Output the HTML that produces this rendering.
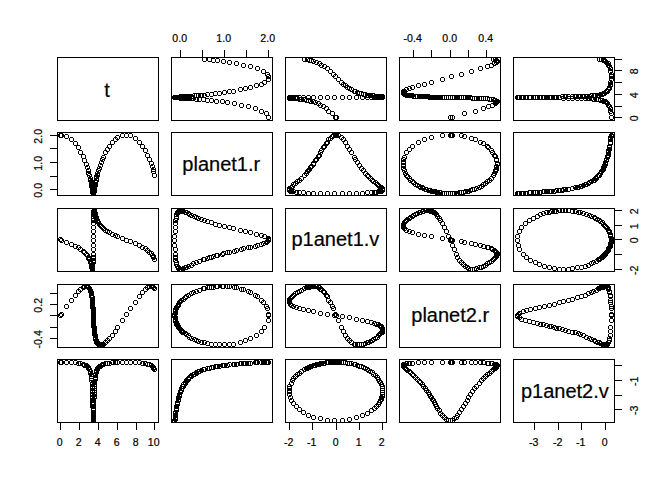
<!DOCTYPE html><html><head><meta charset="utf-8"><title>pairs</title><style>html,body{margin:0;padding:0;background:#fff}svg{display:block}text{font-family:"Liberation Sans",Arial,sans-serif;fill:#000;stroke:#000;stroke-width:0.2px}.a{font-size:10.56px}.l{font-size:20.00px}.p{fill:#000;stroke:none;shape-rendering:crispEdges}.b{fill:none;stroke:#000;stroke-width:1}line{stroke:#000;stroke-width:1}</style></head><body>
<svg width="672" height="480" viewBox="0 0 672 480"><rect width="672" height="480" fill="#fff" stroke="none"/>
<text class="l" x="107.15" y="96.80" text-anchor="middle">t</text>
<rect class="b" x="57.5" y="57.5" width="101.0" height="63.0"/>
<svg x="171.5" y="57.5" width="101.0" height="63.0" viewBox="171.5 57.5 101.0 63.0">
<path class="p" d="M267 115h3v1h-3zm0 4h3v1h-3zm-1-3h1v3h-1zm4 0h1v3h-1zM265 111h3v1h-3zm0 4h3v1h-3zm-1-3h1v3h-1zm4 0h1v3h-1zM260 109h3v1h-3zm0 4h3v1h-3zm-1-3h1v3h-1zm4 0h1v3h-1zM254 106h3v1h-3zm0 4h3v1h-3zm-1-3h1v3h-1zm4 0h1v3h-1zM247 104h3v1h-3zm0 4h3v1h-3zm-1-3h1v3h-1zm4 0h1v3h-1zM240 103h3v1h-3zm0 4h3v1h-3zm-1-3h1v3h-1zm4 0h1v3h-1zM233 101h3v1h-3zm0 4h3v1h-3zm-1-3h1v3h-1zm4 0h1v3h-1zM226 100h3v1h-3zm0 4h3v1h-3zm-1-3h1v3h-1zm4 0h1v3h-1zM221 99h3v1h-3zm0 4h3v1h-3zm-1-3h1v3h-1zm4 0h1v3h-1zM215 99h3v1h-3zm0 4h3v1h-3zm-1-3h1v3h-1zm4 0h1v3h-1zM210 98h3v1h-3zm0 4h3v1h-3zm-1-3h1v3h-1zm4 0h1v3h-1zM206 98h3v1h-3zm0 4h3v1h-3zm-1-3h1v3h-1zm4 0h1v3h-1zM202 97h3v1h-3zm0 4h3v1h-3zm-1-3h1v3h-1zm4 0h1v3h-1zM198 97h3v1h-3zm0 4h3v1h-3zm-1-3h1v3h-1zm4 0h1v3h-1zM195 97h3v1h-3zm0 4h3v1h-3zm-1-3h1v3h-1zm4 0h1v3h-1zM192 96h3v1h-3zm0 4h3v1h-3zm-1-3h1v3h-1zm4 0h1v3h-1zM190 96h3v1h-3zm0 4h3v1h-3zm-1-3h1v3h-1zm4 0h1v3h-1zM187 96h3v1h-3zm0 4h3v1h-3zm-1-3h1v3h-1zm4 0h1v3h-1zM185 96h3v1h-3zm0 4h3v1h-3zm-1-3h1v3h-1zm4 0h1v3h-1zM184 96h3v1h-3zm0 4h3v1h-3zm-1-3h1v3h-1zm4 0h1v3h-1zM182 96h3v1h-3zm0 4h3v1h-3zm-1-3h1v3h-1zm4 0h1v3h-1zM180 96h3v1h-3zm0 4h3v1h-3zm-1-3h1v3h-1zm4 0h1v3h-1zM179 96h3v1h-3zm0 4h3v1h-3zm-1-3h1v3h-1zm4 0h1v3h-1zM178 95h3v1h-3zm0 4h3v1h-3zm-1-3h1v3h-1zm4 0h1v3h-1zM177 95h3v1h-3zm0 4h3v1h-3zm-1-3h1v3h-1zm4 0h1v3h-1zM176 95h3v1h-3zm0 4h3v1h-3zm-1-3h1v3h-1zm4 0h1v3h-1zM175 95h3v1h-3zm0 4h3v1h-3zm-1-3h1v3h-1zm4 0h1v3h-1zM174 95h3v1h-3zm0 4h3v1h-3zm-1-3h1v3h-1zm4 0h1v3h-1zM173 95h3v1h-3zm0 4h3v1h-3zm-1-3h1v3h-1zm4 0h1v3h-1zM179 94h3v1h-3zm0 4h3v1h-3zm-1-3h1v3h-1zm4 0h1v3h-1zM180 94h3v1h-3zm0 4h3v1h-3zm-1-3h1v3h-1zm4 0h1v3h-1zM181 94h3v1h-3zm0 4h3v1h-3zm-1-3h1v3h-1zm4 0h1v3h-1zM182 94h3v1h-3zm0 4h3v1h-3zm-1-3h1v3h-1zm4 0h1v3h-1zM184 94h3v1h-3zm0 4h3v1h-3zm-1-3h1v3h-1zm4 0h1v3h-1zM185 94h3v1h-3zm0 4h3v1h-3zm-1-3h1v3h-1zm4 0h1v3h-1zM187 94h3v1h-3zm0 4h3v1h-3zm-1-3h1v3h-1zm4 0h1v3h-1zM188 94h3v1h-3zm0 4h3v1h-3zm-1-3h1v3h-1zm4 0h1v3h-1zM190 94h3v1h-3zm0 4h3v1h-3zm-1-3h1v3h-1zm4 0h1v3h-1zM193 93h3v1h-3zm0 4h3v1h-3zm-1-3h1v3h-1zm4 0h1v3h-1zM195 93h3v1h-3zm0 4h3v1h-3zm-1-3h1v3h-1zm4 0h1v3h-1zM197 93h3v1h-3zm0 4h3v1h-3zm-1-3h1v3h-1zm4 0h1v3h-1zM200 93h3v1h-3zm0 4h3v1h-3zm-1-3h1v3h-1zm4 0h1v3h-1zM203 93h3v1h-3zm0 4h3v1h-3zm-1-3h1v3h-1zm4 0h1v3h-1zM206 92h3v1h-3zm0 4h3v1h-3zm-1-3h1v3h-1zm4 0h1v3h-1zM210 92h3v1h-3zm0 4h3v1h-3zm-1-3h1v3h-1zm4 0h1v3h-1zM214 91h3v1h-3zm0 4h3v1h-3zm-1-3h1v3h-1zm4 0h1v3h-1zM218 91h3v1h-3zm0 4h3v1h-3zm-1-3h1v3h-1zm4 0h1v3h-1zM223 90h3v1h-3zm0 4h3v1h-3zm-1-3h1v3h-1zm4 0h1v3h-1zM228 89h3v1h-3zm0 4h3v1h-3zm-1-3h1v3h-1zm4 0h1v3h-1zM232 89h3v1h-3zm0 4h3v1h-3zm-1-3h1v3h-1zm4 0h1v3h-1zM239 87h3v1h-3zm0 4h3v1h-3zm-1-3h1v3h-1zm4 0h1v3h-1zM244 86h3v1h-3zm0 4h3v1h-3zm-1-3h1v3h-1zm4 0h1v3h-1zM249 85h3v1h-3zm0 4h3v1h-3zm-1-3h1v3h-1zm4 0h1v3h-1zM255 83h3v1h-3zm0 4h3v1h-3zm-1-3h1v3h-1zm4 0h1v3h-1zM260 82h3v1h-3zm0 4h3v1h-3zm-1-3h1v3h-1zm4 0h1v3h-1zM263 80h3v1h-3zm0 4h3v1h-3zm-1-3h1v3h-1zm4 0h1v3h-1zM267 77h3v1h-3zm0 4h3v1h-3zm-1-3h1v3h-1zm4 0h1v3h-1zM267 74h3v1h-3zm0 4h3v1h-3zm-1-3h1v3h-1zm4 0h1v3h-1zM266 72h3v1h-3zm0 4h3v1h-3zm-1-3h1v3h-1zm4 0h1v3h-1zM262 69h3v1h-3zm0 4h3v1h-3zm-1-3h1v3h-1zm4 0h1v3h-1zM256 66h3v1h-3zm0 4h3v1h-3zm-1-3h1v3h-1zm4 0h1v3h-1zM249 64h3v1h-3zm0 4h3v1h-3zm-1-3h1v3h-1zm4 0h1v3h-1zM242 63h3v1h-3zm0 4h3v1h-3zm-1-3h1v3h-1zm4 0h1v3h-1zM235 61h3v1h-3zm0 4h3v1h-3zm-1-3h1v3h-1zm4 0h1v3h-1zM228 60h3v1h-3zm0 4h3v1h-3zm-1-3h1v3h-1zm4 0h1v3h-1zM222 59h3v1h-3zm0 4h3v1h-3zm-1-3h1v3h-1zm4 0h1v3h-1zM216 58h3v1h-3zm0 4h3v1h-3zm-1-3h1v3h-1zm4 0h1v3h-1zM212 58h3v1h-3zm0 4h3v1h-3zm-1-3h1v3h-1zm4 0h1v3h-1zM208 57h3v1h-3zm0 4h3v1h-3zm-1-3h1v3h-1zm4 0h1v3h-1zM203 57h3v1h-3zm0 4h3v1h-3zm-1-3h1v3h-1zm4 0h1v3h-1z"/>
</svg>
<rect class="b" x="171.5" y="57.5" width="101.0" height="63.0"/>
<svg x="285.5" y="57.5" width="101.0" height="63.0" viewBox="285.5 57.5 101.0 63.0">
<path class="p" d="M335 115h3v1h-3zm0 4h3v1h-3zm-1-3h1v3h-1zm4 0h1v3h-1zM334 115h3v1h-3zm0 4h3v1h-3zm-1-3h1v3h-1zm4 0h1v3h-1zM331 111h3v1h-3zm0 4h3v1h-3zm-1-3h1v3h-1zm4 0h1v3h-1zM327 109h3v1h-3zm0 4h3v1h-3zm-1-3h1v3h-1zm4 0h1v3h-1zM325 106h3v1h-3zm0 4h3v1h-3zm-1-3h1v3h-1zm4 0h1v3h-1zM322 104h3v1h-3zm0 4h3v1h-3zm-1-3h1v3h-1zm4 0h1v3h-1zM319 103h3v1h-3zm0 4h3v1h-3zm-1-3h1v3h-1zm4 0h1v3h-1zM317 101h3v1h-3zm0 4h3v1h-3zm-1-3h1v3h-1zm4 0h1v3h-1zM314 100h3v1h-3zm0 4h3v1h-3zm-1-3h1v3h-1zm4 0h1v3h-1zM312 99h3v1h-3zm0 4h3v1h-3zm-1-3h1v3h-1zm4 0h1v3h-1zM309 99h3v1h-3zm0 4h3v1h-3zm-1-3h1v3h-1zm4 0h1v3h-1zM307 98h3v1h-3zm0 4h3v1h-3zm-1-3h1v3h-1zm4 0h1v3h-1zM305 98h3v1h-3zm0 4h3v1h-3zm-1-3h1v3h-1zm4 0h1v3h-1zM303 97h3v1h-3zm0 4h3v1h-3zm-1-3h1v3h-1zm4 0h1v3h-1zM300 97h3v1h-3zm0 4h3v1h-3zm-1-3h1v3h-1zm4 0h1v3h-1zM298 97h3v1h-3zm0 4h3v1h-3zm-1-3h1v3h-1zm4 0h1v3h-1zM296 96h3v1h-3zm0 4h3v1h-3zm-1-3h1v3h-1zm4 0h1v3h-1zM294 96h3v1h-3zm0 4h3v1h-3zm-1-3h1v3h-1zm4 0h1v3h-1zM292 96h3v1h-3zm0 4h3v1h-3zm-1-3h1v3h-1zm4 0h1v3h-1zM291 96h3v1h-3zm0 4h3v1h-3zm-1-3h1v3h-1zm4 0h1v3h-1zM290 96h3v1h-3zm0 4h3v1h-3zm-1-3h1v3h-1zm4 0h1v3h-1zM288 96h3v1h-3zm0 4h3v1h-3zm-1-3h1v3h-1zm4 0h1v3h-1zM288 95h3v1h-3zm0 4h3v1h-3zm-1-3h1v3h-1zm4 0h1v3h-1zM289 95h3v1h-3zm0 4h3v1h-3zm-1-3h1v3h-1zm4 0h1v3h-1zM290 95h3v1h-3zm0 4h3v1h-3zm-1-3h1v3h-1zm4 0h1v3h-1zM292 95h3v1h-3zm0 4h3v1h-3zm-1-3h1v3h-1zm4 0h1v3h-1zM295 95h3v1h-3zm0 4h3v1h-3zm-1-3h1v3h-1zm4 0h1v3h-1zM298 95h3v1h-3zm0 4h3v1h-3zm-1-3h1v3h-1zm4 0h1v3h-1zM302 95h3v1h-3zm0 4h3v1h-3zm-1-3h1v3h-1zm4 0h1v3h-1zM307 95h3v1h-3zm0 4h3v1h-3zm-1-3h1v3h-1zm4 0h1v3h-1zM312 95h3v1h-3zm0 4h3v1h-3zm-1-3h1v3h-1zm4 0h1v3h-1zM319 95h3v1h-3zm0 4h3v1h-3zm-1-3h1v3h-1zm4 0h1v3h-1zM326 95h3v1h-3zm0 4h3v1h-3zm-1-3h1v3h-1zm4 0h1v3h-1zM333 95h3v1h-3zm0 4h3v1h-3zm-1-3h1v3h-1zm4 0h1v3h-1zM341 95h3v1h-3zm0 4h3v1h-3zm-1-3h1v3h-1zm4 0h1v3h-1zM348 95h3v1h-3zm0 4h3v1h-3zm-1-3h1v3h-1zm4 0h1v3h-1zM355 95h3v1h-3zm0 4h3v1h-3zm-1-3h1v3h-1zm4 0h1v3h-1zM361 95h3v1h-3zm0 4h3v1h-3zm-1-3h1v3h-1zm4 0h1v3h-1zM366 95h3v1h-3zm0 4h3v1h-3zm-1-3h1v3h-1zm4 0h1v3h-1zM370 95h3v1h-3zm0 4h3v1h-3zm-1-3h1v3h-1zm4 0h1v3h-1zM373 95h3v1h-3zm0 4h3v1h-3zm-1-3h1v3h-1zm4 0h1v3h-1zM375 95h3v1h-3zm0 4h3v1h-3zm-1-3h1v3h-1zm4 0h1v3h-1zM377 95h3v1h-3zm0 4h3v1h-3zm-1-3h1v3h-1zm4 0h1v3h-1zM378 95h3v1h-3zm0 4h3v1h-3zm-1-3h1v3h-1zm4 0h1v3h-1zM379 95h3v1h-3zm0 4h3v1h-3zm-1-3h1v3h-1zm4 0h1v3h-1zM380 95h3v1h-3zm0 4h3v1h-3zm-1-3h1v3h-1zm4 0h1v3h-1zM381 95h3v1h-3zm0 4h3v1h-3zm-1-3h1v3h-1zm4 0h1v3h-1zM381 94h3v1h-3zm0 4h3v1h-3zm-1-3h1v3h-1zm4 0h1v3h-1zM380 94h3v1h-3zm0 4h3v1h-3zm-1-3h1v3h-1zm4 0h1v3h-1zM379 94h3v1h-3zm0 4h3v1h-3zm-1-3h1v3h-1zm4 0h1v3h-1zM378 94h3v1h-3zm0 4h3v1h-3zm-1-3h1v3h-1zm4 0h1v3h-1zM377 94h3v1h-3zm0 4h3v1h-3zm-1-3h1v3h-1zm4 0h1v3h-1zM376 94h3v1h-3zm0 4h3v1h-3zm-1-3h1v3h-1zm4 0h1v3h-1zM374 94h3v1h-3zm0 4h3v1h-3zm-1-3h1v3h-1zm4 0h1v3h-1zM372 93h3v1h-3zm0 4h3v1h-3zm-1-3h1v3h-1zm4 0h1v3h-1zM371 93h3v1h-3zm0 4h3v1h-3zm-1-3h1v3h-1zm4 0h1v3h-1zM369 93h3v1h-3zm0 4h3v1h-3zm-1-3h1v3h-1zm4 0h1v3h-1zM367 93h3v1h-3zm0 4h3v1h-3zm-1-3h1v3h-1zm4 0h1v3h-1zM366 93h3v1h-3zm0 4h3v1h-3zm-1-3h1v3h-1zm4 0h1v3h-1zM364 92h3v1h-3zm0 4h3v1h-3zm-1-3h1v3h-1zm4 0h1v3h-1zM362 92h3v1h-3zm0 4h3v1h-3zm-1-3h1v3h-1zm4 0h1v3h-1zM360 91h3v1h-3zm0 4h3v1h-3zm-1-3h1v3h-1zm4 0h1v3h-1zM358 91h3v1h-3zm0 4h3v1h-3zm-1-3h1v3h-1zm4 0h1v3h-1zM356 90h3v1h-3zm0 4h3v1h-3zm-1-3h1v3h-1zm4 0h1v3h-1zM354 89h3v1h-3zm0 4h3v1h-3zm-1-3h1v3h-1zm4 0h1v3h-1zM353 89h3v1h-3zm0 4h3v1h-3zm-1-3h1v3h-1zm4 0h1v3h-1zM350 87h3v1h-3zm0 4h3v1h-3zm-1-3h1v3h-1zm4 0h1v3h-1zM348 86h3v1h-3zm0 4h3v1h-3zm-1-3h1v3h-1zm4 0h1v3h-1zM346 85h3v1h-3zm0 4h3v1h-3zm-1-3h1v3h-1zm4 0h1v3h-1zM344 83h3v1h-3zm0 4h3v1h-3zm-1-3h1v3h-1zm4 0h1v3h-1zM342 82h3v1h-3zm0 4h3v1h-3zm-1-3h1v3h-1zm4 0h1v3h-1zM340 80h3v1h-3zm0 4h3v1h-3zm-1-3h1v3h-1zm4 0h1v3h-1zM337 77h3v1h-3zm0 4h3v1h-3zm-1-3h1v3h-1zm4 0h1v3h-1zM334 74h3v1h-3zm0 4h3v1h-3zm-1-3h1v3h-1zm4 0h1v3h-1zM332 72h3v1h-3zm0 4h3v1h-3zm-1-3h1v3h-1zm4 0h1v3h-1zM329 69h3v1h-3zm0 4h3v1h-3zm-1-3h1v3h-1zm4 0h1v3h-1zM326 66h3v1h-3zm0 4h3v1h-3zm-1-3h1v3h-1zm4 0h1v3h-1zM323 64h3v1h-3zm0 4h3v1h-3zm-1-3h1v3h-1zm4 0h1v3h-1zM320 63h3v1h-3zm0 4h3v1h-3zm-1-3h1v3h-1zm4 0h1v3h-1zM318 61h3v1h-3zm0 4h3v1h-3zm-1-3h1v3h-1zm4 0h1v3h-1zM315 60h3v1h-3zm0 4h3v1h-3zm-1-3h1v3h-1zm4 0h1v3h-1zM312 59h3v1h-3zm0 4h3v1h-3zm-1-3h1v3h-1zm4 0h1v3h-1zM310 58h3v1h-3zm0 4h3v1h-3zm-1-3h1v3h-1zm4 0h1v3h-1zM308 58h3v1h-3zm0 4h3v1h-3zm-1-3h1v3h-1zm4 0h1v3h-1zM306 57h3v1h-3zm0 4h3v1h-3zm-1-3h1v3h-1zm4 0h1v3h-1zM303 57h3v1h-3zm0 4h3v1h-3zm-1-3h1v3h-1zm4 0h1v3h-1z"/>
</svg>
<rect class="b" x="285.5" y="57.5" width="101.0" height="63.0"/>
<svg x="399.5" y="57.5" width="101.0" height="63.0" viewBox="399.5 57.5 101.0 63.0">
<path class="p" d="M449 115h3v1h-3zm0 4h3v1h-3zm-1-3h1v3h-1zm4 0h1v3h-1zM451 115h3v1h-3zm0 4h3v1h-3zm-1-3h1v3h-1zm4 0h1v3h-1zM463 111h3v1h-3zm0 4h3v1h-3zm-1-3h1v3h-1zm4 0h1v3h-1zM474 109h3v1h-3zm0 4h3v1h-3zm-1-3h1v3h-1zm4 0h1v3h-1zM482 106h3v1h-3zm0 4h3v1h-3zm-1-3h1v3h-1zm4 0h1v3h-1zM487 104h3v1h-3zm0 4h3v1h-3zm-1-3h1v3h-1zm4 0h1v3h-1zM491 103h3v1h-3zm0 4h3v1h-3zm-1-3h1v3h-1zm4 0h1v3h-1zM494 101h3v1h-3zm0 4h3v1h-3zm-1-3h1v3h-1zm4 0h1v3h-1zM495 100h3v1h-3zm0 4h3v1h-3zm-1-3h1v3h-1zm4 0h1v3h-1zM496 99h3v1h-3zm0 4h3v1h-3zm-1-3h1v3h-1zm4 0h1v3h-1zM495 99h3v1h-3zm0 4h3v1h-3zm-1-3h1v3h-1zm4 0h1v3h-1zM494 98h3v1h-3zm0 4h3v1h-3zm-1-3h1v3h-1zm4 0h1v3h-1zM493 98h3v1h-3zm0 4h3v1h-3zm-1-3h1v3h-1zm4 0h1v3h-1zM492 97h3v1h-3zm0 4h3v1h-3zm-1-3h1v3h-1zm4 0h1v3h-1zM490 97h3v1h-3zm0 4h3v1h-3zm-1-3h1v3h-1zm4 0h1v3h-1zM488 97h3v1h-3zm0 4h3v1h-3zm-1-3h1v3h-1zm4 0h1v3h-1zM486 96h3v1h-3zm0 4h3v1h-3zm-1-3h1v3h-1zm4 0h1v3h-1zM484 96h3v1h-3zm0 4h3v1h-3zm-1-3h1v3h-1zm4 0h1v3h-1zM482 96h3v1h-3zm0 4h3v1h-3zm-1-3h1v3h-1zm4 0h1v3h-1zM480 96h3v1h-3zm0 4h3v1h-3zm-1-3h1v3h-1zm4 0h1v3h-1zM478 96h3v1h-3zm0 4h3v1h-3zm-1-3h1v3h-1zm4 0h1v3h-1zM475 96h3v1h-3zm0 4h3v1h-3zm-1-3h1v3h-1zm4 0h1v3h-1zM473 96h3v1h-3zm0 4h3v1h-3zm-1-3h1v3h-1zm4 0h1v3h-1zM471 96h3v1h-3zm0 4h3v1h-3zm-1-3h1v3h-1zm4 0h1v3h-1zM469 95h3v1h-3zm0 4h3v1h-3zm-1-3h1v3h-1zm4 0h1v3h-1zM467 95h3v1h-3zm0 4h3v1h-3zm-1-3h1v3h-1zm4 0h1v3h-1zM466 95h3v1h-3zm0 4h3v1h-3zm-1-3h1v3h-1zm4 0h1v3h-1zM464 95h3v1h-3zm0 4h3v1h-3zm-1-3h1v3h-1zm4 0h1v3h-1zM462 95h3v1h-3zm0 4h3v1h-3zm-1-3h1v3h-1zm4 0h1v3h-1zM460 95h3v1h-3zm0 4h3v1h-3zm-1-3h1v3h-1zm4 0h1v3h-1zM458 95h3v1h-3zm0 4h3v1h-3zm-1-3h1v3h-1zm4 0h1v3h-1zM456 95h3v1h-3zm0 4h3v1h-3zm-1-3h1v3h-1zm4 0h1v3h-1zM455 95h3v1h-3zm0 4h3v1h-3zm-1-3h1v3h-1zm4 0h1v3h-1zM453 95h3v1h-3zm0 4h3v1h-3zm-1-3h1v3h-1zm4 0h1v3h-1zM451 95h3v1h-3zm0 4h3v1h-3zm-1-3h1v3h-1zm4 0h1v3h-1zM449 95h3v1h-3zm0 4h3v1h-3zm-1-3h1v3h-1zm4 0h1v3h-1zM447 95h3v1h-3zm0 4h3v1h-3zm-1-3h1v3h-1zm4 0h1v3h-1zM445 95h3v1h-3zm0 4h3v1h-3zm-1-3h1v3h-1zm4 0h1v3h-1zM443 95h3v1h-3zm0 4h3v1h-3zm-1-3h1v3h-1zm4 0h1v3h-1zM441 95h3v1h-3zm0 4h3v1h-3zm-1-3h1v3h-1zm4 0h1v3h-1zM439 95h3v1h-3zm0 4h3v1h-3zm-1-3h1v3h-1zm4 0h1v3h-1zM438 95h3v1h-3zm0 4h3v1h-3zm-1-3h1v3h-1zm4 0h1v3h-1zM436 95h3v1h-3zm0 4h3v1h-3zm-1-3h1v3h-1zm4 0h1v3h-1zM435 95h3v1h-3zm0 4h3v1h-3zm-1-3h1v3h-1zm4 0h1v3h-1zM434 95h3v1h-3zm0 4h3v1h-3zm-1-3h1v3h-1zm4 0h1v3h-1zM433 95h3v1h-3zm0 4h3v1h-3zm-1-3h1v3h-1zm4 0h1v3h-1zM432 95h3v1h-3zm0 4h3v1h-3zm-1-3h1v3h-1zm4 0h1v3h-1zM431 95h3v1h-3zm0 4h3v1h-3zm-1-3h1v3h-1zm4 0h1v3h-1zM430 95h3v1h-3zm0 4h3v1h-3zm-1-3h1v3h-1zm4 0h1v3h-1zM429 95h3v1h-3zm0 4h3v1h-3zm-1-3h1v3h-1zm4 0h1v3h-1zM428 95h3v1h-3zm0 4h3v1h-3zm-1-3h1v3h-1zm4 0h1v3h-1zM427 94h3v1h-3zm0 4h3v1h-3zm-1-3h1v3h-1zm4 0h1v3h-1zM425 94h3v1h-3zm0 4h3v1h-3zm-1-3h1v3h-1zm4 0h1v3h-1zM424 94h3v1h-3zm0 4h3v1h-3zm-1-3h1v3h-1zm4 0h1v3h-1zM422 94h3v1h-3zm0 4h3v1h-3zm-1-3h1v3h-1zm4 0h1v3h-1zM421 94h3v1h-3zm0 4h3v1h-3zm-1-3h1v3h-1zm4 0h1v3h-1zM419 94h3v1h-3zm0 4h3v1h-3zm-1-3h1v3h-1zm4 0h1v3h-1zM418 94h3v1h-3zm0 4h3v1h-3zm-1-3h1v3h-1zm4 0h1v3h-1zM416 94h3v1h-3zm0 4h3v1h-3zm-1-3h1v3h-1zm4 0h1v3h-1zM414 94h3v1h-3zm0 4h3v1h-3zm-1-3h1v3h-1zm4 0h1v3h-1zM412 94h3v1h-3zm0 4h3v1h-3zm-1-3h1v3h-1zm4 0h1v3h-1zM411 93h3v1h-3zm0 4h3v1h-3zm-1-3h1v3h-1zm4 0h1v3h-1zM409 93h3v1h-3zm0 4h3v1h-3zm-1-3h1v3h-1zm4 0h1v3h-1zM408 93h3v1h-3zm0 4h3v1h-3zm-1-3h1v3h-1zm4 0h1v3h-1zM406 93h3v1h-3zm0 4h3v1h-3zm-1-3h1v3h-1zm4 0h1v3h-1zM405 93h3v1h-3zm0 4h3v1h-3zm-1-3h1v3h-1zm4 0h1v3h-1zM404 92h3v1h-3zm0 4h3v1h-3zm-1-3h1v3h-1zm4 0h1v3h-1zM403 92h3v1h-3zm0 4h3v1h-3zm-1-3h1v3h-1zm4 0h1v3h-1zM402 91h3v1h-3zm0 4h3v1h-3zm-1-3h1v3h-1zm4 0h1v3h-1zM402 90h3v1h-3zm0 4h3v1h-3zm-1-3h1v3h-1zm4 0h1v3h-1zM402 89h3v1h-3zm0 4h3v1h-3zm-1-3h1v3h-1zm4 0h1v3h-1zM403 89h3v1h-3zm0 4h3v1h-3zm-1-3h1v3h-1zm4 0h1v3h-1zM405 87h3v1h-3zm0 4h3v1h-3zm-1-3h1v3h-1zm4 0h1v3h-1zM408 86h3v1h-3zm0 4h3v1h-3zm-1-3h1v3h-1zm4 0h1v3h-1zM411 85h3v1h-3zm0 4h3v1h-3zm-1-3h1v3h-1zm4 0h1v3h-1zM417 83h3v1h-3zm0 4h3v1h-3zm-1-3h1v3h-1zm4 0h1v3h-1zM423 82h3v1h-3zm0 4h3v1h-3zm-1-3h1v3h-1zm4 0h1v3h-1zM430 80h3v1h-3zm0 4h3v1h-3zm-1-3h1v3h-1zm4 0h1v3h-1zM441 77h3v1h-3zm0 4h3v1h-3zm-1-3h1v3h-1zm4 0h1v3h-1zM450 74h3v1h-3zm0 4h3v1h-3zm-1-3h1v3h-1zm4 0h1v3h-1zM460 72h3v1h-3zm0 4h3v1h-3zm-1-3h1v3h-1zm4 0h1v3h-1zM470 69h3v1h-3zm0 4h3v1h-3zm-1-3h1v3h-1zm4 0h1v3h-1zM479 66h3v1h-3zm0 4h3v1h-3zm-1-3h1v3h-1zm4 0h1v3h-1zM486 64h3v1h-3zm0 4h3v1h-3zm-1-3h1v3h-1zm4 0h1v3h-1zM490 63h3v1h-3zm0 4h3v1h-3zm-1-3h1v3h-1zm4 0h1v3h-1zM493 61h3v1h-3zm0 4h3v1h-3zm-1-3h1v3h-1zm4 0h1v3h-1zM495 60h3v1h-3zm0 4h3v1h-3zm-1-3h1v3h-1zm4 0h1v3h-1zM496 59h3v1h-3zm0 4h3v1h-3zm-1-3h1v3h-1zm4 0h1v3h-1zM495 58h3v1h-3zm0 4h3v1h-3zm-1-3h1v3h-1zm4 0h1v3h-1zM494 57h3v1h-3zm0 4h3v1h-3zm-1-3h1v3h-1zm4 0h1v3h-1zM492 57h3v1h-3zm0 4h3v1h-3zm-1-3h1v3h-1zm4 0h1v3h-1z"/>
</svg>
<rect class="b" x="399.5" y="57.5" width="101.0" height="63.0"/>
<svg x="513.5" y="57.5" width="101.0" height="63.0" viewBox="513.5 57.5 101.0 63.0">
<path class="p" d="M610 115h3v1h-3zm0 4h3v1h-3zm-1-3h1v3h-1zm4 0h1v3h-1zM610 111h3v1h-3zm0 4h3v1h-3zm-1-3h1v3h-1zm4 0h1v3h-1zM609 109h3v1h-3zm0 4h3v1h-3zm-1-3h1v3h-1zm4 0h1v3h-1zM609 106h3v1h-3zm0 4h3v1h-3zm-1-3h1v3h-1zm4 0h1v3h-1zM608 104h3v1h-3zm0 4h3v1h-3zm-1-3h1v3h-1zm4 0h1v3h-1zM607 103h3v1h-3zm0 4h3v1h-3zm-1-3h1v3h-1zm4 0h1v3h-1zM606 101h3v1h-3zm0 4h3v1h-3zm-1-3h1v3h-1zm4 0h1v3h-1zM605 100h3v1h-3zm0 4h3v1h-3zm-1-3h1v3h-1zm4 0h1v3h-1zM604 99h3v1h-3zm0 4h3v1h-3zm-1-3h1v3h-1zm4 0h1v3h-1zM602 99h3v1h-3zm0 4h3v1h-3zm-1-3h1v3h-1zm4 0h1v3h-1zM601 98h3v1h-3zm0 4h3v1h-3zm-1-3h1v3h-1zm4 0h1v3h-1zM599 98h3v1h-3zm0 4h3v1h-3zm-1-3h1v3h-1zm4 0h1v3h-1zM597 97h3v1h-3zm0 4h3v1h-3zm-1-3h1v3h-1zm4 0h1v3h-1zM595 97h3v1h-3zm0 4h3v1h-3zm-1-3h1v3h-1zm4 0h1v3h-1zM592 97h3v1h-3zm0 4h3v1h-3zm-1-3h1v3h-1zm4 0h1v3h-1zM590 96h3v1h-3zm0 4h3v1h-3zm-1-3h1v3h-1zm4 0h1v3h-1zM587 96h3v1h-3zm0 4h3v1h-3zm-1-3h1v3h-1zm4 0h1v3h-1zM584 96h3v1h-3zm0 4h3v1h-3zm-1-3h1v3h-1zm4 0h1v3h-1zM580 96h3v1h-3zm0 4h3v1h-3zm-1-3h1v3h-1zm4 0h1v3h-1zM576 96h3v1h-3zm0 4h3v1h-3zm-1-3h1v3h-1zm4 0h1v3h-1zM571 96h3v1h-3zm0 4h3v1h-3zm-1-3h1v3h-1zm4 0h1v3h-1zM567 96h3v1h-3zm0 4h3v1h-3zm-1-3h1v3h-1zm4 0h1v3h-1zM562 96h3v1h-3zm0 4h3v1h-3zm-1-3h1v3h-1zm4 0h1v3h-1zM558 95h3v1h-3zm0 4h3v1h-3zm-1-3h1v3h-1zm4 0h1v3h-1zM553 95h3v1h-3zm0 4h3v1h-3zm-1-3h1v3h-1zm4 0h1v3h-1zM548 95h3v1h-3zm0 4h3v1h-3zm-1-3h1v3h-1zm4 0h1v3h-1zM543 95h3v1h-3zm0 4h3v1h-3zm-1-3h1v3h-1zm4 0h1v3h-1zM538 95h3v1h-3zm0 4h3v1h-3zm-1-3h1v3h-1zm4 0h1v3h-1zM534 95h3v1h-3zm0 4h3v1h-3zm-1-3h1v3h-1zm4 0h1v3h-1zM529 95h3v1h-3zm0 4h3v1h-3zm-1-3h1v3h-1zm4 0h1v3h-1zM525 95h3v1h-3zm0 4h3v1h-3zm-1-3h1v3h-1zm4 0h1v3h-1zM522 95h3v1h-3zm0 4h3v1h-3zm-1-3h1v3h-1zm4 0h1v3h-1zM518 95h3v1h-3zm0 4h3v1h-3zm-1-3h1v3h-1zm4 0h1v3h-1zM517 95h3v1h-3zm0 4h3v1h-3zm-1-3h1v3h-1zm4 0h1v3h-1zM516 95h3v1h-3zm0 4h3v1h-3zm-1-3h1v3h-1zm4 0h1v3h-1zM520 95h3v1h-3zm0 4h3v1h-3zm-1-3h1v3h-1zm4 0h1v3h-1zM524 95h3v1h-3zm0 4h3v1h-3zm-1-3h1v3h-1zm4 0h1v3h-1zM528 95h3v1h-3zm0 4h3v1h-3zm-1-3h1v3h-1zm4 0h1v3h-1zM532 95h3v1h-3zm0 4h3v1h-3zm-1-3h1v3h-1zm4 0h1v3h-1zM536 95h3v1h-3zm0 4h3v1h-3zm-1-3h1v3h-1zm4 0h1v3h-1zM539 95h3v1h-3zm0 4h3v1h-3zm-1-3h1v3h-1zm4 0h1v3h-1zM542 95h3v1h-3zm0 4h3v1h-3zm-1-3h1v3h-1zm4 0h1v3h-1zM545 95h3v1h-3zm0 4h3v1h-3zm-1-3h1v3h-1zm4 0h1v3h-1zM550 95h3v1h-3zm0 4h3v1h-3zm-1-3h1v3h-1zm4 0h1v3h-1zM555 95h3v1h-3zm0 4h3v1h-3zm-1-3h1v3h-1zm4 0h1v3h-1zM561 94h3v1h-3zm0 4h3v1h-3zm-1-3h1v3h-1zm4 0h1v3h-1zM564 94h3v1h-3zm0 4h3v1h-3zm-1-3h1v3h-1zm4 0h1v3h-1zM567 94h3v1h-3zm0 4h3v1h-3zm-1-3h1v3h-1zm4 0h1v3h-1zM571 94h3v1h-3zm0 4h3v1h-3zm-1-3h1v3h-1zm4 0h1v3h-1zM574 94h3v1h-3zm0 4h3v1h-3zm-1-3h1v3h-1zm4 0h1v3h-1zM577 94h3v1h-3zm0 4h3v1h-3zm-1-3h1v3h-1zm4 0h1v3h-1zM579 94h3v1h-3zm0 4h3v1h-3zm-1-3h1v3h-1zm4 0h1v3h-1zM582 94h3v1h-3zm0 4h3v1h-3zm-1-3h1v3h-1zm4 0h1v3h-1zM585 94h3v1h-3zm0 4h3v1h-3zm-1-3h1v3h-1zm4 0h1v3h-1zM588 94h3v1h-3zm0 4h3v1h-3zm-1-3h1v3h-1zm4 0h1v3h-1zM590 93h3v1h-3zm0 4h3v1h-3zm-1-3h1v3h-1zm4 0h1v3h-1zM593 93h3v1h-3zm0 4h3v1h-3zm-1-3h1v3h-1zm4 0h1v3h-1zM594 93h3v1h-3zm0 4h3v1h-3zm-1-3h1v3h-1zm4 0h1v3h-1zM596 93h3v1h-3zm0 4h3v1h-3zm-1-3h1v3h-1zm4 0h1v3h-1zM598 93h3v1h-3zm0 4h3v1h-3zm-1-3h1v3h-1zm4 0h1v3h-1zM599 92h3v1h-3zm0 4h3v1h-3zm-1-3h1v3h-1zm4 0h1v3h-1zM601 92h3v1h-3zm0 4h3v1h-3zm-1-3h1v3h-1zm4 0h1v3h-1zM602 91h3v1h-3zm0 4h3v1h-3zm-1-3h1v3h-1zm4 0h1v3h-1zM603 91h3v1h-3zm0 4h3v1h-3zm-1-3h1v3h-1zm4 0h1v3h-1zM604 90h3v1h-3zm0 4h3v1h-3zm-1-3h1v3h-1zm4 0h1v3h-1zM605 89h3v1h-3zm0 4h3v1h-3zm-1-3h1v3h-1zm4 0h1v3h-1zM606 89h3v1h-3zm0 4h3v1h-3zm-1-3h1v3h-1zm4 0h1v3h-1zM607 87h3v1h-3zm0 4h3v1h-3zm-1-3h1v3h-1zm4 0h1v3h-1zM608 86h3v1h-3zm0 4h3v1h-3zm-1-3h1v3h-1zm4 0h1v3h-1zM608 85h3v1h-3zm0 4h3v1h-3zm-1-3h1v3h-1zm4 0h1v3h-1zM609 83h3v1h-3zm0 4h3v1h-3zm-1-3h1v3h-1zm4 0h1v3h-1zM609 82h3v1h-3zm0 4h3v1h-3zm-1-3h1v3h-1zm4 0h1v3h-1zM609 80h3v1h-3zm0 4h3v1h-3zm-1-3h1v3h-1zm4 0h1v3h-1zM610 77h3v1h-3zm0 4h3v1h-3zm-1-3h1v3h-1zm4 0h1v3h-1zM610 74h3v1h-3zm0 4h3v1h-3zm-1-3h1v3h-1zm4 0h1v3h-1zM610 72h3v1h-3zm0 4h3v1h-3zm-1-3h1v3h-1zm4 0h1v3h-1zM609 69h3v1h-3zm0 4h3v1h-3zm-1-3h1v3h-1zm4 0h1v3h-1zM609 66h3v1h-3zm0 4h3v1h-3zm-1-3h1v3h-1zm4 0h1v3h-1zM608 64h3v1h-3zm0 4h3v1h-3zm-1-3h1v3h-1zm4 0h1v3h-1zM607 63h3v1h-3zm0 4h3v1h-3zm-1-3h1v3h-1zm4 0h1v3h-1zM607 61h3v1h-3zm0 4h3v1h-3zm-1-3h1v3h-1zm4 0h1v3h-1zM605 60h3v1h-3zm0 4h3v1h-3zm-1-3h1v3h-1zm4 0h1v3h-1zM604 59h3v1h-3zm0 4h3v1h-3zm-1-3h1v3h-1zm4 0h1v3h-1zM603 58h3v1h-3zm0 4h3v1h-3zm-1-3h1v3h-1zm4 0h1v3h-1zM602 58h3v1h-3zm0 4h3v1h-3zm-1-3h1v3h-1zm4 0h1v3h-1zM600 57h3v1h-3zm0 4h3v1h-3zm-1-3h1v3h-1zm4 0h1v3h-1zM598 57h3v1h-3zm0 4h3v1h-3zm-1-3h1v3h-1zm4 0h1v3h-1z"/>
</svg>
<rect class="b" x="513.5" y="57.5" width="101.0" height="63.0"/>
<svg x="57.5" y="132.5" width="101.0" height="63.0" viewBox="57.5 132.5 101.0 63.0">
<path class="p" d="M59 133h3v1h-3zm0 4h3v1h-3zm-1-3h1v3h-1zm4 0h1v3h-1zM60 133h3v1h-3zm0 4h3v1h-3zm-1-3h1v3h-1zm4 0h1v3h-1zM65 134h3v1h-3zm0 4h3v1h-3zm-1-3h1v3h-1zm4 0h1v3h-1zM70 137h3v1h-3zm0 4h3v1h-3zm-1-3h1v3h-1zm4 0h1v3h-1zM74 141h3v1h-3zm0 4h3v1h-3zm-1-3h1v3h-1zm4 0h1v3h-1zM77 145h3v1h-3zm0 4h3v1h-3zm-1-3h1v3h-1zm4 0h1v3h-1zM79 150h3v1h-3zm0 4h3v1h-3zm-1-3h1v3h-1zm4 0h1v3h-1zM82 154h3v1h-3zm0 4h3v1h-3zm-1-3h1v3h-1zm4 0h1v3h-1zM83 158h3v1h-3zm0 4h3v1h-3zm-1-3h1v3h-1zm4 0h1v3h-1zM85 162h3v1h-3zm0 4h3v1h-3zm-1-3h1v3h-1zm4 0h1v3h-1zM86 165h3v1h-3zm0 4h3v1h-3zm-1-3h1v3h-1zm4 0h1v3h-1zM87 168h3v1h-3zm0 4h3v1h-3zm-1-3h1v3h-1zm4 0h1v3h-1zM87 171h3v1h-3zm0 4h3v1h-3zm-1-3h1v3h-1zm4 0h1v3h-1zM88 173h3v1h-3zm0 4h3v1h-3zm-1-3h1v3h-1zm4 0h1v3h-1zM89 176h3v1h-3zm0 4h3v1h-3zm-1-3h1v3h-1zm4 0h1v3h-1zM89 178h3v1h-3zm0 4h3v1h-3zm-1-3h1v3h-1zm4 0h1v3h-1zM90 179h3v1h-3zm0 4h3v1h-3zm-1-3h1v3h-1zm4 0h1v3h-1zM90 181h3v1h-3zm0 4h3v1h-3zm-1-3h1v3h-1zm4 0h1v3h-1zM90 182h3v1h-3zm0 4h3v1h-3zm-1-3h1v3h-1zm4 0h1v3h-1zM90 184h3v1h-3zm0 4h3v1h-3zm-1-3h1v3h-1zm4 0h1v3h-1zM91 185h3v1h-3zm0 4h3v1h-3zm-1-3h1v3h-1zm4 0h1v3h-1zM91 186h3v1h-3zm0 4h3v1h-3zm-1-3h1v3h-1zm4 0h1v3h-1zM91 187h3v1h-3zm0 4h3v1h-3zm-1-3h1v3h-1zm4 0h1v3h-1zM91 188h3v1h-3zm0 4h3v1h-3zm-1-3h1v3h-1zm4 0h1v3h-1zM91 189h3v1h-3zm0 4h3v1h-3zm-1-3h1v3h-1zm4 0h1v3h-1zM91 190h3v1h-3zm0 4h3v1h-3zm-1-3h1v3h-1zm4 0h1v3h-1zM92 190h3v1h-3zm0 4h3v1h-3zm-1-3h1v3h-1zm4 0h1v3h-1zM92 191h3v1h-3zm0 4h3v1h-3zm-1-3h1v3h-1zm4 0h1v3h-1zM92 189h3v1h-3zm0 4h3v1h-3zm-1-3h1v3h-1zm4 0h1v3h-1zM93 189h3v1h-3zm0 4h3v1h-3zm-1-3h1v3h-1zm4 0h1v3h-1zM93 188h3v1h-3zm0 4h3v1h-3zm-1-3h1v3h-1zm4 0h1v3h-1zM93 187h3v1h-3zm0 4h3v1h-3zm-1-3h1v3h-1zm4 0h1v3h-1zM93 186h3v1h-3zm0 4h3v1h-3zm-1-3h1v3h-1zm4 0h1v3h-1zM93 185h3v1h-3zm0 4h3v1h-3zm-1-3h1v3h-1zm4 0h1v3h-1zM93 184h3v1h-3zm0 4h3v1h-3zm-1-3h1v3h-1zm4 0h1v3h-1zM94 183h3v1h-3zm0 4h3v1h-3zm-1-3h1v3h-1zm4 0h1v3h-1zM94 182h3v1h-3zm0 4h3v1h-3zm-1-3h1v3h-1zm4 0h1v3h-1zM94 180h3v1h-3zm0 4h3v1h-3zm-1-3h1v3h-1zm4 0h1v3h-1zM94 179h3v1h-3zm0 4h3v1h-3zm-1-3h1v3h-1zm4 0h1v3h-1zM95 178h3v1h-3zm0 4h3v1h-3zm-1-3h1v3h-1zm4 0h1v3h-1zM95 176h3v1h-3zm0 4h3v1h-3zm-1-3h1v3h-1zm4 0h1v3h-1zM95 174h3v1h-3zm0 4h3v1h-3zm-1-3h1v3h-1zm4 0h1v3h-1zM96 173h3v1h-3zm0 4h3v1h-3zm-1-3h1v3h-1zm4 0h1v3h-1zM96 171h3v1h-3zm0 4h3v1h-3zm-1-3h1v3h-1zm4 0h1v3h-1zM97 168h3v1h-3zm0 4h3v1h-3zm-1-3h1v3h-1zm4 0h1v3h-1zM98 166h3v1h-3zm0 4h3v1h-3zm-1-3h1v3h-1zm4 0h1v3h-1zM99 163h3v1h-3zm0 4h3v1h-3zm-1-3h1v3h-1zm4 0h1v3h-1zM100 160h3v1h-3zm0 4h3v1h-3zm-1-3h1v3h-1zm4 0h1v3h-1zM101 157h3v1h-3zm0 4h3v1h-3zm-1-3h1v3h-1zm4 0h1v3h-1zM102 155h3v1h-3zm0 4h3v1h-3zm-1-3h1v3h-1zm4 0h1v3h-1zM104 150h3v1h-3zm0 4h3v1h-3zm-1-3h1v3h-1zm4 0h1v3h-1zM106 147h3v1h-3zm0 4h3v1h-3zm-1-3h1v3h-1zm4 0h1v3h-1zM108 144h3v1h-3zm0 4h3v1h-3zm-1-3h1v3h-1zm4 0h1v3h-1zM111 140h3v1h-3zm0 4h3v1h-3zm-1-3h1v3h-1zm4 0h1v3h-1zM114 137h3v1h-3zm0 4h3v1h-3zm-1-3h1v3h-1zm4 0h1v3h-1zM116 135h3v1h-3zm0 4h3v1h-3zm-1-3h1v3h-1zm4 0h1v3h-1zM121 133h3v1h-3zm0 4h3v1h-3zm-1-3h1v3h-1zm4 0h1v3h-1zM125 133h3v1h-3zm0 4h3v1h-3zm-1-3h1v3h-1zm4 0h1v3h-1zM129 133h3v1h-3zm0 4h3v1h-3zm-1-3h1v3h-1zm4 0h1v3h-1zM134 136h3v1h-3zm0 4h3v1h-3zm-1-3h1v3h-1zm4 0h1v3h-1zM138 140h3v1h-3zm0 4h3v1h-3zm-1-3h1v3h-1zm4 0h1v3h-1zM141 144h3v1h-3zm0 4h3v1h-3zm-1-3h1v3h-1zm4 0h1v3h-1zM144 148h3v1h-3zm0 4h3v1h-3zm-1-3h1v3h-1zm4 0h1v3h-1zM146 153h3v1h-3zm0 4h3v1h-3zm-1-3h1v3h-1zm4 0h1v3h-1zM148 157h3v1h-3zm0 4h3v1h-3zm-1-3h1v3h-1zm4 0h1v3h-1zM150 161h3v1h-3zm0 4h3v1h-3zm-1-3h1v3h-1zm4 0h1v3h-1zM151 164h3v1h-3zm0 4h3v1h-3zm-1-3h1v3h-1zm4 0h1v3h-1zM152 167h3v1h-3zm0 4h3v1h-3zm-1-3h1v3h-1zm4 0h1v3h-1zM152 169h3v1h-3zm0 4h3v1h-3zm-1-3h1v3h-1zm4 0h1v3h-1zM153 173h3v1h-3zm0 4h3v1h-3zm-1-3h1v3h-1zm4 0h1v3h-1z"/>
</svg>
<rect class="b" x="57.5" y="132.5" width="101.0" height="63.0"/>
<text class="l" x="221.28" y="170.70" text-anchor="middle">planet1.r</text>
<rect class="b" x="171.5" y="132.5" width="101.0" height="63.0"/>
<svg x="285.5" y="132.5" width="101.0" height="63.0" viewBox="285.5 132.5 101.0 63.0">
<path class="p" d="M335 133h3v1h-3zm0 4h3v1h-3zm-1-3h1v3h-1zm4 0h1v3h-1zM334 133h3v1h-3zm0 4h3v1h-3zm-1-3h1v3h-1zm4 0h1v3h-1zM331 134h3v1h-3zm0 4h3v1h-3zm-1-3h1v3h-1zm4 0h1v3h-1zM327 137h3v1h-3zm0 4h3v1h-3zm-1-3h1v3h-1zm4 0h1v3h-1zM325 141h3v1h-3zm0 4h3v1h-3zm-1-3h1v3h-1zm4 0h1v3h-1zM322 145h3v1h-3zm0 4h3v1h-3zm-1-3h1v3h-1zm4 0h1v3h-1zM319 150h3v1h-3zm0 4h3v1h-3zm-1-3h1v3h-1zm4 0h1v3h-1zM317 154h3v1h-3zm0 4h3v1h-3zm-1-3h1v3h-1zm4 0h1v3h-1zM314 158h3v1h-3zm0 4h3v1h-3zm-1-3h1v3h-1zm4 0h1v3h-1zM312 162h3v1h-3zm0 4h3v1h-3zm-1-3h1v3h-1zm4 0h1v3h-1zM309 165h3v1h-3zm0 4h3v1h-3zm-1-3h1v3h-1zm4 0h1v3h-1zM307 168h3v1h-3zm0 4h3v1h-3zm-1-3h1v3h-1zm4 0h1v3h-1zM305 171h3v1h-3zm0 4h3v1h-3zm-1-3h1v3h-1zm4 0h1v3h-1zM303 173h3v1h-3zm0 4h3v1h-3zm-1-3h1v3h-1zm4 0h1v3h-1zM300 176h3v1h-3zm0 4h3v1h-3zm-1-3h1v3h-1zm4 0h1v3h-1zM298 178h3v1h-3zm0 4h3v1h-3zm-1-3h1v3h-1zm4 0h1v3h-1zM296 179h3v1h-3zm0 4h3v1h-3zm-1-3h1v3h-1zm4 0h1v3h-1zM294 181h3v1h-3zm0 4h3v1h-3zm-1-3h1v3h-1zm4 0h1v3h-1zM292 182h3v1h-3zm0 4h3v1h-3zm-1-3h1v3h-1zm4 0h1v3h-1zM291 184h3v1h-3zm0 4h3v1h-3zm-1-3h1v3h-1zm4 0h1v3h-1zM290 185h3v1h-3zm0 4h3v1h-3zm-1-3h1v3h-1zm4 0h1v3h-1zM288 186h3v1h-3zm0 4h3v1h-3zm-1-3h1v3h-1zm4 0h1v3h-1zM288 187h3v1h-3zm0 4h3v1h-3zm-1-3h1v3h-1zm4 0h1v3h-1zM288 188h3v1h-3zm0 4h3v1h-3zm-1-3h1v3h-1zm4 0h1v3h-1zM289 189h3v1h-3zm0 4h3v1h-3zm-1-3h1v3h-1zm4 0h1v3h-1zM290 189h3v1h-3zm0 4h3v1h-3zm-1-3h1v3h-1zm4 0h1v3h-1zM292 189h3v1h-3zm0 4h3v1h-3zm-1-3h1v3h-1zm4 0h1v3h-1zM295 190h3v1h-3zm0 4h3v1h-3zm-1-3h1v3h-1zm4 0h1v3h-1zM298 190h3v1h-3zm0 4h3v1h-3zm-1-3h1v3h-1zm4 0h1v3h-1zM302 190h3v1h-3zm0 4h3v1h-3zm-1-3h1v3h-1zm4 0h1v3h-1zM307 191h3v1h-3zm0 4h3v1h-3zm-1-3h1v3h-1zm4 0h1v3h-1zM312 191h3v1h-3zm0 4h3v1h-3zm-1-3h1v3h-1zm4 0h1v3h-1zM319 191h3v1h-3zm0 4h3v1h-3zm-1-3h1v3h-1zm4 0h1v3h-1zM326 191h3v1h-3zm0 4h3v1h-3zm-1-3h1v3h-1zm4 0h1v3h-1zM333 191h3v1h-3zm0 4h3v1h-3zm-1-3h1v3h-1zm4 0h1v3h-1zM341 191h3v1h-3zm0 4h3v1h-3zm-1-3h1v3h-1zm4 0h1v3h-1zM348 191h3v1h-3zm0 4h3v1h-3zm-1-3h1v3h-1zm4 0h1v3h-1zM355 191h3v1h-3zm0 4h3v1h-3zm-1-3h1v3h-1zm4 0h1v3h-1zM361 191h3v1h-3zm0 4h3v1h-3zm-1-3h1v3h-1zm4 0h1v3h-1zM366 190h3v1h-3zm0 4h3v1h-3zm-1-3h1v3h-1zm4 0h1v3h-1zM370 190h3v1h-3zm0 4h3v1h-3zm-1-3h1v3h-1zm4 0h1v3h-1zM373 190h3v1h-3zm0 4h3v1h-3zm-1-3h1v3h-1zm4 0h1v3h-1zM375 190h3v1h-3zm0 4h3v1h-3zm-1-3h1v3h-1zm4 0h1v3h-1zM377 189h3v1h-3zm0 4h3v1h-3zm-1-3h1v3h-1zm4 0h1v3h-1zM378 189h3v1h-3zm0 4h3v1h-3zm-1-3h1v3h-1zm4 0h1v3h-1zM379 189h3v1h-3zm0 4h3v1h-3zm-1-3h1v3h-1zm4 0h1v3h-1zM380 189h3v1h-3zm0 4h3v1h-3zm-1-3h1v3h-1zm4 0h1v3h-1zM381 188h3v1h-3zm0 4h3v1h-3zm-1-3h1v3h-1zm4 0h1v3h-1zM381 187h3v1h-3zm0 4h3v1h-3zm-1-3h1v3h-1zm4 0h1v3h-1zM381 186h3v1h-3zm0 4h3v1h-3zm-1-3h1v3h-1zm4 0h1v3h-1zM380 185h3v1h-3zm0 4h3v1h-3zm-1-3h1v3h-1zm4 0h1v3h-1zM379 185h3v1h-3zm0 4h3v1h-3zm-1-3h1v3h-1zm4 0h1v3h-1zM378 184h3v1h-3zm0 4h3v1h-3zm-1-3h1v3h-1zm4 0h1v3h-1zM377 183h3v1h-3zm0 4h3v1h-3zm-1-3h1v3h-1zm4 0h1v3h-1zM376 182h3v1h-3zm0 4h3v1h-3zm-1-3h1v3h-1zm4 0h1v3h-1zM374 180h3v1h-3zm0 4h3v1h-3zm-1-3h1v3h-1zm4 0h1v3h-1zM372 179h3v1h-3zm0 4h3v1h-3zm-1-3h1v3h-1zm4 0h1v3h-1zM371 178h3v1h-3zm0 4h3v1h-3zm-1-3h1v3h-1zm4 0h1v3h-1zM369 176h3v1h-3zm0 4h3v1h-3zm-1-3h1v3h-1zm4 0h1v3h-1zM367 174h3v1h-3zm0 4h3v1h-3zm-1-3h1v3h-1zm4 0h1v3h-1zM366 173h3v1h-3zm0 4h3v1h-3zm-1-3h1v3h-1zm4 0h1v3h-1zM364 171h3v1h-3zm0 4h3v1h-3zm-1-3h1v3h-1zm4 0h1v3h-1zM362 168h3v1h-3zm0 4h3v1h-3zm-1-3h1v3h-1zm4 0h1v3h-1zM360 166h3v1h-3zm0 4h3v1h-3zm-1-3h1v3h-1zm4 0h1v3h-1zM358 163h3v1h-3zm0 4h3v1h-3zm-1-3h1v3h-1zm4 0h1v3h-1zM356 160h3v1h-3zm0 4h3v1h-3zm-1-3h1v3h-1zm4 0h1v3h-1zM354 157h3v1h-3zm0 4h3v1h-3zm-1-3h1v3h-1zm4 0h1v3h-1zM353 155h3v1h-3zm0 4h3v1h-3zm-1-3h1v3h-1zm4 0h1v3h-1zM350 150h3v1h-3zm0 4h3v1h-3zm-1-3h1v3h-1zm4 0h1v3h-1zM348 147h3v1h-3zm0 4h3v1h-3zm-1-3h1v3h-1zm4 0h1v3h-1zM346 144h3v1h-3zm0 4h3v1h-3zm-1-3h1v3h-1zm4 0h1v3h-1zM344 140h3v1h-3zm0 4h3v1h-3zm-1-3h1v3h-1zm4 0h1v3h-1zM342 137h3v1h-3zm0 4h3v1h-3zm-1-3h1v3h-1zm4 0h1v3h-1zM340 135h3v1h-3zm0 4h3v1h-3zm-1-3h1v3h-1zm4 0h1v3h-1zM337 133h3v1h-3zm0 4h3v1h-3zm-1-3h1v3h-1zm4 0h1v3h-1zM332 133h3v1h-3zm0 4h3v1h-3zm-1-3h1v3h-1zm4 0h1v3h-1zM329 136h3v1h-3zm0 4h3v1h-3zm-1-3h1v3h-1zm4 0h1v3h-1zM326 140h3v1h-3zm0 4h3v1h-3zm-1-3h1v3h-1zm4 0h1v3h-1zM323 144h3v1h-3zm0 4h3v1h-3zm-1-3h1v3h-1zm4 0h1v3h-1zM320 148h3v1h-3zm0 4h3v1h-3zm-1-3h1v3h-1zm4 0h1v3h-1zM318 153h3v1h-3zm0 4h3v1h-3zm-1-3h1v3h-1zm4 0h1v3h-1zM315 157h3v1h-3zm0 4h3v1h-3zm-1-3h1v3h-1zm4 0h1v3h-1zM312 161h3v1h-3zm0 4h3v1h-3zm-1-3h1v3h-1zm4 0h1v3h-1zM310 164h3v1h-3zm0 4h3v1h-3zm-1-3h1v3h-1zm4 0h1v3h-1zM308 167h3v1h-3zm0 4h3v1h-3zm-1-3h1v3h-1zm4 0h1v3h-1zM306 169h3v1h-3zm0 4h3v1h-3zm-1-3h1v3h-1zm4 0h1v3h-1z"/>
</svg>
<rect class="b" x="285.5" y="132.5" width="101.0" height="63.0"/>
<svg x="399.5" y="132.5" width="101.0" height="63.0" viewBox="399.5 132.5 101.0 63.0">
<path class="p" d="M449 133h3v1h-3zm0 4h3v1h-3zm-1-3h1v3h-1zm4 0h1v3h-1zM451 133h3v1h-3zm0 4h3v1h-3zm-1-3h1v3h-1zm4 0h1v3h-1zM463 134h3v1h-3zm0 4h3v1h-3zm-1-3h1v3h-1zm4 0h1v3h-1zM474 137h3v1h-3zm0 4h3v1h-3zm-1-3h1v3h-1zm4 0h1v3h-1zM482 141h3v1h-3zm0 4h3v1h-3zm-1-3h1v3h-1zm4 0h1v3h-1zM487 145h3v1h-3zm0 4h3v1h-3zm-1-3h1v3h-1zm4 0h1v3h-1zM491 150h3v1h-3zm0 4h3v1h-3zm-1-3h1v3h-1zm4 0h1v3h-1zM494 154h3v1h-3zm0 4h3v1h-3zm-1-3h1v3h-1zm4 0h1v3h-1zM495 158h3v1h-3zm0 4h3v1h-3zm-1-3h1v3h-1zm4 0h1v3h-1zM496 162h3v1h-3zm0 4h3v1h-3zm-1-3h1v3h-1zm4 0h1v3h-1zM495 165h3v1h-3zm0 4h3v1h-3zm-1-3h1v3h-1zm4 0h1v3h-1zM494 168h3v1h-3zm0 4h3v1h-3zm-1-3h1v3h-1zm4 0h1v3h-1zM493 171h3v1h-3zm0 4h3v1h-3zm-1-3h1v3h-1zm4 0h1v3h-1zM492 173h3v1h-3zm0 4h3v1h-3zm-1-3h1v3h-1zm4 0h1v3h-1zM490 176h3v1h-3zm0 4h3v1h-3zm-1-3h1v3h-1zm4 0h1v3h-1zM488 178h3v1h-3zm0 4h3v1h-3zm-1-3h1v3h-1zm4 0h1v3h-1zM486 179h3v1h-3zm0 4h3v1h-3zm-1-3h1v3h-1zm4 0h1v3h-1zM484 181h3v1h-3zm0 4h3v1h-3zm-1-3h1v3h-1zm4 0h1v3h-1zM482 182h3v1h-3zm0 4h3v1h-3zm-1-3h1v3h-1zm4 0h1v3h-1zM480 184h3v1h-3zm0 4h3v1h-3zm-1-3h1v3h-1zm4 0h1v3h-1zM478 185h3v1h-3zm0 4h3v1h-3zm-1-3h1v3h-1zm4 0h1v3h-1zM475 186h3v1h-3zm0 4h3v1h-3zm-1-3h1v3h-1zm4 0h1v3h-1zM473 187h3v1h-3zm0 4h3v1h-3zm-1-3h1v3h-1zm4 0h1v3h-1zM471 187h3v1h-3zm0 4h3v1h-3zm-1-3h1v3h-1zm4 0h1v3h-1zM469 188h3v1h-3zm0 4h3v1h-3zm-1-3h1v3h-1zm4 0h1v3h-1zM467 189h3v1h-3zm0 4h3v1h-3zm-1-3h1v3h-1zm4 0h1v3h-1zM466 189h3v1h-3zm0 4h3v1h-3zm-1-3h1v3h-1zm4 0h1v3h-1zM464 189h3v1h-3zm0 4h3v1h-3zm-1-3h1v3h-1zm4 0h1v3h-1zM462 190h3v1h-3zm0 4h3v1h-3zm-1-3h1v3h-1zm4 0h1v3h-1zM460 190h3v1h-3zm0 4h3v1h-3zm-1-3h1v3h-1zm4 0h1v3h-1zM458 190h3v1h-3zm0 4h3v1h-3zm-1-3h1v3h-1zm4 0h1v3h-1zM456 191h3v1h-3zm0 4h3v1h-3zm-1-3h1v3h-1zm4 0h1v3h-1zM455 191h3v1h-3zm0 4h3v1h-3zm-1-3h1v3h-1zm4 0h1v3h-1zM453 191h3v1h-3zm0 4h3v1h-3zm-1-3h1v3h-1zm4 0h1v3h-1zM451 191h3v1h-3zm0 4h3v1h-3zm-1-3h1v3h-1zm4 0h1v3h-1zM449 191h3v1h-3zm0 4h3v1h-3zm-1-3h1v3h-1zm4 0h1v3h-1zM447 191h3v1h-3zm0 4h3v1h-3zm-1-3h1v3h-1zm4 0h1v3h-1zM445 191h3v1h-3zm0 4h3v1h-3zm-1-3h1v3h-1zm4 0h1v3h-1zM443 191h3v1h-3zm0 4h3v1h-3zm-1-3h1v3h-1zm4 0h1v3h-1zM441 191h3v1h-3zm0 4h3v1h-3zm-1-3h1v3h-1zm4 0h1v3h-1zM439 190h3v1h-3zm0 4h3v1h-3zm-1-3h1v3h-1zm4 0h1v3h-1zM438 190h3v1h-3zm0 4h3v1h-3zm-1-3h1v3h-1zm4 0h1v3h-1zM436 190h3v1h-3zm0 4h3v1h-3zm-1-3h1v3h-1zm4 0h1v3h-1zM435 190h3v1h-3zm0 4h3v1h-3zm-1-3h1v3h-1zm4 0h1v3h-1zM434 189h3v1h-3zm0 4h3v1h-3zm-1-3h1v3h-1zm4 0h1v3h-1zM433 189h3v1h-3zm0 4h3v1h-3zm-1-3h1v3h-1zm4 0h1v3h-1zM432 189h3v1h-3zm0 4h3v1h-3zm-1-3h1v3h-1zm4 0h1v3h-1zM431 189h3v1h-3zm0 4h3v1h-3zm-1-3h1v3h-1zm4 0h1v3h-1zM430 189h3v1h-3zm0 4h3v1h-3zm-1-3h1v3h-1zm4 0h1v3h-1zM429 188h3v1h-3zm0 4h3v1h-3zm-1-3h1v3h-1zm4 0h1v3h-1zM428 188h3v1h-3zm0 4h3v1h-3zm-1-3h1v3h-1zm4 0h1v3h-1zM427 188h3v1h-3zm0 4h3v1h-3zm-1-3h1v3h-1zm4 0h1v3h-1zM425 187h3v1h-3zm0 4h3v1h-3zm-1-3h1v3h-1zm4 0h1v3h-1zM424 187h3v1h-3zm0 4h3v1h-3zm-1-3h1v3h-1zm4 0h1v3h-1zM422 186h3v1h-3zm0 4h3v1h-3zm-1-3h1v3h-1zm4 0h1v3h-1zM421 185h3v1h-3zm0 4h3v1h-3zm-1-3h1v3h-1zm4 0h1v3h-1zM419 185h3v1h-3zm0 4h3v1h-3zm-1-3h1v3h-1zm4 0h1v3h-1zM418 184h3v1h-3zm0 4h3v1h-3zm-1-3h1v3h-1zm4 0h1v3h-1zM416 183h3v1h-3zm0 4h3v1h-3zm-1-3h1v3h-1zm4 0h1v3h-1zM414 182h3v1h-3zm0 4h3v1h-3zm-1-3h1v3h-1zm4 0h1v3h-1zM412 180h3v1h-3zm0 4h3v1h-3zm-1-3h1v3h-1zm4 0h1v3h-1zM411 179h3v1h-3zm0 4h3v1h-3zm-1-3h1v3h-1zm4 0h1v3h-1zM409 178h3v1h-3zm0 4h3v1h-3zm-1-3h1v3h-1zm4 0h1v3h-1zM408 176h3v1h-3zm0 4h3v1h-3zm-1-3h1v3h-1zm4 0h1v3h-1zM406 174h3v1h-3zm0 4h3v1h-3zm-1-3h1v3h-1zm4 0h1v3h-1zM405 173h3v1h-3zm0 4h3v1h-3zm-1-3h1v3h-1zm4 0h1v3h-1zM404 171h3v1h-3zm0 4h3v1h-3zm-1-3h1v3h-1zm4 0h1v3h-1zM403 168h3v1h-3zm0 4h3v1h-3zm-1-3h1v3h-1zm4 0h1v3h-1zM402 166h3v1h-3zm0 4h3v1h-3zm-1-3h1v3h-1zm4 0h1v3h-1zM402 163h3v1h-3zm0 4h3v1h-3zm-1-3h1v3h-1zm4 0h1v3h-1zM402 160h3v1h-3zm0 4h3v1h-3zm-1-3h1v3h-1zm4 0h1v3h-1zM402 157h3v1h-3zm0 4h3v1h-3zm-1-3h1v3h-1zm4 0h1v3h-1zM403 155h3v1h-3zm0 4h3v1h-3zm-1-3h1v3h-1zm4 0h1v3h-1zM405 150h3v1h-3zm0 4h3v1h-3zm-1-3h1v3h-1zm4 0h1v3h-1zM408 147h3v1h-3zm0 4h3v1h-3zm-1-3h1v3h-1zm4 0h1v3h-1zM411 144h3v1h-3zm0 4h3v1h-3zm-1-3h1v3h-1zm4 0h1v3h-1zM417 140h3v1h-3zm0 4h3v1h-3zm-1-3h1v3h-1zm4 0h1v3h-1zM423 137h3v1h-3zm0 4h3v1h-3zm-1-3h1v3h-1zm4 0h1v3h-1zM430 135h3v1h-3zm0 4h3v1h-3zm-1-3h1v3h-1zm4 0h1v3h-1zM441 133h3v1h-3zm0 4h3v1h-3zm-1-3h1v3h-1zm4 0h1v3h-1zM450 133h3v1h-3zm0 4h3v1h-3zm-1-3h1v3h-1zm4 0h1v3h-1zM460 133h3v1h-3zm0 4h3v1h-3zm-1-3h1v3h-1zm4 0h1v3h-1zM470 136h3v1h-3zm0 4h3v1h-3zm-1-3h1v3h-1zm4 0h1v3h-1zM479 140h3v1h-3zm0 4h3v1h-3zm-1-3h1v3h-1zm4 0h1v3h-1zM486 144h3v1h-3zm0 4h3v1h-3zm-1-3h1v3h-1zm4 0h1v3h-1zM490 148h3v1h-3zm0 4h3v1h-3zm-1-3h1v3h-1zm4 0h1v3h-1zM493 153h3v1h-3zm0 4h3v1h-3zm-1-3h1v3h-1zm4 0h1v3h-1zM495 157h3v1h-3zm0 4h3v1h-3zm-1-3h1v3h-1zm4 0h1v3h-1zM496 161h3v1h-3zm0 4h3v1h-3zm-1-3h1v3h-1zm4 0h1v3h-1zM495 164h3v1h-3zm0 4h3v1h-3zm-1-3h1v3h-1zm4 0h1v3h-1zM495 167h3v1h-3zm0 4h3v1h-3zm-1-3h1v3h-1zm4 0h1v3h-1zM494 169h3v1h-3zm0 4h3v1h-3zm-1-3h1v3h-1zm4 0h1v3h-1z"/>
</svg>
<rect class="b" x="399.5" y="132.5" width="101.0" height="63.0"/>
<svg x="513.5" y="132.5" width="101.0" height="63.0" viewBox="513.5 132.5 101.0 63.0">
<path class="p" d="M610 133h3v1h-3zm0 4h3v1h-3zm-1-3h1v3h-1zm4 0h1v3h-1zM610 134h3v1h-3zm0 4h3v1h-3zm-1-3h1v3h-1zm4 0h1v3h-1zM609 137h3v1h-3zm0 4h3v1h-3zm-1-3h1v3h-1zm4 0h1v3h-1zM609 141h3v1h-3zm0 4h3v1h-3zm-1-3h1v3h-1zm4 0h1v3h-1zM608 145h3v1h-3zm0 4h3v1h-3zm-1-3h1v3h-1zm4 0h1v3h-1zM607 150h3v1h-3zm0 4h3v1h-3zm-1-3h1v3h-1zm4 0h1v3h-1zM606 154h3v1h-3zm0 4h3v1h-3zm-1-3h1v3h-1zm4 0h1v3h-1zM605 158h3v1h-3zm0 4h3v1h-3zm-1-3h1v3h-1zm4 0h1v3h-1zM604 162h3v1h-3zm0 4h3v1h-3zm-1-3h1v3h-1zm4 0h1v3h-1zM602 165h3v1h-3zm0 4h3v1h-3zm-1-3h1v3h-1zm4 0h1v3h-1zM601 168h3v1h-3zm0 4h3v1h-3zm-1-3h1v3h-1zm4 0h1v3h-1zM599 171h3v1h-3zm0 4h3v1h-3zm-1-3h1v3h-1zm4 0h1v3h-1zM597 173h3v1h-3zm0 4h3v1h-3zm-1-3h1v3h-1zm4 0h1v3h-1zM595 176h3v1h-3zm0 4h3v1h-3zm-1-3h1v3h-1zm4 0h1v3h-1zM592 178h3v1h-3zm0 4h3v1h-3zm-1-3h1v3h-1zm4 0h1v3h-1zM590 179h3v1h-3zm0 4h3v1h-3zm-1-3h1v3h-1zm4 0h1v3h-1zM587 181h3v1h-3zm0 4h3v1h-3zm-1-3h1v3h-1zm4 0h1v3h-1zM584 182h3v1h-3zm0 4h3v1h-3zm-1-3h1v3h-1zm4 0h1v3h-1zM580 184h3v1h-3zm0 4h3v1h-3zm-1-3h1v3h-1zm4 0h1v3h-1zM576 185h3v1h-3zm0 4h3v1h-3zm-1-3h1v3h-1zm4 0h1v3h-1zM571 186h3v1h-3zm0 4h3v1h-3zm-1-3h1v3h-1zm4 0h1v3h-1zM567 187h3v1h-3zm0 4h3v1h-3zm-1-3h1v3h-1zm4 0h1v3h-1zM562 187h3v1h-3zm0 4h3v1h-3zm-1-3h1v3h-1zm4 0h1v3h-1zM558 188h3v1h-3zm0 4h3v1h-3zm-1-3h1v3h-1zm4 0h1v3h-1zM553 189h3v1h-3zm0 4h3v1h-3zm-1-3h1v3h-1zm4 0h1v3h-1zM548 189h3v1h-3zm0 4h3v1h-3zm-1-3h1v3h-1zm4 0h1v3h-1zM543 189h3v1h-3zm0 4h3v1h-3zm-1-3h1v3h-1zm4 0h1v3h-1zM538 190h3v1h-3zm0 4h3v1h-3zm-1-3h1v3h-1zm4 0h1v3h-1zM534 190h3v1h-3zm0 4h3v1h-3zm-1-3h1v3h-1zm4 0h1v3h-1zM529 190h3v1h-3zm0 4h3v1h-3zm-1-3h1v3h-1zm4 0h1v3h-1zM525 191h3v1h-3zm0 4h3v1h-3zm-1-3h1v3h-1zm4 0h1v3h-1zM522 191h3v1h-3zm0 4h3v1h-3zm-1-3h1v3h-1zm4 0h1v3h-1zM518 191h3v1h-3zm0 4h3v1h-3zm-1-3h1v3h-1zm4 0h1v3h-1zM517 191h3v1h-3zm0 4h3v1h-3zm-1-3h1v3h-1zm4 0h1v3h-1zM516 191h3v1h-3zm0 4h3v1h-3zm-1-3h1v3h-1zm4 0h1v3h-1zM520 191h3v1h-3zm0 4h3v1h-3zm-1-3h1v3h-1zm4 0h1v3h-1zM524 191h3v1h-3zm0 4h3v1h-3zm-1-3h1v3h-1zm4 0h1v3h-1zM528 190h3v1h-3zm0 4h3v1h-3zm-1-3h1v3h-1zm4 0h1v3h-1zM532 190h3v1h-3zm0 4h3v1h-3zm-1-3h1v3h-1zm4 0h1v3h-1zM536 190h3v1h-3zm0 4h3v1h-3zm-1-3h1v3h-1zm4 0h1v3h-1zM539 190h3v1h-3zm0 4h3v1h-3zm-1-3h1v3h-1zm4 0h1v3h-1zM542 189h3v1h-3zm0 4h3v1h-3zm-1-3h1v3h-1zm4 0h1v3h-1zM545 189h3v1h-3zm0 4h3v1h-3zm-1-3h1v3h-1zm4 0h1v3h-1zM550 189h3v1h-3zm0 4h3v1h-3zm-1-3h1v3h-1zm4 0h1v3h-1zM555 188h3v1h-3zm0 4h3v1h-3zm-1-3h1v3h-1zm4 0h1v3h-1zM561 188h3v1h-3zm0 4h3v1h-3zm-1-3h1v3h-1zm4 0h1v3h-1zM564 187h3v1h-3zm0 4h3v1h-3zm-1-3h1v3h-1zm4 0h1v3h-1zM574 185h3v1h-3zm0 4h3v1h-3zm-1-3h1v3h-1zm4 0h1v3h-1zM577 185h3v1h-3zm0 4h3v1h-3zm-1-3h1v3h-1zm4 0h1v3h-1zM579 184h3v1h-3zm0 4h3v1h-3zm-1-3h1v3h-1zm4 0h1v3h-1zM582 183h3v1h-3zm0 4h3v1h-3zm-1-3h1v3h-1zm4 0h1v3h-1zM585 182h3v1h-3zm0 4h3v1h-3zm-1-3h1v3h-1zm4 0h1v3h-1zM588 180h3v1h-3zm0 4h3v1h-3zm-1-3h1v3h-1zm4 0h1v3h-1zM593 178h3v1h-3zm0 4h3v1h-3zm-1-3h1v3h-1zm4 0h1v3h-1zM594 176h3v1h-3zm0 4h3v1h-3zm-1-3h1v3h-1zm4 0h1v3h-1zM596 174h3v1h-3zm0 4h3v1h-3zm-1-3h1v3h-1zm4 0h1v3h-1zM598 173h3v1h-3zm0 4h3v1h-3zm-1-3h1v3h-1zm4 0h1v3h-1zM602 166h3v1h-3zm0 4h3v1h-3zm-1-3h1v3h-1zm4 0h1v3h-1zM603 163h3v1h-3zm0 4h3v1h-3zm-1-3h1v3h-1zm4 0h1v3h-1zM604 160h3v1h-3zm0 4h3v1h-3zm-1-3h1v3h-1zm4 0h1v3h-1zM605 157h3v1h-3zm0 4h3v1h-3zm-1-3h1v3h-1zm4 0h1v3h-1zM606 155h3v1h-3zm0 4h3v1h-3zm-1-3h1v3h-1zm4 0h1v3h-1zM608 147h3v1h-3zm0 4h3v1h-3zm-1-3h1v3h-1zm4 0h1v3h-1zM608 144h3v1h-3zm0 4h3v1h-3zm-1-3h1v3h-1zm4 0h1v3h-1zM609 140h3v1h-3zm0 4h3v1h-3zm-1-3h1v3h-1zm4 0h1v3h-1zM609 135h3v1h-3zm0 4h3v1h-3zm-1-3h1v3h-1zm4 0h1v3h-1zM609 136h3v1h-3zm0 4h3v1h-3zm-1-3h1v3h-1zm4 0h1v3h-1zM607 148h3v1h-3zm0 4h3v1h-3zm-1-3h1v3h-1zm4 0h1v3h-1zM607 153h3v1h-3zm0 4h3v1h-3zm-1-3h1v3h-1zm4 0h1v3h-1zM604 161h3v1h-3zm0 4h3v1h-3zm-1-3h1v3h-1zm4 0h1v3h-1zM603 164h3v1h-3zm0 4h3v1h-3zm-1-3h1v3h-1zm4 0h1v3h-1zM602 167h3v1h-3zm0 4h3v1h-3zm-1-3h1v3h-1zm4 0h1v3h-1zM600 169h3v1h-3zm0 4h3v1h-3zm-1-3h1v3h-1zm4 0h1v3h-1z"/>
</svg>
<rect class="b" x="513.5" y="132.5" width="101.0" height="63.0"/>
<svg x="57.5" y="208.5" width="101.0" height="63.0" viewBox="57.5 208.5 101.0 63.0">
<path class="p" d="M59 237h3v1h-3zm0 4h3v1h-3zm-1-3h1v3h-1zm4 0h1v3h-1zM60 238h3v1h-3zm0 4h3v1h-3zm-1-3h1v3h-1zm4 0h1v3h-1zM65 240h3v1h-3zm0 4h3v1h-3zm-1-3h1v3h-1zm4 0h1v3h-1zM70 242h3v1h-3zm0 4h3v1h-3zm-1-3h1v3h-1zm4 0h1v3h-1zM74 244h3v1h-3zm0 4h3v1h-3zm-1-3h1v3h-1zm4 0h1v3h-1zM77 245h3v1h-3zm0 4h3v1h-3zm-1-3h1v3h-1zm4 0h1v3h-1zM79 247h3v1h-3zm0 4h3v1h-3zm-1-3h1v3h-1zm4 0h1v3h-1zM82 249h3v1h-3zm0 4h3v1h-3zm-1-3h1v3h-1zm4 0h1v3h-1zM83 250h3v1h-3zm0 4h3v1h-3zm-1-3h1v3h-1zm4 0h1v3h-1zM85 252h3v1h-3zm0 4h3v1h-3zm-1-3h1v3h-1zm4 0h1v3h-1zM86 253h3v1h-3zm0 4h3v1h-3zm-1-3h1v3h-1zm4 0h1v3h-1zM87 255h3v1h-3zm0 4h3v1h-3zm-1-3h1v3h-1zm4 0h1v3h-1zM87 256h3v1h-3zm0 4h3v1h-3zm-1-3h1v3h-1zm4 0h1v3h-1zM88 257h3v1h-3zm0 4h3v1h-3zm-1-3h1v3h-1zm4 0h1v3h-1zM89 259h3v1h-3zm0 4h3v1h-3zm-1-3h1v3h-1zm4 0h1v3h-1zM89 260h3v1h-3zm0 4h3v1h-3zm-1-3h1v3h-1zm4 0h1v3h-1zM90 261h3v1h-3zm0 4h3v1h-3zm-1-3h1v3h-1zm4 0h1v3h-1zM90 263h3v1h-3zm0 4h3v1h-3zm-1-3h1v3h-1zm4 0h1v3h-1zM90 264h3v1h-3zm0 4h3v1h-3zm-1-3h1v3h-1zm4 0h1v3h-1zM90 265h3v1h-3zm0 4h3v1h-3zm-1-3h1v3h-1zm4 0h1v3h-1zM91 265h3v1h-3zm0 4h3v1h-3zm-1-3h1v3h-1zm4 0h1v3h-1zM91 266h3v1h-3zm0 4h3v1h-3zm-1-3h1v3h-1zm4 0h1v3h-1zM91 267h3v1h-3zm0 4h3v1h-3zm-1-3h1v3h-1zm4 0h1v3h-1zM91 264h3v1h-3zm0 4h3v1h-3zm-1-3h1v3h-1zm4 0h1v3h-1zM91 262h3v1h-3zm0 4h3v1h-3zm-1-3h1v3h-1zm4 0h1v3h-1zM92 260h3v1h-3zm0 4h3v1h-3zm-1-3h1v3h-1zm4 0h1v3h-1zM92 258h3v1h-3zm0 4h3v1h-3zm-1-3h1v3h-1zm4 0h1v3h-1zM92 255h3v1h-3zm0 4h3v1h-3zm-1-3h1v3h-1zm4 0h1v3h-1zM92 252h3v1h-3zm0 4h3v1h-3zm-1-3h1v3h-1zm4 0h1v3h-1zM92 247h3v1h-3zm0 4h3v1h-3zm-1-3h1v3h-1zm4 0h1v3h-1zM92 243h3v1h-3zm0 4h3v1h-3zm-1-3h1v3h-1zm4 0h1v3h-1zM92 238h3v1h-3zm0 4h3v1h-3zm-1-3h1v3h-1zm4 0h1v3h-1zM92 234h3v1h-3zm0 4h3v1h-3zm-1-3h1v3h-1zm4 0h1v3h-1zM92 229h3v1h-3zm0 4h3v1h-3zm-1-3h1v3h-1zm4 0h1v3h-1zM92 225h3v1h-3zm0 4h3v1h-3zm-1-3h1v3h-1zm4 0h1v3h-1zM92 221h3v1h-3zm0 4h3v1h-3zm-1-3h1v3h-1zm4 0h1v3h-1zM92 218h3v1h-3zm0 4h3v1h-3zm-1-3h1v3h-1zm4 0h1v3h-1zM92 216h3v1h-3zm0 4h3v1h-3zm-1-3h1v3h-1zm4 0h1v3h-1zM92 214h3v1h-3zm0 4h3v1h-3zm-1-3h1v3h-1zm4 0h1v3h-1zM92 212h3v1h-3zm0 4h3v1h-3zm-1-3h1v3h-1zm4 0h1v3h-1zM92 211h3v1h-3zm0 4h3v1h-3zm-1-3h1v3h-1zm4 0h1v3h-1zM92 210h3v1h-3zm0 4h3v1h-3zm-1-3h1v3h-1zm4 0h1v3h-1zM92 209h3v1h-3zm0 4h3v1h-3zm-1-3h1v3h-1zm4 0h1v3h-1zM93 209h3v1h-3zm0 4h3v1h-3zm-1-3h1v3h-1zm4 0h1v3h-1zM93 208h3v1h-3zm0 4h3v1h-3zm-1-3h1v3h-1zm4 0h1v3h-1zM93 210h3v1h-3zm0 4h3v1h-3zm-1-3h1v3h-1zm4 0h1v3h-1zM94 211h3v1h-3zm0 4h3v1h-3zm-1-3h1v3h-1zm4 0h1v3h-1zM94 212h3v1h-3zm0 4h3v1h-3zm-1-3h1v3h-1zm4 0h1v3h-1zM94 213h3v1h-3zm0 4h3v1h-3zm-1-3h1v3h-1zm4 0h1v3h-1zM94 214h3v1h-3zm0 4h3v1h-3zm-1-3h1v3h-1zm4 0h1v3h-1zM95 215h3v1h-3zm0 4h3v1h-3zm-1-3h1v3h-1zm4 0h1v3h-1zM95 216h3v1h-3zm0 4h3v1h-3zm-1-3h1v3h-1zm4 0h1v3h-1zM95 217h3v1h-3zm0 4h3v1h-3zm-1-3h1v3h-1zm4 0h1v3h-1zM96 218h3v1h-3zm0 4h3v1h-3zm-1-3h1v3h-1zm4 0h1v3h-1zM96 219h3v1h-3zm0 4h3v1h-3zm-1-3h1v3h-1zm4 0h1v3h-1zM97 220h3v1h-3zm0 4h3v1h-3zm-1-3h1v3h-1zm4 0h1v3h-1zM98 222h3v1h-3zm0 4h3v1h-3zm-1-3h1v3h-1zm4 0h1v3h-1zM99 223h3v1h-3zm0 4h3v1h-3zm-1-3h1v3h-1zm4 0h1v3h-1zM100 224h3v1h-3zm0 4h3v1h-3zm-1-3h1v3h-1zm4 0h1v3h-1zM101 225h3v1h-3zm0 4h3v1h-3zm-1-3h1v3h-1zm4 0h1v3h-1zM102 226h3v1h-3zm0 4h3v1h-3zm-1-3h1v3h-1zm4 0h1v3h-1zM104 228h3v1h-3zm0 4h3v1h-3zm-1-3h1v3h-1zm4 0h1v3h-1zM106 229h3v1h-3zm0 4h3v1h-3zm-1-3h1v3h-1zm4 0h1v3h-1zM108 230h3v1h-3zm0 4h3v1h-3zm-1-3h1v3h-1zm4 0h1v3h-1zM111 232h3v1h-3zm0 4h3v1h-3zm-1-3h1v3h-1zm4 0h1v3h-1zM114 233h3v1h-3zm0 4h3v1h-3zm-1-3h1v3h-1zm4 0h1v3h-1zM116 234h3v1h-3zm0 4h3v1h-3zm-1-3h1v3h-1zm4 0h1v3h-1zM121 236h3v1h-3zm0 4h3v1h-3zm-1-3h1v3h-1zm4 0h1v3h-1zM125 238h3v1h-3zm0 4h3v1h-3zm-1-3h1v3h-1zm4 0h1v3h-1zM129 239h3v1h-3zm0 4h3v1h-3zm-1-3h1v3h-1zm4 0h1v3h-1zM134 241h3v1h-3zm0 4h3v1h-3zm-1-3h1v3h-1zm4 0h1v3h-1zM138 243h3v1h-3zm0 4h3v1h-3zm-1-3h1v3h-1zm4 0h1v3h-1zM141 245h3v1h-3zm0 4h3v1h-3zm-1-3h1v3h-1zm4 0h1v3h-1zM144 246h3v1h-3zm0 4h3v1h-3zm-1-3h1v3h-1zm4 0h1v3h-1zM146 248h3v1h-3zm0 4h3v1h-3zm-1-3h1v3h-1zm4 0h1v3h-1zM148 250h3v1h-3zm0 4h3v1h-3zm-1-3h1v3h-1zm4 0h1v3h-1zM150 251h3v1h-3zm0 4h3v1h-3zm-1-3h1v3h-1zm4 0h1v3h-1zM151 253h3v1h-3zm0 4h3v1h-3zm-1-3h1v3h-1zm4 0h1v3h-1zM152 254h3v1h-3zm0 4h3v1h-3zm-1-3h1v3h-1zm4 0h1v3h-1zM152 255h3v1h-3zm0 4h3v1h-3zm-1-3h1v3h-1zm4 0h1v3h-1zM153 257h3v1h-3zm0 4h3v1h-3zm-1-3h1v3h-1zm4 0h1v3h-1z"/>
</svg>
<rect class="b" x="57.5" y="208.5" width="101.0" height="63.0"/>
<svg x="171.5" y="208.5" width="101.0" height="63.0" viewBox="171.5 208.5 101.0 63.0">
<path class="p" d="M267 237h3v1h-3zm0 4h3v1h-3zm-1-3h1v3h-1zm4 0h1v3h-1zM267 238h3v1h-3zm0 4h3v1h-3zm-1-3h1v3h-1zm4 0h1v3h-1zM265 240h3v1h-3zm0 4h3v1h-3zm-1-3h1v3h-1zm4 0h1v3h-1zM260 242h3v1h-3zm0 4h3v1h-3zm-1-3h1v3h-1zm4 0h1v3h-1zM254 244h3v1h-3zm0 4h3v1h-3zm-1-3h1v3h-1zm4 0h1v3h-1zM247 245h3v1h-3zm0 4h3v1h-3zm-1-3h1v3h-1zm4 0h1v3h-1zM240 247h3v1h-3zm0 4h3v1h-3zm-1-3h1v3h-1zm4 0h1v3h-1zM233 249h3v1h-3zm0 4h3v1h-3zm-1-3h1v3h-1zm4 0h1v3h-1zM226 250h3v1h-3zm0 4h3v1h-3zm-1-3h1v3h-1zm4 0h1v3h-1zM221 252h3v1h-3zm0 4h3v1h-3zm-1-3h1v3h-1zm4 0h1v3h-1zM215 253h3v1h-3zm0 4h3v1h-3zm-1-3h1v3h-1zm4 0h1v3h-1zM210 255h3v1h-3zm0 4h3v1h-3zm-1-3h1v3h-1zm4 0h1v3h-1zM206 256h3v1h-3zm0 4h3v1h-3zm-1-3h1v3h-1zm4 0h1v3h-1zM202 257h3v1h-3zm0 4h3v1h-3zm-1-3h1v3h-1zm4 0h1v3h-1zM198 259h3v1h-3zm0 4h3v1h-3zm-1-3h1v3h-1zm4 0h1v3h-1zM195 260h3v1h-3zm0 4h3v1h-3zm-1-3h1v3h-1zm4 0h1v3h-1zM192 261h3v1h-3zm0 4h3v1h-3zm-1-3h1v3h-1zm4 0h1v3h-1zM190 263h3v1h-3zm0 4h3v1h-3zm-1-3h1v3h-1zm4 0h1v3h-1zM187 264h3v1h-3zm0 4h3v1h-3zm-1-3h1v3h-1zm4 0h1v3h-1zM185 265h3v1h-3zm0 4h3v1h-3zm-1-3h1v3h-1zm4 0h1v3h-1zM184 265h3v1h-3zm0 4h3v1h-3zm-1-3h1v3h-1zm4 0h1v3h-1zM182 266h3v1h-3zm0 4h3v1h-3zm-1-3h1v3h-1zm4 0h1v3h-1zM180 267h3v1h-3zm0 4h3v1h-3zm-1-3h1v3h-1zm4 0h1v3h-1zM179 267h3v1h-3zm0 4h3v1h-3zm-1-3h1v3h-1zm4 0h1v3h-1zM178 267h3v1h-3zm0 4h3v1h-3zm-1-3h1v3h-1zm4 0h1v3h-1zM177 266h3v1h-3zm0 4h3v1h-3zm-1-3h1v3h-1zm4 0h1v3h-1zM177 265h3v1h-3zm0 4h3v1h-3zm-1-3h1v3h-1zm4 0h1v3h-1zM176 264h3v1h-3zm0 4h3v1h-3zm-1-3h1v3h-1zm4 0h1v3h-1zM175 262h3v1h-3zm0 4h3v1h-3zm-1-3h1v3h-1zm4 0h1v3h-1zM175 260h3v1h-3zm0 4h3v1h-3zm-1-3h1v3h-1zm4 0h1v3h-1zM174 258h3v1h-3zm0 4h3v1h-3zm-1-3h1v3h-1zm4 0h1v3h-1zM174 255h3v1h-3zm0 4h3v1h-3zm-1-3h1v3h-1zm4 0h1v3h-1zM174 252h3v1h-3zm0 4h3v1h-3zm-1-3h1v3h-1zm4 0h1v3h-1zM174 247h3v1h-3zm0 4h3v1h-3zm-1-3h1v3h-1zm4 0h1v3h-1zM173 243h3v1h-3zm0 4h3v1h-3zm-1-3h1v3h-1zm4 0h1v3h-1zM173 238h3v1h-3zm0 4h3v1h-3zm-1-3h1v3h-1zm4 0h1v3h-1zM173 234h3v1h-3zm0 4h3v1h-3zm-1-3h1v3h-1zm4 0h1v3h-1zM174 229h3v1h-3zm0 4h3v1h-3zm-1-3h1v3h-1zm4 0h1v3h-1zM174 225h3v1h-3zm0 4h3v1h-3zm-1-3h1v3h-1zm4 0h1v3h-1zM174 221h3v1h-3zm0 4h3v1h-3zm-1-3h1v3h-1zm4 0h1v3h-1zM174 218h3v1h-3zm0 4h3v1h-3zm-1-3h1v3h-1zm4 0h1v3h-1zM175 216h3v1h-3zm0 4h3v1h-3zm-1-3h1v3h-1zm4 0h1v3h-1zM175 214h3v1h-3zm0 4h3v1h-3zm-1-3h1v3h-1zm4 0h1v3h-1zM175 212h3v1h-3zm0 4h3v1h-3zm-1-3h1v3h-1zm4 0h1v3h-1zM176 211h3v1h-3zm0 4h3v1h-3zm-1-3h1v3h-1zm4 0h1v3h-1zM176 210h3v1h-3zm0 4h3v1h-3zm-1-3h1v3h-1zm4 0h1v3h-1zM177 210h3v1h-3zm0 4h3v1h-3zm-1-3h1v3h-1zm4 0h1v3h-1zM177 209h3v1h-3zm0 4h3v1h-3zm-1-3h1v3h-1zm4 0h1v3h-1zM178 209h3v1h-3zm0 4h3v1h-3zm-1-3h1v3h-1zm4 0h1v3h-1zM178 208h3v1h-3zm0 4h3v1h-3zm-1-3h1v3h-1zm4 0h1v3h-1zM179 208h3v1h-3zm0 4h3v1h-3zm-1-3h1v3h-1zm4 0h1v3h-1zM180 208h3v1h-3zm0 4h3v1h-3zm-1-3h1v3h-1zm4 0h1v3h-1zM181 209h3v1h-3zm0 4h3v1h-3zm-1-3h1v3h-1zm4 0h1v3h-1zM182 209h3v1h-3zm0 4h3v1h-3zm-1-3h1v3h-1zm4 0h1v3h-1zM184 210h3v1h-3zm0 4h3v1h-3zm-1-3h1v3h-1zm4 0h1v3h-1zM185 210h3v1h-3zm0 4h3v1h-3zm-1-3h1v3h-1zm4 0h1v3h-1zM187 211h3v1h-3zm0 4h3v1h-3zm-1-3h1v3h-1zm4 0h1v3h-1zM188 212h3v1h-3zm0 4h3v1h-3zm-1-3h1v3h-1zm4 0h1v3h-1zM190 213h3v1h-3zm0 4h3v1h-3zm-1-3h1v3h-1zm4 0h1v3h-1zM193 214h3v1h-3zm0 4h3v1h-3zm-1-3h1v3h-1zm4 0h1v3h-1zM195 215h3v1h-3zm0 4h3v1h-3zm-1-3h1v3h-1zm4 0h1v3h-1zM197 216h3v1h-3zm0 4h3v1h-3zm-1-3h1v3h-1zm4 0h1v3h-1zM200 217h3v1h-3zm0 4h3v1h-3zm-1-3h1v3h-1zm4 0h1v3h-1zM203 218h3v1h-3zm0 4h3v1h-3zm-1-3h1v3h-1zm4 0h1v3h-1zM206 219h3v1h-3zm0 4h3v1h-3zm-1-3h1v3h-1zm4 0h1v3h-1zM210 220h3v1h-3zm0 4h3v1h-3zm-1-3h1v3h-1zm4 0h1v3h-1zM214 222h3v1h-3zm0 4h3v1h-3zm-1-3h1v3h-1zm4 0h1v3h-1zM218 223h3v1h-3zm0 4h3v1h-3zm-1-3h1v3h-1zm4 0h1v3h-1zM223 224h3v1h-3zm0 4h3v1h-3zm-1-3h1v3h-1zm4 0h1v3h-1zM228 225h3v1h-3zm0 4h3v1h-3zm-1-3h1v3h-1zm4 0h1v3h-1zM232 226h3v1h-3zm0 4h3v1h-3zm-1-3h1v3h-1zm4 0h1v3h-1zM239 228h3v1h-3zm0 4h3v1h-3zm-1-3h1v3h-1zm4 0h1v3h-1zM244 229h3v1h-3zm0 4h3v1h-3zm-1-3h1v3h-1zm4 0h1v3h-1zM249 230h3v1h-3zm0 4h3v1h-3zm-1-3h1v3h-1zm4 0h1v3h-1zM255 232h3v1h-3zm0 4h3v1h-3zm-1-3h1v3h-1zm4 0h1v3h-1zM260 233h3v1h-3zm0 4h3v1h-3zm-1-3h1v3h-1zm4 0h1v3h-1zM263 234h3v1h-3zm0 4h3v1h-3zm-1-3h1v3h-1zm4 0h1v3h-1zM267 236h3v1h-3zm0 4h3v1h-3zm-1-3h1v3h-1zm4 0h1v3h-1zM266 239h3v1h-3zm0 4h3v1h-3zm-1-3h1v3h-1zm4 0h1v3h-1zM262 241h3v1h-3zm0 4h3v1h-3zm-1-3h1v3h-1zm4 0h1v3h-1zM256 243h3v1h-3zm0 4h3v1h-3zm-1-3h1v3h-1zm4 0h1v3h-1zM249 245h3v1h-3zm0 4h3v1h-3zm-1-3h1v3h-1zm4 0h1v3h-1zM242 246h3v1h-3zm0 4h3v1h-3zm-1-3h1v3h-1zm4 0h1v3h-1zM235 248h3v1h-3zm0 4h3v1h-3zm-1-3h1v3h-1zm4 0h1v3h-1zM228 250h3v1h-3zm0 4h3v1h-3zm-1-3h1v3h-1zm4 0h1v3h-1zM222 251h3v1h-3zm0 4h3v1h-3zm-1-3h1v3h-1zm4 0h1v3h-1zM216 253h3v1h-3zm0 4h3v1h-3zm-1-3h1v3h-1zm4 0h1v3h-1zM212 254h3v1h-3zm0 4h3v1h-3zm-1-3h1v3h-1zm4 0h1v3h-1zM208 255h3v1h-3zm0 4h3v1h-3zm-1-3h1v3h-1zm4 0h1v3h-1zM203 257h3v1h-3zm0 4h3v1h-3zm-1-3h1v3h-1zm4 0h1v3h-1z"/>
</svg>
<rect class="b" x="171.5" y="208.5" width="101.0" height="63.0"/>
<text class="l" x="335.40" y="245.70" text-anchor="middle">p1anet1.v</text>
<rect class="b" x="285.5" y="208.5" width="101.0" height="63.0"/>
<svg x="399.5" y="208.5" width="101.0" height="63.0" viewBox="399.5 208.5 101.0 63.0">
<path class="p" d="M449 237h3v1h-3zm0 4h3v1h-3zm-1-3h1v3h-1zm4 0h1v3h-1zM451 238h3v1h-3zm0 4h3v1h-3zm-1-3h1v3h-1zm4 0h1v3h-1zM463 240h3v1h-3zm0 4h3v1h-3zm-1-3h1v3h-1zm4 0h1v3h-1zM474 242h3v1h-3zm0 4h3v1h-3zm-1-3h1v3h-1zm4 0h1v3h-1zM482 244h3v1h-3zm0 4h3v1h-3zm-1-3h1v3h-1zm4 0h1v3h-1zM487 245h3v1h-3zm0 4h3v1h-3zm-1-3h1v3h-1zm4 0h1v3h-1zM491 247h3v1h-3zm0 4h3v1h-3zm-1-3h1v3h-1zm4 0h1v3h-1zM494 249h3v1h-3zm0 4h3v1h-3zm-1-3h1v3h-1zm4 0h1v3h-1zM495 250h3v1h-3zm0 4h3v1h-3zm-1-3h1v3h-1zm4 0h1v3h-1zM496 252h3v1h-3zm0 4h3v1h-3zm-1-3h1v3h-1zm4 0h1v3h-1zM495 253h3v1h-3zm0 4h3v1h-3zm-1-3h1v3h-1zm4 0h1v3h-1zM494 255h3v1h-3zm0 4h3v1h-3zm-1-3h1v3h-1zm4 0h1v3h-1zM493 256h3v1h-3zm0 4h3v1h-3zm-1-3h1v3h-1zm4 0h1v3h-1zM492 257h3v1h-3zm0 4h3v1h-3zm-1-3h1v3h-1zm4 0h1v3h-1zM490 259h3v1h-3zm0 4h3v1h-3zm-1-3h1v3h-1zm4 0h1v3h-1zM488 260h3v1h-3zm0 4h3v1h-3zm-1-3h1v3h-1zm4 0h1v3h-1zM486 261h3v1h-3zm0 4h3v1h-3zm-1-3h1v3h-1zm4 0h1v3h-1zM484 263h3v1h-3zm0 4h3v1h-3zm-1-3h1v3h-1zm4 0h1v3h-1zM482 264h3v1h-3zm0 4h3v1h-3zm-1-3h1v3h-1zm4 0h1v3h-1zM480 265h3v1h-3zm0 4h3v1h-3zm-1-3h1v3h-1zm4 0h1v3h-1zM478 265h3v1h-3zm0 4h3v1h-3zm-1-3h1v3h-1zm4 0h1v3h-1zM475 266h3v1h-3zm0 4h3v1h-3zm-1-3h1v3h-1zm4 0h1v3h-1zM473 267h3v1h-3zm0 4h3v1h-3zm-1-3h1v3h-1zm4 0h1v3h-1zM471 267h3v1h-3zm0 4h3v1h-3zm-1-3h1v3h-1zm4 0h1v3h-1zM469 267h3v1h-3zm0 4h3v1h-3zm-1-3h1v3h-1zm4 0h1v3h-1zM467 266h3v1h-3zm0 4h3v1h-3zm-1-3h1v3h-1zm4 0h1v3h-1zM466 265h3v1h-3zm0 4h3v1h-3zm-1-3h1v3h-1zm4 0h1v3h-1zM464 264h3v1h-3zm0 4h3v1h-3zm-1-3h1v3h-1zm4 0h1v3h-1zM462 262h3v1h-3zm0 4h3v1h-3zm-1-3h1v3h-1zm4 0h1v3h-1zM460 260h3v1h-3zm0 4h3v1h-3zm-1-3h1v3h-1zm4 0h1v3h-1zM458 258h3v1h-3zm0 4h3v1h-3zm-1-3h1v3h-1zm4 0h1v3h-1zM456 255h3v1h-3zm0 4h3v1h-3zm-1-3h1v3h-1zm4 0h1v3h-1zM455 252h3v1h-3zm0 4h3v1h-3zm-1-3h1v3h-1zm4 0h1v3h-1zM453 247h3v1h-3zm0 4h3v1h-3zm-1-3h1v3h-1zm4 0h1v3h-1zM451 243h3v1h-3zm0 4h3v1h-3zm-1-3h1v3h-1zm4 0h1v3h-1zM449 238h3v1h-3zm0 4h3v1h-3zm-1-3h1v3h-1zm4 0h1v3h-1zM447 234h3v1h-3zm0 4h3v1h-3zm-1-3h1v3h-1zm4 0h1v3h-1zM445 229h3v1h-3zm0 4h3v1h-3zm-1-3h1v3h-1zm4 0h1v3h-1zM443 225h3v1h-3zm0 4h3v1h-3zm-1-3h1v3h-1zm4 0h1v3h-1zM441 221h3v1h-3zm0 4h3v1h-3zm-1-3h1v3h-1zm4 0h1v3h-1zM439 218h3v1h-3zm0 4h3v1h-3zm-1-3h1v3h-1zm4 0h1v3h-1zM438 216h3v1h-3zm0 4h3v1h-3zm-1-3h1v3h-1zm4 0h1v3h-1zM436 214h3v1h-3zm0 4h3v1h-3zm-1-3h1v3h-1zm4 0h1v3h-1zM435 212h3v1h-3zm0 4h3v1h-3zm-1-3h1v3h-1zm4 0h1v3h-1zM434 211h3v1h-3zm0 4h3v1h-3zm-1-3h1v3h-1zm4 0h1v3h-1zM433 210h3v1h-3zm0 4h3v1h-3zm-1-3h1v3h-1zm4 0h1v3h-1zM432 210h3v1h-3zm0 4h3v1h-3zm-1-3h1v3h-1zm4 0h1v3h-1zM431 209h3v1h-3zm0 4h3v1h-3zm-1-3h1v3h-1zm4 0h1v3h-1zM430 209h3v1h-3zm0 4h3v1h-3zm-1-3h1v3h-1zm4 0h1v3h-1zM429 209h3v1h-3zm0 4h3v1h-3zm-1-3h1v3h-1zm4 0h1v3h-1zM428 208h3v1h-3zm0 4h3v1h-3zm-1-3h1v3h-1zm4 0h1v3h-1zM427 208h3v1h-3zm0 4h3v1h-3zm-1-3h1v3h-1zm4 0h1v3h-1zM425 208h3v1h-3zm0 4h3v1h-3zm-1-3h1v3h-1zm4 0h1v3h-1zM424 208h3v1h-3zm0 4h3v1h-3zm-1-3h1v3h-1zm4 0h1v3h-1zM422 209h3v1h-3zm0 4h3v1h-3zm-1-3h1v3h-1zm4 0h1v3h-1zM421 209h3v1h-3zm0 4h3v1h-3zm-1-3h1v3h-1zm4 0h1v3h-1zM419 210h3v1h-3zm0 4h3v1h-3zm-1-3h1v3h-1zm4 0h1v3h-1zM418 210h3v1h-3zm0 4h3v1h-3zm-1-3h1v3h-1zm4 0h1v3h-1zM416 211h3v1h-3zm0 4h3v1h-3zm-1-3h1v3h-1zm4 0h1v3h-1zM414 212h3v1h-3zm0 4h3v1h-3zm-1-3h1v3h-1zm4 0h1v3h-1zM412 213h3v1h-3zm0 4h3v1h-3zm-1-3h1v3h-1zm4 0h1v3h-1zM411 214h3v1h-3zm0 4h3v1h-3zm-1-3h1v3h-1zm4 0h1v3h-1zM409 215h3v1h-3zm0 4h3v1h-3zm-1-3h1v3h-1zm4 0h1v3h-1zM408 216h3v1h-3zm0 4h3v1h-3zm-1-3h1v3h-1zm4 0h1v3h-1zM406 217h3v1h-3zm0 4h3v1h-3zm-1-3h1v3h-1zm4 0h1v3h-1zM405 218h3v1h-3zm0 4h3v1h-3zm-1-3h1v3h-1zm4 0h1v3h-1zM404 219h3v1h-3zm0 4h3v1h-3zm-1-3h1v3h-1zm4 0h1v3h-1zM403 220h3v1h-3zm0 4h3v1h-3zm-1-3h1v3h-1zm4 0h1v3h-1zM402 222h3v1h-3zm0 4h3v1h-3zm-1-3h1v3h-1zm4 0h1v3h-1zM402 223h3v1h-3zm0 4h3v1h-3zm-1-3h1v3h-1zm4 0h1v3h-1zM402 224h3v1h-3zm0 4h3v1h-3zm-1-3h1v3h-1zm4 0h1v3h-1zM402 225h3v1h-3zm0 4h3v1h-3zm-1-3h1v3h-1zm4 0h1v3h-1zM403 226h3v1h-3zm0 4h3v1h-3zm-1-3h1v3h-1zm4 0h1v3h-1zM405 228h3v1h-3zm0 4h3v1h-3zm-1-3h1v3h-1zm4 0h1v3h-1zM408 229h3v1h-3zm0 4h3v1h-3zm-1-3h1v3h-1zm4 0h1v3h-1zM411 230h3v1h-3zm0 4h3v1h-3zm-1-3h1v3h-1zm4 0h1v3h-1zM417 232h3v1h-3zm0 4h3v1h-3zm-1-3h1v3h-1zm4 0h1v3h-1zM423 233h3v1h-3zm0 4h3v1h-3zm-1-3h1v3h-1zm4 0h1v3h-1zM430 234h3v1h-3zm0 4h3v1h-3zm-1-3h1v3h-1zm4 0h1v3h-1zM441 236h3v1h-3zm0 4h3v1h-3zm-1-3h1v3h-1zm4 0h1v3h-1zM450 238h3v1h-3zm0 4h3v1h-3zm-1-3h1v3h-1zm4 0h1v3h-1zM460 239h3v1h-3zm0 4h3v1h-3zm-1-3h1v3h-1zm4 0h1v3h-1zM470 241h3v1h-3zm0 4h3v1h-3zm-1-3h1v3h-1zm4 0h1v3h-1zM479 243h3v1h-3zm0 4h3v1h-3zm-1-3h1v3h-1zm4 0h1v3h-1zM486 245h3v1h-3zm0 4h3v1h-3zm-1-3h1v3h-1zm4 0h1v3h-1zM490 246h3v1h-3zm0 4h3v1h-3zm-1-3h1v3h-1zm4 0h1v3h-1zM493 248h3v1h-3zm0 4h3v1h-3zm-1-3h1v3h-1zm4 0h1v3h-1zM496 251h3v1h-3zm0 4h3v1h-3zm-1-3h1v3h-1zm4 0h1v3h-1zM495 254h3v1h-3zm0 4h3v1h-3zm-1-3h1v3h-1zm4 0h1v3h-1z"/>
</svg>
<rect class="b" x="399.5" y="208.5" width="101.0" height="63.0"/>
<svg x="513.5" y="208.5" width="101.0" height="63.0" viewBox="513.5 208.5 101.0 63.0">
<path class="p" d="M610 237h3v1h-3zm0 4h3v1h-3zm-1-3h1v3h-1zm4 0h1v3h-1zM610 238h3v1h-3zm0 4h3v1h-3zm-1-3h1v3h-1zm4 0h1v3h-1zM610 240h3v1h-3zm0 4h3v1h-3zm-1-3h1v3h-1zm4 0h1v3h-1zM609 242h3v1h-3zm0 4h3v1h-3zm-1-3h1v3h-1zm4 0h1v3h-1zM609 244h3v1h-3zm0 4h3v1h-3zm-1-3h1v3h-1zm4 0h1v3h-1zM608 245h3v1h-3zm0 4h3v1h-3zm-1-3h1v3h-1zm4 0h1v3h-1zM607 247h3v1h-3zm0 4h3v1h-3zm-1-3h1v3h-1zm4 0h1v3h-1zM606 249h3v1h-3zm0 4h3v1h-3zm-1-3h1v3h-1zm4 0h1v3h-1zM605 250h3v1h-3zm0 4h3v1h-3zm-1-3h1v3h-1zm4 0h1v3h-1zM604 252h3v1h-3zm0 4h3v1h-3zm-1-3h1v3h-1zm4 0h1v3h-1zM602 253h3v1h-3zm0 4h3v1h-3zm-1-3h1v3h-1zm4 0h1v3h-1zM601 255h3v1h-3zm0 4h3v1h-3zm-1-3h1v3h-1zm4 0h1v3h-1zM599 256h3v1h-3zm0 4h3v1h-3zm-1-3h1v3h-1zm4 0h1v3h-1zM597 257h3v1h-3zm0 4h3v1h-3zm-1-3h1v3h-1zm4 0h1v3h-1zM595 259h3v1h-3zm0 4h3v1h-3zm-1-3h1v3h-1zm4 0h1v3h-1zM592 260h3v1h-3zm0 4h3v1h-3zm-1-3h1v3h-1zm4 0h1v3h-1zM590 261h3v1h-3zm0 4h3v1h-3zm-1-3h1v3h-1zm4 0h1v3h-1zM587 263h3v1h-3zm0 4h3v1h-3zm-1-3h1v3h-1zm4 0h1v3h-1zM584 264h3v1h-3zm0 4h3v1h-3zm-1-3h1v3h-1zm4 0h1v3h-1zM580 265h3v1h-3zm0 4h3v1h-3zm-1-3h1v3h-1zm4 0h1v3h-1zM576 265h3v1h-3zm0 4h3v1h-3zm-1-3h1v3h-1zm4 0h1v3h-1zM571 266h3v1h-3zm0 4h3v1h-3zm-1-3h1v3h-1zm4 0h1v3h-1zM567 267h3v1h-3zm0 4h3v1h-3zm-1-3h1v3h-1zm4 0h1v3h-1zM562 267h3v1h-3zm0 4h3v1h-3zm-1-3h1v3h-1zm4 0h1v3h-1zM558 267h3v1h-3zm0 4h3v1h-3zm-1-3h1v3h-1zm4 0h1v3h-1zM553 266h3v1h-3zm0 4h3v1h-3zm-1-3h1v3h-1zm4 0h1v3h-1zM548 265h3v1h-3zm0 4h3v1h-3zm-1-3h1v3h-1zm4 0h1v3h-1zM543 264h3v1h-3zm0 4h3v1h-3zm-1-3h1v3h-1zm4 0h1v3h-1zM538 262h3v1h-3zm0 4h3v1h-3zm-1-3h1v3h-1zm4 0h1v3h-1zM534 260h3v1h-3zm0 4h3v1h-3zm-1-3h1v3h-1zm4 0h1v3h-1zM529 258h3v1h-3zm0 4h3v1h-3zm-1-3h1v3h-1zm4 0h1v3h-1zM525 255h3v1h-3zm0 4h3v1h-3zm-1-3h1v3h-1zm4 0h1v3h-1zM522 252h3v1h-3zm0 4h3v1h-3zm-1-3h1v3h-1zm4 0h1v3h-1zM518 247h3v1h-3zm0 4h3v1h-3zm-1-3h1v3h-1zm4 0h1v3h-1zM517 243h3v1h-3zm0 4h3v1h-3zm-1-3h1v3h-1zm4 0h1v3h-1zM516 238h3v1h-3zm0 4h3v1h-3zm-1-3h1v3h-1zm4 0h1v3h-1zM516 234h3v1h-3zm0 4h3v1h-3zm-1-3h1v3h-1zm4 0h1v3h-1zM518 229h3v1h-3zm0 4h3v1h-3zm-1-3h1v3h-1zm4 0h1v3h-1zM520 225h3v1h-3zm0 4h3v1h-3zm-1-3h1v3h-1zm4 0h1v3h-1zM524 221h3v1h-3zm0 4h3v1h-3zm-1-3h1v3h-1zm4 0h1v3h-1zM528 218h3v1h-3zm0 4h3v1h-3zm-1-3h1v3h-1zm4 0h1v3h-1zM532 216h3v1h-3zm0 4h3v1h-3zm-1-3h1v3h-1zm4 0h1v3h-1zM536 214h3v1h-3zm0 4h3v1h-3zm-1-3h1v3h-1zm4 0h1v3h-1zM539 212h3v1h-3zm0 4h3v1h-3zm-1-3h1v3h-1zm4 0h1v3h-1zM542 211h3v1h-3zm0 4h3v1h-3zm-1-3h1v3h-1zm4 0h1v3h-1zM545 210h3v1h-3zm0 4h3v1h-3zm-1-3h1v3h-1zm4 0h1v3h-1zM548 210h3v1h-3zm0 4h3v1h-3zm-1-3h1v3h-1zm4 0h1v3h-1zM550 209h3v1h-3zm0 4h3v1h-3zm-1-3h1v3h-1zm4 0h1v3h-1zM553 209h3v1h-3zm0 4h3v1h-3zm-1-3h1v3h-1zm4 0h1v3h-1zM555 209h3v1h-3zm0 4h3v1h-3zm-1-3h1v3h-1zm4 0h1v3h-1zM558 208h3v1h-3zm0 4h3v1h-3zm-1-3h1v3h-1zm4 0h1v3h-1zM561 208h3v1h-3zm0 4h3v1h-3zm-1-3h1v3h-1zm4 0h1v3h-1zM564 208h3v1h-3zm0 4h3v1h-3zm-1-3h1v3h-1zm4 0h1v3h-1zM567 208h3v1h-3zm0 4h3v1h-3zm-1-3h1v3h-1zm4 0h1v3h-1zM571 209h3v1h-3zm0 4h3v1h-3zm-1-3h1v3h-1zm4 0h1v3h-1zM574 209h3v1h-3zm0 4h3v1h-3zm-1-3h1v3h-1zm4 0h1v3h-1zM577 210h3v1h-3zm0 4h3v1h-3zm-1-3h1v3h-1zm4 0h1v3h-1zM579 210h3v1h-3zm0 4h3v1h-3zm-1-3h1v3h-1zm4 0h1v3h-1zM582 211h3v1h-3zm0 4h3v1h-3zm-1-3h1v3h-1zm4 0h1v3h-1zM585 212h3v1h-3zm0 4h3v1h-3zm-1-3h1v3h-1zm4 0h1v3h-1zM588 213h3v1h-3zm0 4h3v1h-3zm-1-3h1v3h-1zm4 0h1v3h-1zM590 214h3v1h-3zm0 4h3v1h-3zm-1-3h1v3h-1zm4 0h1v3h-1zM593 215h3v1h-3zm0 4h3v1h-3zm-1-3h1v3h-1zm4 0h1v3h-1zM594 216h3v1h-3zm0 4h3v1h-3zm-1-3h1v3h-1zm4 0h1v3h-1zM596 217h3v1h-3zm0 4h3v1h-3zm-1-3h1v3h-1zm4 0h1v3h-1zM598 218h3v1h-3zm0 4h3v1h-3zm-1-3h1v3h-1zm4 0h1v3h-1zM599 219h3v1h-3zm0 4h3v1h-3zm-1-3h1v3h-1zm4 0h1v3h-1zM601 220h3v1h-3zm0 4h3v1h-3zm-1-3h1v3h-1zm4 0h1v3h-1zM602 222h3v1h-3zm0 4h3v1h-3zm-1-3h1v3h-1zm4 0h1v3h-1zM603 223h3v1h-3zm0 4h3v1h-3zm-1-3h1v3h-1zm4 0h1v3h-1zM604 224h3v1h-3zm0 4h3v1h-3zm-1-3h1v3h-1zm4 0h1v3h-1zM605 225h3v1h-3zm0 4h3v1h-3zm-1-3h1v3h-1zm4 0h1v3h-1zM606 226h3v1h-3zm0 4h3v1h-3zm-1-3h1v3h-1zm4 0h1v3h-1zM607 228h3v1h-3zm0 4h3v1h-3zm-1-3h1v3h-1zm4 0h1v3h-1zM608 229h3v1h-3zm0 4h3v1h-3zm-1-3h1v3h-1zm4 0h1v3h-1zM608 230h3v1h-3zm0 4h3v1h-3zm-1-3h1v3h-1zm4 0h1v3h-1zM609 232h3v1h-3zm0 4h3v1h-3zm-1-3h1v3h-1zm4 0h1v3h-1zM609 233h3v1h-3zm0 4h3v1h-3zm-1-3h1v3h-1zm4 0h1v3h-1zM609 234h3v1h-3zm0 4h3v1h-3zm-1-3h1v3h-1zm4 0h1v3h-1zM610 236h3v1h-3zm0 4h3v1h-3zm-1-3h1v3h-1zm4 0h1v3h-1zM610 239h3v1h-3zm0 4h3v1h-3zm-1-3h1v3h-1zm4 0h1v3h-1zM609 241h3v1h-3zm0 4h3v1h-3zm-1-3h1v3h-1zm4 0h1v3h-1zM609 243h3v1h-3zm0 4h3v1h-3zm-1-3h1v3h-1zm4 0h1v3h-1zM607 246h3v1h-3zm0 4h3v1h-3zm-1-3h1v3h-1zm4 0h1v3h-1zM607 248h3v1h-3zm0 4h3v1h-3zm-1-3h1v3h-1zm4 0h1v3h-1zM604 251h3v1h-3zm0 4h3v1h-3zm-1-3h1v3h-1zm4 0h1v3h-1zM603 253h3v1h-3zm0 4h3v1h-3zm-1-3h1v3h-1zm4 0h1v3h-1zM602 254h3v1h-3zm0 4h3v1h-3zm-1-3h1v3h-1zm4 0h1v3h-1zM600 255h3v1h-3zm0 4h3v1h-3zm-1-3h1v3h-1zm4 0h1v3h-1zM598 257h3v1h-3zm0 4h3v1h-3zm-1-3h1v3h-1zm4 0h1v3h-1z"/>
</svg>
<rect class="b" x="513.5" y="208.5" width="101.0" height="63.0"/>
<svg x="57.5" y="284.5" width="101.0" height="63.0" viewBox="57.5 284.5 101.0 63.0">
<path class="p" d="M59 313h3v1h-3zm0 4h3v1h-3zm-1-3h1v3h-1zm4 0h1v3h-1zM60 312h3v1h-3zm0 4h3v1h-3zm-1-3h1v3h-1zm4 0h1v3h-1zM65 304h3v1h-3zm0 4h3v1h-3zm-1-3h1v3h-1zm4 0h1v3h-1zM70 298h3v1h-3zm0 4h3v1h-3zm-1-3h1v3h-1zm4 0h1v3h-1zM74 293h3v1h-3zm0 4h3v1h-3zm-1-3h1v3h-1zm4 0h1v3h-1zM77 289h3v1h-3zm0 4h3v1h-3zm-1-3h1v3h-1zm4 0h1v3h-1zM79 287h3v1h-3zm0 4h3v1h-3zm-1-3h1v3h-1zm4 0h1v3h-1zM82 285h3v1h-3zm0 4h3v1h-3zm-1-3h1v3h-1zm4 0h1v3h-1zM83 284h3v1h-3zm0 4h3v1h-3zm-1-3h1v3h-1zm4 0h1v3h-1zM85 284h3v1h-3zm0 4h3v1h-3zm-1-3h1v3h-1zm4 0h1v3h-1zM86 284h3v1h-3zm0 4h3v1h-3zm-1-3h1v3h-1zm4 0h1v3h-1zM87 285h3v1h-3zm0 4h3v1h-3zm-1-3h1v3h-1zm4 0h1v3h-1zM88 286h3v1h-3zm0 4h3v1h-3zm-1-3h1v3h-1zm4 0h1v3h-1zM89 288h3v1h-3zm0 4h3v1h-3zm-1-3h1v3h-1zm4 0h1v3h-1zM89 289h3v1h-3zm0 4h3v1h-3zm-1-3h1v3h-1zm4 0h1v3h-1zM90 290h3v1h-3zm0 4h3v1h-3zm-1-3h1v3h-1zm4 0h1v3h-1zM90 291h3v1h-3zm0 4h3v1h-3zm-1-3h1v3h-1zm4 0h1v3h-1zM90 293h3v1h-3zm0 4h3v1h-3zm-1-3h1v3h-1zm4 0h1v3h-1zM90 294h3v1h-3zm0 4h3v1h-3zm-1-3h1v3h-1zm4 0h1v3h-1zM91 295h3v1h-3zm0 4h3v1h-3zm-1-3h1v3h-1zm4 0h1v3h-1zM91 297h3v1h-3zm0 4h3v1h-3zm-1-3h1v3h-1zm4 0h1v3h-1zM91 298h3v1h-3zm0 4h3v1h-3zm-1-3h1v3h-1zm4 0h1v3h-1zM91 299h3v1h-3zm0 4h3v1h-3zm-1-3h1v3h-1zm4 0h1v3h-1zM91 300h3v1h-3zm0 4h3v1h-3zm-1-3h1v3h-1zm4 0h1v3h-1zM91 302h3v1h-3zm0 4h3v1h-3zm-1-3h1v3h-1zm4 0h1v3h-1zM91 303h3v1h-3zm0 4h3v1h-3zm-1-3h1v3h-1zm4 0h1v3h-1zM91 304h3v1h-3zm0 4h3v1h-3zm-1-3h1v3h-1zm4 0h1v3h-1zM91 305h3v1h-3zm0 4h3v1h-3zm-1-3h1v3h-1zm4 0h1v3h-1zM92 306h3v1h-3zm0 4h3v1h-3zm-1-3h1v3h-1zm4 0h1v3h-1zM92 307h3v1h-3zm0 4h3v1h-3zm-1-3h1v3h-1zm4 0h1v3h-1zM92 308h3v1h-3zm0 4h3v1h-3zm-1-3h1v3h-1zm4 0h1v3h-1zM92 309h3v1h-3zm0 4h3v1h-3zm-1-3h1v3h-1zm4 0h1v3h-1zM92 311h3v1h-3zm0 4h3v1h-3zm-1-3h1v3h-1zm4 0h1v3h-1zM92 312h3v1h-3zm0 4h3v1h-3zm-1-3h1v3h-1zm4 0h1v3h-1zM92 313h3v1h-3zm0 4h3v1h-3zm-1-3h1v3h-1zm4 0h1v3h-1zM92 314h3v1h-3zm0 4h3v1h-3zm-1-3h1v3h-1zm4 0h1v3h-1zM92 315h3v1h-3zm0 4h3v1h-3zm-1-3h1v3h-1zm4 0h1v3h-1zM92 317h3v1h-3zm0 4h3v1h-3zm-1-3h1v3h-1zm4 0h1v3h-1zM92 318h3v1h-3zm0 4h3v1h-3zm-1-3h1v3h-1zm4 0h1v3h-1zM92 319h3v1h-3zm0 4h3v1h-3zm-1-3h1v3h-1zm4 0h1v3h-1zM92 320h3v1h-3zm0 4h3v1h-3zm-1-3h1v3h-1zm4 0h1v3h-1zM92 321h3v1h-3zm0 4h3v1h-3zm-1-3h1v3h-1zm4 0h1v3h-1zM92 322h3v1h-3zm0 4h3v1h-3zm-1-3h1v3h-1zm4 0h1v3h-1zM92 323h3v1h-3zm0 4h3v1h-3zm-1-3h1v3h-1zm4 0h1v3h-1zM92 324h3v1h-3zm0 4h3v1h-3zm-1-3h1v3h-1zm4 0h1v3h-1zM93 325h3v1h-3zm0 4h3v1h-3zm-1-3h1v3h-1zm4 0h1v3h-1zM93 326h3v1h-3zm0 4h3v1h-3zm-1-3h1v3h-1zm4 0h1v3h-1zM93 327h3v1h-3zm0 4h3v1h-3zm-1-3h1v3h-1zm4 0h1v3h-1zM93 328h3v1h-3zm0 4h3v1h-3zm-1-3h1v3h-1zm4 0h1v3h-1zM93 329h3v1h-3zm0 4h3v1h-3zm-1-3h1v3h-1zm4 0h1v3h-1zM93 330h3v1h-3zm0 4h3v1h-3zm-1-3h1v3h-1zm4 0h1v3h-1zM93 331h3v1h-3zm0 4h3v1h-3zm-1-3h1v3h-1zm4 0h1v3h-1zM93 332h3v1h-3zm0 4h3v1h-3zm-1-3h1v3h-1zm4 0h1v3h-1zM94 333h3v1h-3zm0 4h3v1h-3zm-1-3h1v3h-1zm4 0h1v3h-1zM94 335h3v1h-3zm0 4h3v1h-3zm-1-3h1v3h-1zm4 0h1v3h-1zM94 336h3v1h-3zm0 4h3v1h-3zm-1-3h1v3h-1zm4 0h1v3h-1zM94 337h3v1h-3zm0 4h3v1h-3zm-1-3h1v3h-1zm4 0h1v3h-1zM95 338h3v1h-3zm0 4h3v1h-3zm-1-3h1v3h-1zm4 0h1v3h-1zM95 339h3v1h-3zm0 4h3v1h-3zm-1-3h1v3h-1zm4 0h1v3h-1zM95 340h3v1h-3zm0 4h3v1h-3zm-1-3h1v3h-1zm4 0h1v3h-1zM96 340h3v1h-3zm0 4h3v1h-3zm-1-3h1v3h-1zm4 0h1v3h-1zM96 341h3v1h-3zm0 4h3v1h-3zm-1-3h1v3h-1zm4 0h1v3h-1zM97 342h3v1h-3zm0 4h3v1h-3zm-1-3h1v3h-1zm4 0h1v3h-1zM98 342h3v1h-3zm0 4h3v1h-3zm-1-3h1v3h-1zm4 0h1v3h-1zM99 342h3v1h-3zm0 4h3v1h-3zm-1-3h1v3h-1zm4 0h1v3h-1zM100 342h3v1h-3zm0 4h3v1h-3zm-1-3h1v3h-1zm4 0h1v3h-1zM101 342h3v1h-3zm0 4h3v1h-3zm-1-3h1v3h-1zm4 0h1v3h-1zM102 342h3v1h-3zm0 4h3v1h-3zm-1-3h1v3h-1zm4 0h1v3h-1zM104 340h3v1h-3zm0 4h3v1h-3zm-1-3h1v3h-1zm4 0h1v3h-1zM106 338h3v1h-3zm0 4h3v1h-3zm-1-3h1v3h-1zm4 0h1v3h-1zM108 336h3v1h-3zm0 4h3v1h-3zm-1-3h1v3h-1zm4 0h1v3h-1zM111 333h3v1h-3zm0 4h3v1h-3zm-1-3h1v3h-1zm4 0h1v3h-1zM114 329h3v1h-3zm0 4h3v1h-3zm-1-3h1v3h-1zm4 0h1v3h-1zM116 325h3v1h-3zm0 4h3v1h-3zm-1-3h1v3h-1zm4 0h1v3h-1zM121 318h3v1h-3zm0 4h3v1h-3zm-1-3h1v3h-1zm4 0h1v3h-1zM125 312h3v1h-3zm0 4h3v1h-3zm-1-3h1v3h-1zm4 0h1v3h-1zM129 306h3v1h-3zm0 4h3v1h-3zm-1-3h1v3h-1zm4 0h1v3h-1zM134 300h3v1h-3zm0 4h3v1h-3zm-1-3h1v3h-1zm4 0h1v3h-1zM138 294h3v1h-3zm0 4h3v1h-3zm-1-3h1v3h-1zm4 0h1v3h-1zM141 290h3v1h-3zm0 4h3v1h-3zm-1-3h1v3h-1zm4 0h1v3h-1zM144 287h3v1h-3zm0 4h3v1h-3zm-1-3h1v3h-1zm4 0h1v3h-1zM146 285h3v1h-3zm0 4h3v1h-3zm-1-3h1v3h-1zm4 0h1v3h-1zM148 284h3v1h-3zm0 4h3v1h-3zm-1-3h1v3h-1zm4 0h1v3h-1zM150 284h3v1h-3zm0 4h3v1h-3zm-1-3h1v3h-1zm4 0h1v3h-1zM151 284h3v1h-3zm0 4h3v1h-3zm-1-3h1v3h-1zm4 0h1v3h-1zM152 285h3v1h-3zm0 4h3v1h-3zm-1-3h1v3h-1zm4 0h1v3h-1zM153 286h3v1h-3zm0 4h3v1h-3zm-1-3h1v3h-1zm4 0h1v3h-1z"/>
</svg>
<rect class="b" x="57.5" y="284.5" width="101.0" height="63.0"/>
<svg x="171.5" y="284.5" width="101.0" height="63.0" viewBox="171.5 284.5 101.0 63.0">
<path class="p" d="M267 313h3v1h-3zm0 4h3v1h-3zm-1-3h1v3h-1zm4 0h1v3h-1zM267 312h3v1h-3zm0 4h3v1h-3zm-1-3h1v3h-1zm4 0h1v3h-1zM265 304h3v1h-3zm0 4h3v1h-3zm-1-3h1v3h-1zm4 0h1v3h-1zM260 298h3v1h-3zm0 4h3v1h-3zm-1-3h1v3h-1zm4 0h1v3h-1zM254 293h3v1h-3zm0 4h3v1h-3zm-1-3h1v3h-1zm4 0h1v3h-1zM247 289h3v1h-3zm0 4h3v1h-3zm-1-3h1v3h-1zm4 0h1v3h-1zM240 287h3v1h-3zm0 4h3v1h-3zm-1-3h1v3h-1zm4 0h1v3h-1zM233 285h3v1h-3zm0 4h3v1h-3zm-1-3h1v3h-1zm4 0h1v3h-1zM226 284h3v1h-3zm0 4h3v1h-3zm-1-3h1v3h-1zm4 0h1v3h-1zM221 284h3v1h-3zm0 4h3v1h-3zm-1-3h1v3h-1zm4 0h1v3h-1zM215 284h3v1h-3zm0 4h3v1h-3zm-1-3h1v3h-1zm4 0h1v3h-1zM210 285h3v1h-3zm0 4h3v1h-3zm-1-3h1v3h-1zm4 0h1v3h-1zM206 285h3v1h-3zm0 4h3v1h-3zm-1-3h1v3h-1zm4 0h1v3h-1zM202 286h3v1h-3zm0 4h3v1h-3zm-1-3h1v3h-1zm4 0h1v3h-1zM198 288h3v1h-3zm0 4h3v1h-3zm-1-3h1v3h-1zm4 0h1v3h-1zM195 289h3v1h-3zm0 4h3v1h-3zm-1-3h1v3h-1zm4 0h1v3h-1zM192 290h3v1h-3zm0 4h3v1h-3zm-1-3h1v3h-1zm4 0h1v3h-1zM190 291h3v1h-3zm0 4h3v1h-3zm-1-3h1v3h-1zm4 0h1v3h-1zM187 293h3v1h-3zm0 4h3v1h-3zm-1-3h1v3h-1zm4 0h1v3h-1zM185 294h3v1h-3zm0 4h3v1h-3zm-1-3h1v3h-1zm4 0h1v3h-1zM184 295h3v1h-3zm0 4h3v1h-3zm-1-3h1v3h-1zm4 0h1v3h-1zM182 297h3v1h-3zm0 4h3v1h-3zm-1-3h1v3h-1zm4 0h1v3h-1zM180 298h3v1h-3zm0 4h3v1h-3zm-1-3h1v3h-1zm4 0h1v3h-1zM179 299h3v1h-3zm0 4h3v1h-3zm-1-3h1v3h-1zm4 0h1v3h-1zM178 300h3v1h-3zm0 4h3v1h-3zm-1-3h1v3h-1zm4 0h1v3h-1zM177 302h3v1h-3zm0 4h3v1h-3zm-1-3h1v3h-1zm4 0h1v3h-1zM177 303h3v1h-3zm0 4h3v1h-3zm-1-3h1v3h-1zm4 0h1v3h-1zM176 304h3v1h-3zm0 4h3v1h-3zm-1-3h1v3h-1zm4 0h1v3h-1zM175 305h3v1h-3zm0 4h3v1h-3zm-1-3h1v3h-1zm4 0h1v3h-1zM175 306h3v1h-3zm0 4h3v1h-3zm-1-3h1v3h-1zm4 0h1v3h-1zM174 307h3v1h-3zm0 4h3v1h-3zm-1-3h1v3h-1zm4 0h1v3h-1zM174 308h3v1h-3zm0 4h3v1h-3zm-1-3h1v3h-1zm4 0h1v3h-1zM174 309h3v1h-3zm0 4h3v1h-3zm-1-3h1v3h-1zm4 0h1v3h-1zM174 311h3v1h-3zm0 4h3v1h-3zm-1-3h1v3h-1zm4 0h1v3h-1zM173 312h3v1h-3zm0 4h3v1h-3zm-1-3h1v3h-1zm4 0h1v3h-1zM173 313h3v1h-3zm0 4h3v1h-3zm-1-3h1v3h-1zm4 0h1v3h-1zM173 314h3v1h-3zm0 4h3v1h-3zm-1-3h1v3h-1zm4 0h1v3h-1zM174 315h3v1h-3zm0 4h3v1h-3zm-1-3h1v3h-1zm4 0h1v3h-1zM174 317h3v1h-3zm0 4h3v1h-3zm-1-3h1v3h-1zm4 0h1v3h-1zM174 318h3v1h-3zm0 4h3v1h-3zm-1-3h1v3h-1zm4 0h1v3h-1zM174 319h3v1h-3zm0 4h3v1h-3zm-1-3h1v3h-1zm4 0h1v3h-1zM175 320h3v1h-3zm0 4h3v1h-3zm-1-3h1v3h-1zm4 0h1v3h-1zM175 321h3v1h-3zm0 4h3v1h-3zm-1-3h1v3h-1zm4 0h1v3h-1zM175 322h3v1h-3zm0 4h3v1h-3zm-1-3h1v3h-1zm4 0h1v3h-1zM176 322h3v1h-3zm0 4h3v1h-3zm-1-3h1v3h-1zm4 0h1v3h-1zM176 323h3v1h-3zm0 4h3v1h-3zm-1-3h1v3h-1zm4 0h1v3h-1zM177 324h3v1h-3zm0 4h3v1h-3zm-1-3h1v3h-1zm4 0h1v3h-1zM177 325h3v1h-3zm0 4h3v1h-3zm-1-3h1v3h-1zm4 0h1v3h-1zM178 326h3v1h-3zm0 4h3v1h-3zm-1-3h1v3h-1zm4 0h1v3h-1zM179 327h3v1h-3zm0 4h3v1h-3zm-1-3h1v3h-1zm4 0h1v3h-1zM180 328h3v1h-3zm0 4h3v1h-3zm-1-3h1v3h-1zm4 0h1v3h-1zM180 329h3v1h-3zm0 4h3v1h-3zm-1-3h1v3h-1zm4 0h1v3h-1zM181 330h3v1h-3zm0 4h3v1h-3zm-1-3h1v3h-1zm4 0h1v3h-1zM182 330h3v1h-3zm0 4h3v1h-3zm-1-3h1v3h-1zm4 0h1v3h-1zM184 331h3v1h-3zm0 4h3v1h-3zm-1-3h1v3h-1zm4 0h1v3h-1zM185 332h3v1h-3zm0 4h3v1h-3zm-1-3h1v3h-1zm4 0h1v3h-1zM187 333h3v1h-3zm0 4h3v1h-3zm-1-3h1v3h-1zm4 0h1v3h-1zM188 335h3v1h-3zm0 4h3v1h-3zm-1-3h1v3h-1zm4 0h1v3h-1zM190 336h3v1h-3zm0 4h3v1h-3zm-1-3h1v3h-1zm4 0h1v3h-1zM193 337h3v1h-3zm0 4h3v1h-3zm-1-3h1v3h-1zm4 0h1v3h-1zM195 338h3v1h-3zm0 4h3v1h-3zm-1-3h1v3h-1zm4 0h1v3h-1zM197 339h3v1h-3zm0 4h3v1h-3zm-1-3h1v3h-1zm4 0h1v3h-1zM200 340h3v1h-3zm0 4h3v1h-3zm-1-3h1v3h-1zm4 0h1v3h-1zM203 340h3v1h-3zm0 4h3v1h-3zm-1-3h1v3h-1zm4 0h1v3h-1zM206 341h3v1h-3zm0 4h3v1h-3zm-1-3h1v3h-1zm4 0h1v3h-1zM210 342h3v1h-3zm0 4h3v1h-3zm-1-3h1v3h-1zm4 0h1v3h-1zM214 342h3v1h-3zm0 4h3v1h-3zm-1-3h1v3h-1zm4 0h1v3h-1zM218 342h3v1h-3zm0 4h3v1h-3zm-1-3h1v3h-1zm4 0h1v3h-1zM223 342h3v1h-3zm0 4h3v1h-3zm-1-3h1v3h-1zm4 0h1v3h-1zM228 342h3v1h-3zm0 4h3v1h-3zm-1-3h1v3h-1zm4 0h1v3h-1zM232 342h3v1h-3zm0 4h3v1h-3zm-1-3h1v3h-1zm4 0h1v3h-1zM239 340h3v1h-3zm0 4h3v1h-3zm-1-3h1v3h-1zm4 0h1v3h-1zM244 338h3v1h-3zm0 4h3v1h-3zm-1-3h1v3h-1zm4 0h1v3h-1zM249 336h3v1h-3zm0 4h3v1h-3zm-1-3h1v3h-1zm4 0h1v3h-1zM255 333h3v1h-3zm0 4h3v1h-3zm-1-3h1v3h-1zm4 0h1v3h-1zM260 329h3v1h-3zm0 4h3v1h-3zm-1-3h1v3h-1zm4 0h1v3h-1zM263 325h3v1h-3zm0 4h3v1h-3zm-1-3h1v3h-1zm4 0h1v3h-1zM267 318h3v1h-3zm0 4h3v1h-3zm-1-3h1v3h-1zm4 0h1v3h-1zM266 306h3v1h-3zm0 4h3v1h-3zm-1-3h1v3h-1zm4 0h1v3h-1zM262 300h3v1h-3zm0 4h3v1h-3zm-1-3h1v3h-1zm4 0h1v3h-1zM256 294h3v1h-3zm0 4h3v1h-3zm-1-3h1v3h-1zm4 0h1v3h-1zM249 290h3v1h-3zm0 4h3v1h-3zm-1-3h1v3h-1zm4 0h1v3h-1zM242 287h3v1h-3zm0 4h3v1h-3zm-1-3h1v3h-1zm4 0h1v3h-1zM235 285h3v1h-3zm0 4h3v1h-3zm-1-3h1v3h-1zm4 0h1v3h-1zM228 284h3v1h-3zm0 4h3v1h-3zm-1-3h1v3h-1zm4 0h1v3h-1zM222 284h3v1h-3zm0 4h3v1h-3zm-1-3h1v3h-1zm4 0h1v3h-1zM216 284h3v1h-3zm0 4h3v1h-3zm-1-3h1v3h-1zm4 0h1v3h-1zM212 285h3v1h-3zm0 4h3v1h-3zm-1-3h1v3h-1zm4 0h1v3h-1zM208 285h3v1h-3zm0 4h3v1h-3zm-1-3h1v3h-1zm4 0h1v3h-1zM203 286h3v1h-3zm0 4h3v1h-3zm-1-3h1v3h-1zm4 0h1v3h-1z"/>
</svg>
<rect class="b" x="171.5" y="284.5" width="101.0" height="63.0"/>
<svg x="285.5" y="284.5" width="101.0" height="63.0" viewBox="285.5 284.5 101.0 63.0">
<path class="p" d="M335 313h3v1h-3zm0 4h3v1h-3zm-1-3h1v3h-1zm4 0h1v3h-1zM334 312h3v1h-3zm0 4h3v1h-3zm-1-3h1v3h-1zm4 0h1v3h-1zM331 304h3v1h-3zm0 4h3v1h-3zm-1-3h1v3h-1zm4 0h1v3h-1zM327 298h3v1h-3zm0 4h3v1h-3zm-1-3h1v3h-1zm4 0h1v3h-1zM325 293h3v1h-3zm0 4h3v1h-3zm-1-3h1v3h-1zm4 0h1v3h-1zM322 289h3v1h-3zm0 4h3v1h-3zm-1-3h1v3h-1zm4 0h1v3h-1zM319 287h3v1h-3zm0 4h3v1h-3zm-1-3h1v3h-1zm4 0h1v3h-1zM317 285h3v1h-3zm0 4h3v1h-3zm-1-3h1v3h-1zm4 0h1v3h-1zM314 284h3v1h-3zm0 4h3v1h-3zm-1-3h1v3h-1zm4 0h1v3h-1zM312 284h3v1h-3zm0 4h3v1h-3zm-1-3h1v3h-1zm4 0h1v3h-1zM309 284h3v1h-3zm0 4h3v1h-3zm-1-3h1v3h-1zm4 0h1v3h-1zM307 285h3v1h-3zm0 4h3v1h-3zm-1-3h1v3h-1zm4 0h1v3h-1zM305 285h3v1h-3zm0 4h3v1h-3zm-1-3h1v3h-1zm4 0h1v3h-1zM303 286h3v1h-3zm0 4h3v1h-3zm-1-3h1v3h-1zm4 0h1v3h-1zM300 288h3v1h-3zm0 4h3v1h-3zm-1-3h1v3h-1zm4 0h1v3h-1zM298 289h3v1h-3zm0 4h3v1h-3zm-1-3h1v3h-1zm4 0h1v3h-1zM296 290h3v1h-3zm0 4h3v1h-3zm-1-3h1v3h-1zm4 0h1v3h-1zM294 291h3v1h-3zm0 4h3v1h-3zm-1-3h1v3h-1zm4 0h1v3h-1zM292 293h3v1h-3zm0 4h3v1h-3zm-1-3h1v3h-1zm4 0h1v3h-1zM291 294h3v1h-3zm0 4h3v1h-3zm-1-3h1v3h-1zm4 0h1v3h-1zM290 295h3v1h-3zm0 4h3v1h-3zm-1-3h1v3h-1zm4 0h1v3h-1zM288 297h3v1h-3zm0 4h3v1h-3zm-1-3h1v3h-1zm4 0h1v3h-1zM288 298h3v1h-3zm0 4h3v1h-3zm-1-3h1v3h-1zm4 0h1v3h-1zM288 299h3v1h-3zm0 4h3v1h-3zm-1-3h1v3h-1zm4 0h1v3h-1zM288 300h3v1h-3zm0 4h3v1h-3zm-1-3h1v3h-1zm4 0h1v3h-1zM289 302h3v1h-3zm0 4h3v1h-3zm-1-3h1v3h-1zm4 0h1v3h-1zM290 303h3v1h-3zm0 4h3v1h-3zm-1-3h1v3h-1zm4 0h1v3h-1zM292 304h3v1h-3zm0 4h3v1h-3zm-1-3h1v3h-1zm4 0h1v3h-1zM295 305h3v1h-3zm0 4h3v1h-3zm-1-3h1v3h-1zm4 0h1v3h-1zM298 306h3v1h-3zm0 4h3v1h-3zm-1-3h1v3h-1zm4 0h1v3h-1zM302 307h3v1h-3zm0 4h3v1h-3zm-1-3h1v3h-1zm4 0h1v3h-1zM307 308h3v1h-3zm0 4h3v1h-3zm-1-3h1v3h-1zm4 0h1v3h-1zM312 309h3v1h-3zm0 4h3v1h-3zm-1-3h1v3h-1zm4 0h1v3h-1zM319 311h3v1h-3zm0 4h3v1h-3zm-1-3h1v3h-1zm4 0h1v3h-1zM326 312h3v1h-3zm0 4h3v1h-3zm-1-3h1v3h-1zm4 0h1v3h-1zM333 313h3v1h-3zm0 4h3v1h-3zm-1-3h1v3h-1zm4 0h1v3h-1zM341 314h3v1h-3zm0 4h3v1h-3zm-1-3h1v3h-1zm4 0h1v3h-1zM348 315h3v1h-3zm0 4h3v1h-3zm-1-3h1v3h-1zm4 0h1v3h-1zM355 317h3v1h-3zm0 4h3v1h-3zm-1-3h1v3h-1zm4 0h1v3h-1zM361 318h3v1h-3zm0 4h3v1h-3zm-1-3h1v3h-1zm4 0h1v3h-1zM366 319h3v1h-3zm0 4h3v1h-3zm-1-3h1v3h-1zm4 0h1v3h-1zM370 320h3v1h-3zm0 4h3v1h-3zm-1-3h1v3h-1zm4 0h1v3h-1zM373 321h3v1h-3zm0 4h3v1h-3zm-1-3h1v3h-1zm4 0h1v3h-1zM375 322h3v1h-3zm0 4h3v1h-3zm-1-3h1v3h-1zm4 0h1v3h-1zM377 322h3v1h-3zm0 4h3v1h-3zm-1-3h1v3h-1zm4 0h1v3h-1zM378 323h3v1h-3zm0 4h3v1h-3zm-1-3h1v3h-1zm4 0h1v3h-1zM379 324h3v1h-3zm0 4h3v1h-3zm-1-3h1v3h-1zm4 0h1v3h-1zM380 324h3v1h-3zm0 4h3v1h-3zm-1-3h1v3h-1zm4 0h1v3h-1zM380 325h3v1h-3zm0 4h3v1h-3zm-1-3h1v3h-1zm4 0h1v3h-1zM381 326h3v1h-3zm0 4h3v1h-3zm-1-3h1v3h-1zm4 0h1v3h-1zM381 327h3v1h-3zm0 4h3v1h-3zm-1-3h1v3h-1zm4 0h1v3h-1zM381 328h3v1h-3zm0 4h3v1h-3zm-1-3h1v3h-1zm4 0h1v3h-1zM381 329h3v1h-3zm0 4h3v1h-3zm-1-3h1v3h-1zm4 0h1v3h-1zM381 330h3v1h-3zm0 4h3v1h-3zm-1-3h1v3h-1zm4 0h1v3h-1zM380 330h3v1h-3zm0 4h3v1h-3zm-1-3h1v3h-1zm4 0h1v3h-1zM379 331h3v1h-3zm0 4h3v1h-3zm-1-3h1v3h-1zm4 0h1v3h-1zM378 332h3v1h-3zm0 4h3v1h-3zm-1-3h1v3h-1zm4 0h1v3h-1zM377 333h3v1h-3zm0 4h3v1h-3zm-1-3h1v3h-1zm4 0h1v3h-1zM376 335h3v1h-3zm0 4h3v1h-3zm-1-3h1v3h-1zm4 0h1v3h-1zM374 336h3v1h-3zm0 4h3v1h-3zm-1-3h1v3h-1zm4 0h1v3h-1zM372 337h3v1h-3zm0 4h3v1h-3zm-1-3h1v3h-1zm4 0h1v3h-1zM371 338h3v1h-3zm0 4h3v1h-3zm-1-3h1v3h-1zm4 0h1v3h-1zM369 339h3v1h-3zm0 4h3v1h-3zm-1-3h1v3h-1zm4 0h1v3h-1zM367 340h3v1h-3zm0 4h3v1h-3zm-1-3h1v3h-1zm4 0h1v3h-1zM366 340h3v1h-3zm0 4h3v1h-3zm-1-3h1v3h-1zm4 0h1v3h-1zM364 341h3v1h-3zm0 4h3v1h-3zm-1-3h1v3h-1zm4 0h1v3h-1zM362 342h3v1h-3zm0 4h3v1h-3zm-1-3h1v3h-1zm4 0h1v3h-1zM360 342h3v1h-3zm0 4h3v1h-3zm-1-3h1v3h-1zm4 0h1v3h-1zM358 342h3v1h-3zm0 4h3v1h-3zm-1-3h1v3h-1zm4 0h1v3h-1zM356 342h3v1h-3zm0 4h3v1h-3zm-1-3h1v3h-1zm4 0h1v3h-1zM354 342h3v1h-3zm0 4h3v1h-3zm-1-3h1v3h-1zm4 0h1v3h-1zM353 342h3v1h-3zm0 4h3v1h-3zm-1-3h1v3h-1zm4 0h1v3h-1zM350 340h3v1h-3zm0 4h3v1h-3zm-1-3h1v3h-1zm4 0h1v3h-1zM348 338h3v1h-3zm0 4h3v1h-3zm-1-3h1v3h-1zm4 0h1v3h-1zM346 336h3v1h-3zm0 4h3v1h-3zm-1-3h1v3h-1zm4 0h1v3h-1zM344 333h3v1h-3zm0 4h3v1h-3zm-1-3h1v3h-1zm4 0h1v3h-1zM342 329h3v1h-3zm0 4h3v1h-3zm-1-3h1v3h-1zm4 0h1v3h-1zM340 325h3v1h-3zm0 4h3v1h-3zm-1-3h1v3h-1zm4 0h1v3h-1zM337 318h3v1h-3zm0 4h3v1h-3zm-1-3h1v3h-1zm4 0h1v3h-1zM332 306h3v1h-3zm0 4h3v1h-3zm-1-3h1v3h-1zm4 0h1v3h-1zM329 300h3v1h-3zm0 4h3v1h-3zm-1-3h1v3h-1zm4 0h1v3h-1zM326 294h3v1h-3zm0 4h3v1h-3zm-1-3h1v3h-1zm4 0h1v3h-1zM323 290h3v1h-3zm0 4h3v1h-3zm-1-3h1v3h-1zm4 0h1v3h-1zM320 287h3v1h-3zm0 4h3v1h-3zm-1-3h1v3h-1zm4 0h1v3h-1zM318 285h3v1h-3zm0 4h3v1h-3zm-1-3h1v3h-1zm4 0h1v3h-1zM315 284h3v1h-3zm0 4h3v1h-3zm-1-3h1v3h-1zm4 0h1v3h-1zM310 284h3v1h-3zm0 4h3v1h-3zm-1-3h1v3h-1zm4 0h1v3h-1zM308 285h3v1h-3zm0 4h3v1h-3zm-1-3h1v3h-1zm4 0h1v3h-1zM306 285h3v1h-3zm0 4h3v1h-3zm-1-3h1v3h-1zm4 0h1v3h-1z"/>
</svg>
<rect class="b" x="285.5" y="284.5" width="101.0" height="63.0"/>
<text class="l" x="450.22" y="321.90" text-anchor="middle">planet2.r</text>
<rect class="b" x="399.5" y="284.5" width="101.0" height="63.0"/>
<svg x="513.5" y="284.5" width="101.0" height="63.0" viewBox="513.5 284.5 101.0 63.0">
<path class="p" d="M610 313h3v1h-3zm0 4h3v1h-3zm-1-3h1v3h-1zm4 0h1v3h-1zM610 312h3v1h-3zm0 4h3v1h-3zm-1-3h1v3h-1zm4 0h1v3h-1zM610 304h3v1h-3zm0 4h3v1h-3zm-1-3h1v3h-1zm4 0h1v3h-1zM609 298h3v1h-3zm0 4h3v1h-3zm-1-3h1v3h-1zm4 0h1v3h-1zM609 293h3v1h-3zm0 4h3v1h-3zm-1-3h1v3h-1zm4 0h1v3h-1zM608 289h3v1h-3zm0 4h3v1h-3zm-1-3h1v3h-1zm4 0h1v3h-1zM607 287h3v1h-3zm0 4h3v1h-3zm-1-3h1v3h-1zm4 0h1v3h-1zM606 285h3v1h-3zm0 4h3v1h-3zm-1-3h1v3h-1zm4 0h1v3h-1zM605 284h3v1h-3zm0 4h3v1h-3zm-1-3h1v3h-1zm4 0h1v3h-1zM604 284h3v1h-3zm0 4h3v1h-3zm-1-3h1v3h-1zm4 0h1v3h-1zM602 284h3v1h-3zm0 4h3v1h-3zm-1-3h1v3h-1zm4 0h1v3h-1zM601 285h3v1h-3zm0 4h3v1h-3zm-1-3h1v3h-1zm4 0h1v3h-1zM599 285h3v1h-3zm0 4h3v1h-3zm-1-3h1v3h-1zm4 0h1v3h-1zM597 286h3v1h-3zm0 4h3v1h-3zm-1-3h1v3h-1zm4 0h1v3h-1zM595 288h3v1h-3zm0 4h3v1h-3zm-1-3h1v3h-1zm4 0h1v3h-1zM592 289h3v1h-3zm0 4h3v1h-3zm-1-3h1v3h-1zm4 0h1v3h-1zM590 290h3v1h-3zm0 4h3v1h-3zm-1-3h1v3h-1zm4 0h1v3h-1zM587 291h3v1h-3zm0 4h3v1h-3zm-1-3h1v3h-1zm4 0h1v3h-1zM584 293h3v1h-3zm0 4h3v1h-3zm-1-3h1v3h-1zm4 0h1v3h-1zM580 294h3v1h-3zm0 4h3v1h-3zm-1-3h1v3h-1zm4 0h1v3h-1zM576 295h3v1h-3zm0 4h3v1h-3zm-1-3h1v3h-1zm4 0h1v3h-1zM571 297h3v1h-3zm0 4h3v1h-3zm-1-3h1v3h-1zm4 0h1v3h-1zM567 298h3v1h-3zm0 4h3v1h-3zm-1-3h1v3h-1zm4 0h1v3h-1zM562 299h3v1h-3zm0 4h3v1h-3zm-1-3h1v3h-1zm4 0h1v3h-1zM558 300h3v1h-3zm0 4h3v1h-3zm-1-3h1v3h-1zm4 0h1v3h-1zM553 302h3v1h-3zm0 4h3v1h-3zm-1-3h1v3h-1zm4 0h1v3h-1zM548 303h3v1h-3zm0 4h3v1h-3zm-1-3h1v3h-1zm4 0h1v3h-1zM543 304h3v1h-3zm0 4h3v1h-3zm-1-3h1v3h-1zm4 0h1v3h-1zM538 305h3v1h-3zm0 4h3v1h-3zm-1-3h1v3h-1zm4 0h1v3h-1zM534 306h3v1h-3zm0 4h3v1h-3zm-1-3h1v3h-1zm4 0h1v3h-1zM529 307h3v1h-3zm0 4h3v1h-3zm-1-3h1v3h-1zm4 0h1v3h-1zM525 308h3v1h-3zm0 4h3v1h-3zm-1-3h1v3h-1zm4 0h1v3h-1zM522 309h3v1h-3zm0 4h3v1h-3zm-1-3h1v3h-1zm4 0h1v3h-1zM518 311h3v1h-3zm0 4h3v1h-3zm-1-3h1v3h-1zm4 0h1v3h-1zM517 312h3v1h-3zm0 4h3v1h-3zm-1-3h1v3h-1zm4 0h1v3h-1zM516 313h3v1h-3zm0 4h3v1h-3zm-1-3h1v3h-1zm4 0h1v3h-1zM516 314h3v1h-3zm0 4h3v1h-3zm-1-3h1v3h-1zm4 0h1v3h-1zM518 315h3v1h-3zm0 4h3v1h-3zm-1-3h1v3h-1zm4 0h1v3h-1zM520 317h3v1h-3zm0 4h3v1h-3zm-1-3h1v3h-1zm4 0h1v3h-1zM524 318h3v1h-3zm0 4h3v1h-3zm-1-3h1v3h-1zm4 0h1v3h-1zM528 319h3v1h-3zm0 4h3v1h-3zm-1-3h1v3h-1zm4 0h1v3h-1zM532 320h3v1h-3zm0 4h3v1h-3zm-1-3h1v3h-1zm4 0h1v3h-1zM536 321h3v1h-3zm0 4h3v1h-3zm-1-3h1v3h-1zm4 0h1v3h-1zM539 322h3v1h-3zm0 4h3v1h-3zm-1-3h1v3h-1zm4 0h1v3h-1zM542 322h3v1h-3zm0 4h3v1h-3zm-1-3h1v3h-1zm4 0h1v3h-1zM545 323h3v1h-3zm0 4h3v1h-3zm-1-3h1v3h-1zm4 0h1v3h-1zM548 324h3v1h-3zm0 4h3v1h-3zm-1-3h1v3h-1zm4 0h1v3h-1zM550 324h3v1h-3zm0 4h3v1h-3zm-1-3h1v3h-1zm4 0h1v3h-1zM553 325h3v1h-3zm0 4h3v1h-3zm-1-3h1v3h-1zm4 0h1v3h-1zM555 326h3v1h-3zm0 4h3v1h-3zm-1-3h1v3h-1zm4 0h1v3h-1zM558 326h3v1h-3zm0 4h3v1h-3zm-1-3h1v3h-1zm4 0h1v3h-1zM561 327h3v1h-3zm0 4h3v1h-3zm-1-3h1v3h-1zm4 0h1v3h-1zM564 328h3v1h-3zm0 4h3v1h-3zm-1-3h1v3h-1zm4 0h1v3h-1zM567 329h3v1h-3zm0 4h3v1h-3zm-1-3h1v3h-1zm4 0h1v3h-1zM571 330h3v1h-3zm0 4h3v1h-3zm-1-3h1v3h-1zm4 0h1v3h-1zM574 330h3v1h-3zm0 4h3v1h-3zm-1-3h1v3h-1zm4 0h1v3h-1zM577 331h3v1h-3zm0 4h3v1h-3zm-1-3h1v3h-1zm4 0h1v3h-1zM579 332h3v1h-3zm0 4h3v1h-3zm-1-3h1v3h-1zm4 0h1v3h-1zM582 333h3v1h-3zm0 4h3v1h-3zm-1-3h1v3h-1zm4 0h1v3h-1zM585 335h3v1h-3zm0 4h3v1h-3zm-1-3h1v3h-1zm4 0h1v3h-1zM588 336h3v1h-3zm0 4h3v1h-3zm-1-3h1v3h-1zm4 0h1v3h-1zM590 337h3v1h-3zm0 4h3v1h-3zm-1-3h1v3h-1zm4 0h1v3h-1zM593 338h3v1h-3zm0 4h3v1h-3zm-1-3h1v3h-1zm4 0h1v3h-1zM594 339h3v1h-3zm0 4h3v1h-3zm-1-3h1v3h-1zm4 0h1v3h-1zM596 340h3v1h-3zm0 4h3v1h-3zm-1-3h1v3h-1zm4 0h1v3h-1zM598 340h3v1h-3zm0 4h3v1h-3zm-1-3h1v3h-1zm4 0h1v3h-1zM599 341h3v1h-3zm0 4h3v1h-3zm-1-3h1v3h-1zm4 0h1v3h-1zM601 342h3v1h-3zm0 4h3v1h-3zm-1-3h1v3h-1zm4 0h1v3h-1zM602 342h3v1h-3zm0 4h3v1h-3zm-1-3h1v3h-1zm4 0h1v3h-1zM603 342h3v1h-3zm0 4h3v1h-3zm-1-3h1v3h-1zm4 0h1v3h-1zM604 342h3v1h-3zm0 4h3v1h-3zm-1-3h1v3h-1zm4 0h1v3h-1zM605 342h3v1h-3zm0 4h3v1h-3zm-1-3h1v3h-1zm4 0h1v3h-1zM606 342h3v1h-3zm0 4h3v1h-3zm-1-3h1v3h-1zm4 0h1v3h-1zM607 340h3v1h-3zm0 4h3v1h-3zm-1-3h1v3h-1zm4 0h1v3h-1zM608 338h3v1h-3zm0 4h3v1h-3zm-1-3h1v3h-1zm4 0h1v3h-1zM608 336h3v1h-3zm0 4h3v1h-3zm-1-3h1v3h-1zm4 0h1v3h-1zM609 333h3v1h-3zm0 4h3v1h-3zm-1-3h1v3h-1zm4 0h1v3h-1zM609 329h3v1h-3zm0 4h3v1h-3zm-1-3h1v3h-1zm4 0h1v3h-1zM609 325h3v1h-3zm0 4h3v1h-3zm-1-3h1v3h-1zm4 0h1v3h-1zM610 318h3v1h-3zm0 4h3v1h-3zm-1-3h1v3h-1zm4 0h1v3h-1zM610 306h3v1h-3zm0 4h3v1h-3zm-1-3h1v3h-1zm4 0h1v3h-1zM609 300h3v1h-3zm0 4h3v1h-3zm-1-3h1v3h-1zm4 0h1v3h-1zM609 294h3v1h-3zm0 4h3v1h-3zm-1-3h1v3h-1zm4 0h1v3h-1zM608 290h3v1h-3zm0 4h3v1h-3zm-1-3h1v3h-1zm4 0h1v3h-1zM607 285h3v1h-3zm0 4h3v1h-3zm-1-3h1v3h-1zm4 0h1v3h-1zM603 284h3v1h-3zm0 4h3v1h-3zm-1-3h1v3h-1zm4 0h1v3h-1zM602 285h3v1h-3zm0 4h3v1h-3zm-1-3h1v3h-1zm4 0h1v3h-1zM600 285h3v1h-3zm0 4h3v1h-3zm-1-3h1v3h-1zm4 0h1v3h-1zM598 286h3v1h-3zm0 4h3v1h-3zm-1-3h1v3h-1zm4 0h1v3h-1z"/>
</svg>
<rect class="b" x="513.5" y="284.5" width="101.0" height="63.0"/>
<svg x="57.5" y="359.5" width="101.0" height="63.0" viewBox="57.5 359.5 101.0 63.0">
<path class="p" d="M59 360h3v1h-3zm0 4h3v1h-3zm-1-3h1v3h-1zm4 0h1v3h-1zM60 360h3v1h-3zm0 4h3v1h-3zm-1-3h1v3h-1zm4 0h1v3h-1zM65 360h3v1h-3zm0 4h3v1h-3zm-1-3h1v3h-1zm4 0h1v3h-1zM70 360h3v1h-3zm0 4h3v1h-3zm-1-3h1v3h-1zm4 0h1v3h-1zM74 360h3v1h-3zm0 4h3v1h-3zm-1-3h1v3h-1zm4 0h1v3h-1zM77 361h3v1h-3zm0 4h3v1h-3zm-1-3h1v3h-1zm4 0h1v3h-1zM79 361h3v1h-3zm0 4h3v1h-3zm-1-3h1v3h-1zm4 0h1v3h-1zM82 362h3v1h-3zm0 4h3v1h-3zm-1-3h1v3h-1zm4 0h1v3h-1zM83 363h3v1h-3zm0 4h3v1h-3zm-1-3h1v3h-1zm4 0h1v3h-1zM85 363h3v1h-3zm0 4h3v1h-3zm-1-3h1v3h-1zm4 0h1v3h-1zM86 364h3v1h-3zm0 4h3v1h-3zm-1-3h1v3h-1zm4 0h1v3h-1zM87 365h3v1h-3zm0 4h3v1h-3zm-1-3h1v3h-1zm4 0h1v3h-1zM87 366h3v1h-3zm0 4h3v1h-3zm-1-3h1v3h-1zm4 0h1v3h-1zM88 367h3v1h-3zm0 4h3v1h-3zm-1-3h1v3h-1zm4 0h1v3h-1zM89 369h3v1h-3zm0 4h3v1h-3zm-1-3h1v3h-1zm4 0h1v3h-1zM89 371h3v1h-3zm0 4h3v1h-3zm-1-3h1v3h-1zm4 0h1v3h-1zM90 372h3v1h-3zm0 4h3v1h-3zm-1-3h1v3h-1zm4 0h1v3h-1zM90 374h3v1h-3zm0 4h3v1h-3zm-1-3h1v3h-1zm4 0h1v3h-1zM90 376h3v1h-3zm0 4h3v1h-3zm-1-3h1v3h-1zm4 0h1v3h-1zM90 378h3v1h-3zm0 4h3v1h-3zm-1-3h1v3h-1zm4 0h1v3h-1zM91 381h3v1h-3zm0 4h3v1h-3zm-1-3h1v3h-1zm4 0h1v3h-1zM91 384h3v1h-3zm0 4h3v1h-3zm-1-3h1v3h-1zm4 0h1v3h-1zM91 386h3v1h-3zm0 4h3v1h-3zm-1-3h1v3h-1zm4 0h1v3h-1zM91 389h3v1h-3zm0 4h3v1h-3zm-1-3h1v3h-1zm4 0h1v3h-1zM91 392h3v1h-3zm0 4h3v1h-3zm-1-3h1v3h-1zm4 0h1v3h-1zM91 395h3v1h-3zm0 4h3v1h-3zm-1-3h1v3h-1zm4 0h1v3h-1zM91 398h3v1h-3zm0 4h3v1h-3zm-1-3h1v3h-1zm4 0h1v3h-1zM91 401h3v1h-3zm0 4h3v1h-3zm-1-3h1v3h-1zm4 0h1v3h-1zM91 404h3v1h-3zm0 4h3v1h-3zm-1-3h1v3h-1zm4 0h1v3h-1zM92 407h3v1h-3zm0 4h3v1h-3zm-1-3h1v3h-1zm4 0h1v3h-1zM92 410h3v1h-3zm0 4h3v1h-3zm-1-3h1v3h-1zm4 0h1v3h-1zM92 413h3v1h-3zm0 4h3v1h-3zm-1-3h1v3h-1zm4 0h1v3h-1zM92 415h3v1h-3zm0 4h3v1h-3zm-1-3h1v3h-1zm4 0h1v3h-1zM92 416h3v1h-3zm0 4h3v1h-3zm-1-3h1v3h-1zm4 0h1v3h-1zM92 418h3v1h-3zm0 4h3v1h-3zm-1-3h1v3h-1zm4 0h1v3h-1zM92 417h3v1h-3zm0 4h3v1h-3zm-1-3h1v3h-1zm4 0h1v3h-1zM92 411h3v1h-3zm0 4h3v1h-3zm-1-3h1v3h-1zm4 0h1v3h-1zM92 408h3v1h-3zm0 4h3v1h-3zm-1-3h1v3h-1zm4 0h1v3h-1zM92 406h3v1h-3zm0 4h3v1h-3zm-1-3h1v3h-1zm4 0h1v3h-1zM92 404h3v1h-3zm0 4h3v1h-3zm-1-3h1v3h-1zm4 0h1v3h-1zM92 402h3v1h-3zm0 4h3v1h-3zm-1-3h1v3h-1zm4 0h1v3h-1zM92 400h3v1h-3zm0 4h3v1h-3zm-1-3h1v3h-1zm4 0h1v3h-1zM92 398h3v1h-3zm0 4h3v1h-3zm-1-3h1v3h-1zm4 0h1v3h-1zM92 397h3v1h-3zm0 4h3v1h-3zm-1-3h1v3h-1zm4 0h1v3h-1zM93 395h3v1h-3zm0 4h3v1h-3zm-1-3h1v3h-1zm4 0h1v3h-1zM93 394h3v1h-3zm0 4h3v1h-3zm-1-3h1v3h-1zm4 0h1v3h-1zM93 392h3v1h-3zm0 4h3v1h-3zm-1-3h1v3h-1zm4 0h1v3h-1zM93 390h3v1h-3zm0 4h3v1h-3zm-1-3h1v3h-1zm4 0h1v3h-1zM93 388h3v1h-3zm0 4h3v1h-3zm-1-3h1v3h-1zm4 0h1v3h-1zM93 386h3v1h-3zm0 4h3v1h-3zm-1-3h1v3h-1zm4 0h1v3h-1zM93 384h3v1h-3zm0 4h3v1h-3zm-1-3h1v3h-1zm4 0h1v3h-1zM93 382h3v1h-3zm0 4h3v1h-3zm-1-3h1v3h-1zm4 0h1v3h-1zM93 380h3v1h-3zm0 4h3v1h-3zm-1-3h1v3h-1zm4 0h1v3h-1zM93 379h3v1h-3zm0 4h3v1h-3zm-1-3h1v3h-1zm4 0h1v3h-1zM94 377h3v1h-3zm0 4h3v1h-3zm-1-3h1v3h-1zm4 0h1v3h-1zM94 375h3v1h-3zm0 4h3v1h-3zm-1-3h1v3h-1zm4 0h1v3h-1zM94 373h3v1h-3zm0 4h3v1h-3zm-1-3h1v3h-1zm4 0h1v3h-1zM94 372h3v1h-3zm0 4h3v1h-3zm-1-3h1v3h-1zm4 0h1v3h-1zM95 370h3v1h-3zm0 4h3v1h-3zm-1-3h1v3h-1zm4 0h1v3h-1zM95 369h3v1h-3zm0 4h3v1h-3zm-1-3h1v3h-1zm4 0h1v3h-1zM95 368h3v1h-3zm0 4h3v1h-3zm-1-3h1v3h-1zm4 0h1v3h-1zM96 367h3v1h-3zm0 4h3v1h-3zm-1-3h1v3h-1zm4 0h1v3h-1zM96 366h3v1h-3zm0 4h3v1h-3zm-1-3h1v3h-1zm4 0h1v3h-1zM97 365h3v1h-3zm0 4h3v1h-3zm-1-3h1v3h-1zm4 0h1v3h-1zM98 364h3v1h-3zm0 4h3v1h-3zm-1-3h1v3h-1zm4 0h1v3h-1zM99 364h3v1h-3zm0 4h3v1h-3zm-1-3h1v3h-1zm4 0h1v3h-1zM100 363h3v1h-3zm0 4h3v1h-3zm-1-3h1v3h-1zm4 0h1v3h-1zM101 362h3v1h-3zm0 4h3v1h-3zm-1-3h1v3h-1zm4 0h1v3h-1zM102 362h3v1h-3zm0 4h3v1h-3zm-1-3h1v3h-1zm4 0h1v3h-1zM104 361h3v1h-3zm0 4h3v1h-3zm-1-3h1v3h-1zm4 0h1v3h-1zM106 361h3v1h-3zm0 4h3v1h-3zm-1-3h1v3h-1zm4 0h1v3h-1zM108 361h3v1h-3zm0 4h3v1h-3zm-1-3h1v3h-1zm4 0h1v3h-1zM111 360h3v1h-3zm0 4h3v1h-3zm-1-3h1v3h-1zm4 0h1v3h-1zM114 360h3v1h-3zm0 4h3v1h-3zm-1-3h1v3h-1zm4 0h1v3h-1zM116 360h3v1h-3zm0 4h3v1h-3zm-1-3h1v3h-1zm4 0h1v3h-1zM121 360h3v1h-3zm0 4h3v1h-3zm-1-3h1v3h-1zm4 0h1v3h-1zM125 360h3v1h-3zm0 4h3v1h-3zm-1-3h1v3h-1zm4 0h1v3h-1zM129 360h3v1h-3zm0 4h3v1h-3zm-1-3h1v3h-1zm4 0h1v3h-1zM134 360h3v1h-3zm0 4h3v1h-3zm-1-3h1v3h-1zm4 0h1v3h-1zM138 360h3v1h-3zm0 4h3v1h-3zm-1-3h1v3h-1zm4 0h1v3h-1zM141 361h3v1h-3zm0 4h3v1h-3zm-1-3h1v3h-1zm4 0h1v3h-1zM144 361h3v1h-3zm0 4h3v1h-3zm-1-3h1v3h-1zm4 0h1v3h-1zM146 362h3v1h-3zm0 4h3v1h-3zm-1-3h1v3h-1zm4 0h1v3h-1zM148 362h3v1h-3zm0 4h3v1h-3zm-1-3h1v3h-1zm4 0h1v3h-1zM150 363h3v1h-3zm0 4h3v1h-3zm-1-3h1v3h-1zm4 0h1v3h-1zM151 364h3v1h-3zm0 4h3v1h-3zm-1-3h1v3h-1zm4 0h1v3h-1zM152 365h3v1h-3zm0 4h3v1h-3zm-1-3h1v3h-1zm4 0h1v3h-1zM152 366h3v1h-3zm0 4h3v1h-3zm-1-3h1v3h-1zm4 0h1v3h-1zM153 367h3v1h-3zm0 4h3v1h-3zm-1-3h1v3h-1zm4 0h1v3h-1z"/>
</svg>
<rect class="b" x="57.5" y="359.5" width="101.0" height="63.0"/>
<svg x="171.5" y="359.5" width="101.0" height="63.0" viewBox="171.5 359.5 101.0 63.0">
<path class="p" d="M267 360h3v1h-3zm0 4h3v1h-3zm-1-3h1v3h-1zm4 0h1v3h-1zM265 360h3v1h-3zm0 4h3v1h-3zm-1-3h1v3h-1zm4 0h1v3h-1zM260 360h3v1h-3zm0 4h3v1h-3zm-1-3h1v3h-1zm4 0h1v3h-1zM254 360h3v1h-3zm0 4h3v1h-3zm-1-3h1v3h-1zm4 0h1v3h-1zM247 361h3v1h-3zm0 4h3v1h-3zm-1-3h1v3h-1zm4 0h1v3h-1zM240 361h3v1h-3zm0 4h3v1h-3zm-1-3h1v3h-1zm4 0h1v3h-1zM233 362h3v1h-3zm0 4h3v1h-3zm-1-3h1v3h-1zm4 0h1v3h-1zM226 363h3v1h-3zm0 4h3v1h-3zm-1-3h1v3h-1zm4 0h1v3h-1zM221 363h3v1h-3zm0 4h3v1h-3zm-1-3h1v3h-1zm4 0h1v3h-1zM215 364h3v1h-3zm0 4h3v1h-3zm-1-3h1v3h-1zm4 0h1v3h-1zM210 365h3v1h-3zm0 4h3v1h-3zm-1-3h1v3h-1zm4 0h1v3h-1zM206 366h3v1h-3zm0 4h3v1h-3zm-1-3h1v3h-1zm4 0h1v3h-1zM202 367h3v1h-3zm0 4h3v1h-3zm-1-3h1v3h-1zm4 0h1v3h-1zM198 369h3v1h-3zm0 4h3v1h-3zm-1-3h1v3h-1zm4 0h1v3h-1zM195 371h3v1h-3zm0 4h3v1h-3zm-1-3h1v3h-1zm4 0h1v3h-1zM192 372h3v1h-3zm0 4h3v1h-3zm-1-3h1v3h-1zm4 0h1v3h-1zM190 374h3v1h-3zm0 4h3v1h-3zm-1-3h1v3h-1zm4 0h1v3h-1zM187 376h3v1h-3zm0 4h3v1h-3zm-1-3h1v3h-1zm4 0h1v3h-1zM185 378h3v1h-3zm0 4h3v1h-3zm-1-3h1v3h-1zm4 0h1v3h-1zM184 381h3v1h-3zm0 4h3v1h-3zm-1-3h1v3h-1zm4 0h1v3h-1zM182 384h3v1h-3zm0 4h3v1h-3zm-1-3h1v3h-1zm4 0h1v3h-1zM180 386h3v1h-3zm0 4h3v1h-3zm-1-3h1v3h-1zm4 0h1v3h-1zM179 389h3v1h-3zm0 4h3v1h-3zm-1-3h1v3h-1zm4 0h1v3h-1zM178 392h3v1h-3zm0 4h3v1h-3zm-1-3h1v3h-1zm4 0h1v3h-1zM177 395h3v1h-3zm0 4h3v1h-3zm-1-3h1v3h-1zm4 0h1v3h-1zM177 398h3v1h-3zm0 4h3v1h-3zm-1-3h1v3h-1zm4 0h1v3h-1zM176 401h3v1h-3zm0 4h3v1h-3zm-1-3h1v3h-1zm4 0h1v3h-1zM175 404h3v1h-3zm0 4h3v1h-3zm-1-3h1v3h-1zm4 0h1v3h-1zM175 407h3v1h-3zm0 4h3v1h-3zm-1-3h1v3h-1zm4 0h1v3h-1zM174 410h3v1h-3zm0 4h3v1h-3zm-1-3h1v3h-1zm4 0h1v3h-1zM174 413h3v1h-3zm0 4h3v1h-3zm-1-3h1v3h-1zm4 0h1v3h-1zM174 415h3v1h-3zm0 4h3v1h-3zm-1-3h1v3h-1zm4 0h1v3h-1zM174 416h3v1h-3zm0 4h3v1h-3zm-1-3h1v3h-1zm4 0h1v3h-1zM173 418h3v1h-3zm0 4h3v1h-3zm-1-3h1v3h-1zm4 0h1v3h-1zM174 417h3v1h-3zm0 4h3v1h-3zm-1-3h1v3h-1zm4 0h1v3h-1zM174 411h3v1h-3zm0 4h3v1h-3zm-1-3h1v3h-1zm4 0h1v3h-1zM175 408h3v1h-3zm0 4h3v1h-3zm-1-3h1v3h-1zm4 0h1v3h-1zM175 406h3v1h-3zm0 4h3v1h-3zm-1-3h1v3h-1zm4 0h1v3h-1zM176 402h3v1h-3zm0 4h3v1h-3zm-1-3h1v3h-1zm4 0h1v3h-1zM176 400h3v1h-3zm0 4h3v1h-3zm-1-3h1v3h-1zm4 0h1v3h-1zM177 397h3v1h-3zm0 4h3v1h-3zm-1-3h1v3h-1zm4 0h1v3h-1zM178 394h3v1h-3zm0 4h3v1h-3zm-1-3h1v3h-1zm4 0h1v3h-1zM179 390h3v1h-3zm0 4h3v1h-3zm-1-3h1v3h-1zm4 0h1v3h-1zM180 388h3v1h-3zm0 4h3v1h-3zm-1-3h1v3h-1zm4 0h1v3h-1zM181 384h3v1h-3zm0 4h3v1h-3zm-1-3h1v3h-1zm4 0h1v3h-1zM182 382h3v1h-3zm0 4h3v1h-3zm-1-3h1v3h-1zm4 0h1v3h-1zM184 380h3v1h-3zm0 4h3v1h-3zm-1-3h1v3h-1zm4 0h1v3h-1zM185 379h3v1h-3zm0 4h3v1h-3zm-1-3h1v3h-1zm4 0h1v3h-1zM187 377h3v1h-3zm0 4h3v1h-3zm-1-3h1v3h-1zm4 0h1v3h-1zM188 375h3v1h-3zm0 4h3v1h-3zm-1-3h1v3h-1zm4 0h1v3h-1zM190 373h3v1h-3zm0 4h3v1h-3zm-1-3h1v3h-1zm4 0h1v3h-1zM193 372h3v1h-3zm0 4h3v1h-3zm-1-3h1v3h-1zm4 0h1v3h-1zM195 370h3v1h-3zm0 4h3v1h-3zm-1-3h1v3h-1zm4 0h1v3h-1zM197 369h3v1h-3zm0 4h3v1h-3zm-1-3h1v3h-1zm4 0h1v3h-1zM200 368h3v1h-3zm0 4h3v1h-3zm-1-3h1v3h-1zm4 0h1v3h-1zM203 367h3v1h-3zm0 4h3v1h-3zm-1-3h1v3h-1zm4 0h1v3h-1zM214 364h3v1h-3zm0 4h3v1h-3zm-1-3h1v3h-1zm4 0h1v3h-1zM218 364h3v1h-3zm0 4h3v1h-3zm-1-3h1v3h-1zm4 0h1v3h-1zM223 363h3v1h-3zm0 4h3v1h-3zm-1-3h1v3h-1zm4 0h1v3h-1zM228 362h3v1h-3zm0 4h3v1h-3zm-1-3h1v3h-1zm4 0h1v3h-1zM232 362h3v1h-3zm0 4h3v1h-3zm-1-3h1v3h-1zm4 0h1v3h-1zM239 361h3v1h-3zm0 4h3v1h-3zm-1-3h1v3h-1zm4 0h1v3h-1zM244 361h3v1h-3zm0 4h3v1h-3zm-1-3h1v3h-1zm4 0h1v3h-1zM249 361h3v1h-3zm0 4h3v1h-3zm-1-3h1v3h-1zm4 0h1v3h-1zM255 360h3v1h-3zm0 4h3v1h-3zm-1-3h1v3h-1zm4 0h1v3h-1zM263 360h3v1h-3zm0 4h3v1h-3zm-1-3h1v3h-1zm4 0h1v3h-1zM266 360h3v1h-3zm0 4h3v1h-3zm-1-3h1v3h-1zm4 0h1v3h-1zM262 360h3v1h-3zm0 4h3v1h-3zm-1-3h1v3h-1zm4 0h1v3h-1zM256 360h3v1h-3zm0 4h3v1h-3zm-1-3h1v3h-1zm4 0h1v3h-1zM242 361h3v1h-3zm0 4h3v1h-3zm-1-3h1v3h-1zm4 0h1v3h-1zM235 362h3v1h-3zm0 4h3v1h-3zm-1-3h1v3h-1zm4 0h1v3h-1zM222 363h3v1h-3zm0 4h3v1h-3zm-1-3h1v3h-1zm4 0h1v3h-1zM216 364h3v1h-3zm0 4h3v1h-3zm-1-3h1v3h-1zm4 0h1v3h-1zM212 365h3v1h-3zm0 4h3v1h-3zm-1-3h1v3h-1zm4 0h1v3h-1zM208 366h3v1h-3zm0 4h3v1h-3zm-1-3h1v3h-1zm4 0h1v3h-1z"/>
</svg>
<rect class="b" x="171.5" y="359.5" width="101.0" height="63.0"/>
<svg x="285.5" y="359.5" width="101.0" height="63.0" viewBox="285.5 359.5 101.0 63.0">
<path class="p" d="M335 360h3v1h-3zm0 4h3v1h-3zm-1-3h1v3h-1zm4 0h1v3h-1zM334 360h3v1h-3zm0 4h3v1h-3zm-1-3h1v3h-1zm4 0h1v3h-1zM331 360h3v1h-3zm0 4h3v1h-3zm-1-3h1v3h-1zm4 0h1v3h-1zM327 360h3v1h-3zm0 4h3v1h-3zm-1-3h1v3h-1zm4 0h1v3h-1zM325 360h3v1h-3zm0 4h3v1h-3zm-1-3h1v3h-1zm4 0h1v3h-1zM322 361h3v1h-3zm0 4h3v1h-3zm-1-3h1v3h-1zm4 0h1v3h-1zM319 361h3v1h-3zm0 4h3v1h-3zm-1-3h1v3h-1zm4 0h1v3h-1zM317 362h3v1h-3zm0 4h3v1h-3zm-1-3h1v3h-1zm4 0h1v3h-1zM314 363h3v1h-3zm0 4h3v1h-3zm-1-3h1v3h-1zm4 0h1v3h-1zM312 363h3v1h-3zm0 4h3v1h-3zm-1-3h1v3h-1zm4 0h1v3h-1zM309 364h3v1h-3zm0 4h3v1h-3zm-1-3h1v3h-1zm4 0h1v3h-1zM307 365h3v1h-3zm0 4h3v1h-3zm-1-3h1v3h-1zm4 0h1v3h-1zM305 366h3v1h-3zm0 4h3v1h-3zm-1-3h1v3h-1zm4 0h1v3h-1zM303 367h3v1h-3zm0 4h3v1h-3zm-1-3h1v3h-1zm4 0h1v3h-1zM300 369h3v1h-3zm0 4h3v1h-3zm-1-3h1v3h-1zm4 0h1v3h-1zM298 371h3v1h-3zm0 4h3v1h-3zm-1-3h1v3h-1zm4 0h1v3h-1zM296 372h3v1h-3zm0 4h3v1h-3zm-1-3h1v3h-1zm4 0h1v3h-1zM294 374h3v1h-3zm0 4h3v1h-3zm-1-3h1v3h-1zm4 0h1v3h-1zM292 376h3v1h-3zm0 4h3v1h-3zm-1-3h1v3h-1zm4 0h1v3h-1zM291 378h3v1h-3zm0 4h3v1h-3zm-1-3h1v3h-1zm4 0h1v3h-1zM290 381h3v1h-3zm0 4h3v1h-3zm-1-3h1v3h-1zm4 0h1v3h-1zM288 384h3v1h-3zm0 4h3v1h-3zm-1-3h1v3h-1zm4 0h1v3h-1zM288 386h3v1h-3zm0 4h3v1h-3zm-1-3h1v3h-1zm4 0h1v3h-1zM288 389h3v1h-3zm0 4h3v1h-3zm-1-3h1v3h-1zm4 0h1v3h-1zM288 392h3v1h-3zm0 4h3v1h-3zm-1-3h1v3h-1zm4 0h1v3h-1zM289 395h3v1h-3zm0 4h3v1h-3zm-1-3h1v3h-1zm4 0h1v3h-1zM290 398h3v1h-3zm0 4h3v1h-3zm-1-3h1v3h-1zm4 0h1v3h-1zM292 401h3v1h-3zm0 4h3v1h-3zm-1-3h1v3h-1zm4 0h1v3h-1zM295 404h3v1h-3zm0 4h3v1h-3zm-1-3h1v3h-1zm4 0h1v3h-1zM298 407h3v1h-3zm0 4h3v1h-3zm-1-3h1v3h-1zm4 0h1v3h-1zM302 410h3v1h-3zm0 4h3v1h-3zm-1-3h1v3h-1zm4 0h1v3h-1zM307 413h3v1h-3zm0 4h3v1h-3zm-1-3h1v3h-1zm4 0h1v3h-1zM312 415h3v1h-3zm0 4h3v1h-3zm-1-3h1v3h-1zm4 0h1v3h-1zM319 416h3v1h-3zm0 4h3v1h-3zm-1-3h1v3h-1zm4 0h1v3h-1zM326 418h3v1h-3zm0 4h3v1h-3zm-1-3h1v3h-1zm4 0h1v3h-1zM333 418h3v1h-3zm0 4h3v1h-3zm-1-3h1v3h-1zm4 0h1v3h-1zM341 418h3v1h-3zm0 4h3v1h-3zm-1-3h1v3h-1zm4 0h1v3h-1zM348 417h3v1h-3zm0 4h3v1h-3zm-1-3h1v3h-1zm4 0h1v3h-1zM355 415h3v1h-3zm0 4h3v1h-3zm-1-3h1v3h-1zm4 0h1v3h-1zM361 413h3v1h-3zm0 4h3v1h-3zm-1-3h1v3h-1zm4 0h1v3h-1zM366 411h3v1h-3zm0 4h3v1h-3zm-1-3h1v3h-1zm4 0h1v3h-1zM370 408h3v1h-3zm0 4h3v1h-3zm-1-3h1v3h-1zm4 0h1v3h-1zM373 406h3v1h-3zm0 4h3v1h-3zm-1-3h1v3h-1zm4 0h1v3h-1zM375 404h3v1h-3zm0 4h3v1h-3zm-1-3h1v3h-1zm4 0h1v3h-1zM377 402h3v1h-3zm0 4h3v1h-3zm-1-3h1v3h-1zm4 0h1v3h-1zM378 400h3v1h-3zm0 4h3v1h-3zm-1-3h1v3h-1zm4 0h1v3h-1zM379 398h3v1h-3zm0 4h3v1h-3zm-1-3h1v3h-1zm4 0h1v3h-1zM380 397h3v1h-3zm0 4h3v1h-3zm-1-3h1v3h-1zm4 0h1v3h-1zM380 395h3v1h-3zm0 4h3v1h-3zm-1-3h1v3h-1zm4 0h1v3h-1zM381 394h3v1h-3zm0 4h3v1h-3zm-1-3h1v3h-1zm4 0h1v3h-1zM381 392h3v1h-3zm0 4h3v1h-3zm-1-3h1v3h-1zm4 0h1v3h-1zM381 390h3v1h-3zm0 4h3v1h-3zm-1-3h1v3h-1zm4 0h1v3h-1zM381 388h3v1h-3zm0 4h3v1h-3zm-1-3h1v3h-1zm4 0h1v3h-1zM381 386h3v1h-3zm0 4h3v1h-3zm-1-3h1v3h-1zm4 0h1v3h-1zM381 384h3v1h-3zm0 4h3v1h-3zm-1-3h1v3h-1zm4 0h1v3h-1zM380 382h3v1h-3zm0 4h3v1h-3zm-1-3h1v3h-1zm4 0h1v3h-1zM379 380h3v1h-3zm0 4h3v1h-3zm-1-3h1v3h-1zm4 0h1v3h-1zM378 379h3v1h-3zm0 4h3v1h-3zm-1-3h1v3h-1zm4 0h1v3h-1zM377 377h3v1h-3zm0 4h3v1h-3zm-1-3h1v3h-1zm4 0h1v3h-1zM376 375h3v1h-3zm0 4h3v1h-3zm-1-3h1v3h-1zm4 0h1v3h-1zM374 373h3v1h-3zm0 4h3v1h-3zm-1-3h1v3h-1zm4 0h1v3h-1zM372 372h3v1h-3zm0 4h3v1h-3zm-1-3h1v3h-1zm4 0h1v3h-1zM371 370h3v1h-3zm0 4h3v1h-3zm-1-3h1v3h-1zm4 0h1v3h-1zM369 369h3v1h-3zm0 4h3v1h-3zm-1-3h1v3h-1zm4 0h1v3h-1zM367 368h3v1h-3zm0 4h3v1h-3zm-1-3h1v3h-1zm4 0h1v3h-1zM366 367h3v1h-3zm0 4h3v1h-3zm-1-3h1v3h-1zm4 0h1v3h-1zM364 366h3v1h-3zm0 4h3v1h-3zm-1-3h1v3h-1zm4 0h1v3h-1zM362 365h3v1h-3zm0 4h3v1h-3zm-1-3h1v3h-1zm4 0h1v3h-1zM360 364h3v1h-3zm0 4h3v1h-3zm-1-3h1v3h-1zm4 0h1v3h-1zM358 364h3v1h-3zm0 4h3v1h-3zm-1-3h1v3h-1zm4 0h1v3h-1zM356 363h3v1h-3zm0 4h3v1h-3zm-1-3h1v3h-1zm4 0h1v3h-1zM354 362h3v1h-3zm0 4h3v1h-3zm-1-3h1v3h-1zm4 0h1v3h-1zM353 362h3v1h-3zm0 4h3v1h-3zm-1-3h1v3h-1zm4 0h1v3h-1zM350 361h3v1h-3zm0 4h3v1h-3zm-1-3h1v3h-1zm4 0h1v3h-1zM348 361h3v1h-3zm0 4h3v1h-3zm-1-3h1v3h-1zm4 0h1v3h-1zM346 361h3v1h-3zm0 4h3v1h-3zm-1-3h1v3h-1zm4 0h1v3h-1zM344 360h3v1h-3zm0 4h3v1h-3zm-1-3h1v3h-1zm4 0h1v3h-1zM342 360h3v1h-3zm0 4h3v1h-3zm-1-3h1v3h-1zm4 0h1v3h-1zM340 360h3v1h-3zm0 4h3v1h-3zm-1-3h1v3h-1zm4 0h1v3h-1zM337 360h3v1h-3zm0 4h3v1h-3zm-1-3h1v3h-1zm4 0h1v3h-1zM332 360h3v1h-3zm0 4h3v1h-3zm-1-3h1v3h-1zm4 0h1v3h-1zM329 360h3v1h-3zm0 4h3v1h-3zm-1-3h1v3h-1zm4 0h1v3h-1zM326 360h3v1h-3zm0 4h3v1h-3zm-1-3h1v3h-1zm4 0h1v3h-1zM323 361h3v1h-3zm0 4h3v1h-3zm-1-3h1v3h-1zm4 0h1v3h-1zM320 361h3v1h-3zm0 4h3v1h-3zm-1-3h1v3h-1zm4 0h1v3h-1zM318 362h3v1h-3zm0 4h3v1h-3zm-1-3h1v3h-1zm4 0h1v3h-1zM315 362h3v1h-3zm0 4h3v1h-3zm-1-3h1v3h-1zm4 0h1v3h-1zM310 364h3v1h-3zm0 4h3v1h-3zm-1-3h1v3h-1zm4 0h1v3h-1zM308 365h3v1h-3zm0 4h3v1h-3zm-1-3h1v3h-1zm4 0h1v3h-1zM306 366h3v1h-3zm0 4h3v1h-3zm-1-3h1v3h-1zm4 0h1v3h-1z"/>
</svg>
<rect class="b" x="285.5" y="359.5" width="101.0" height="63.0"/>
<svg x="399.5" y="359.5" width="101.0" height="63.0" viewBox="399.5 359.5 101.0 63.0">
<path class="p" d="M449 360h3v1h-3zm0 4h3v1h-3zm-1-3h1v3h-1zm4 0h1v3h-1zM451 360h3v1h-3zm0 4h3v1h-3zm-1-3h1v3h-1zm4 0h1v3h-1zM463 360h3v1h-3zm0 4h3v1h-3zm-1-3h1v3h-1zm4 0h1v3h-1zM474 360h3v1h-3zm0 4h3v1h-3zm-1-3h1v3h-1zm4 0h1v3h-1zM482 360h3v1h-3zm0 4h3v1h-3zm-1-3h1v3h-1zm4 0h1v3h-1zM487 361h3v1h-3zm0 4h3v1h-3zm-1-3h1v3h-1zm4 0h1v3h-1zM491 361h3v1h-3zm0 4h3v1h-3zm-1-3h1v3h-1zm4 0h1v3h-1zM494 362h3v1h-3zm0 4h3v1h-3zm-1-3h1v3h-1zm4 0h1v3h-1zM495 363h3v1h-3zm0 4h3v1h-3zm-1-3h1v3h-1zm4 0h1v3h-1zM496 363h3v1h-3zm0 4h3v1h-3zm-1-3h1v3h-1zm4 0h1v3h-1zM495 364h3v1h-3zm0 4h3v1h-3zm-1-3h1v3h-1zm4 0h1v3h-1zM494 365h3v1h-3zm0 4h3v1h-3zm-1-3h1v3h-1zm4 0h1v3h-1zM493 366h3v1h-3zm0 4h3v1h-3zm-1-3h1v3h-1zm4 0h1v3h-1zM492 367h3v1h-3zm0 4h3v1h-3zm-1-3h1v3h-1zm4 0h1v3h-1zM490 369h3v1h-3zm0 4h3v1h-3zm-1-3h1v3h-1zm4 0h1v3h-1zM488 371h3v1h-3zm0 4h3v1h-3zm-1-3h1v3h-1zm4 0h1v3h-1zM486 372h3v1h-3zm0 4h3v1h-3zm-1-3h1v3h-1zm4 0h1v3h-1zM484 374h3v1h-3zm0 4h3v1h-3zm-1-3h1v3h-1zm4 0h1v3h-1zM482 376h3v1h-3zm0 4h3v1h-3zm-1-3h1v3h-1zm4 0h1v3h-1zM480 378h3v1h-3zm0 4h3v1h-3zm-1-3h1v3h-1zm4 0h1v3h-1zM478 381h3v1h-3zm0 4h3v1h-3zm-1-3h1v3h-1zm4 0h1v3h-1zM475 384h3v1h-3zm0 4h3v1h-3zm-1-3h1v3h-1zm4 0h1v3h-1zM473 386h3v1h-3zm0 4h3v1h-3zm-1-3h1v3h-1zm4 0h1v3h-1zM471 389h3v1h-3zm0 4h3v1h-3zm-1-3h1v3h-1zm4 0h1v3h-1zM469 392h3v1h-3zm0 4h3v1h-3zm-1-3h1v3h-1zm4 0h1v3h-1zM467 395h3v1h-3zm0 4h3v1h-3zm-1-3h1v3h-1zm4 0h1v3h-1zM466 398h3v1h-3zm0 4h3v1h-3zm-1-3h1v3h-1zm4 0h1v3h-1zM464 401h3v1h-3zm0 4h3v1h-3zm-1-3h1v3h-1zm4 0h1v3h-1zM462 404h3v1h-3zm0 4h3v1h-3zm-1-3h1v3h-1zm4 0h1v3h-1zM460 407h3v1h-3zm0 4h3v1h-3zm-1-3h1v3h-1zm4 0h1v3h-1zM458 410h3v1h-3zm0 4h3v1h-3zm-1-3h1v3h-1zm4 0h1v3h-1zM456 413h3v1h-3zm0 4h3v1h-3zm-1-3h1v3h-1zm4 0h1v3h-1zM455 415h3v1h-3zm0 4h3v1h-3zm-1-3h1v3h-1zm4 0h1v3h-1zM453 416h3v1h-3zm0 4h3v1h-3zm-1-3h1v3h-1zm4 0h1v3h-1zM451 418h3v1h-3zm0 4h3v1h-3zm-1-3h1v3h-1zm4 0h1v3h-1zM449 418h3v1h-3zm0 4h3v1h-3zm-1-3h1v3h-1zm4 0h1v3h-1zM447 418h3v1h-3zm0 4h3v1h-3zm-1-3h1v3h-1zm4 0h1v3h-1zM445 417h3v1h-3zm0 4h3v1h-3zm-1-3h1v3h-1zm4 0h1v3h-1zM443 415h3v1h-3zm0 4h3v1h-3zm-1-3h1v3h-1zm4 0h1v3h-1zM441 413h3v1h-3zm0 4h3v1h-3zm-1-3h1v3h-1zm4 0h1v3h-1zM439 411h3v1h-3zm0 4h3v1h-3zm-1-3h1v3h-1zm4 0h1v3h-1zM438 408h3v1h-3zm0 4h3v1h-3zm-1-3h1v3h-1zm4 0h1v3h-1zM436 406h3v1h-3zm0 4h3v1h-3zm-1-3h1v3h-1zm4 0h1v3h-1zM435 404h3v1h-3zm0 4h3v1h-3zm-1-3h1v3h-1zm4 0h1v3h-1zM434 402h3v1h-3zm0 4h3v1h-3zm-1-3h1v3h-1zm4 0h1v3h-1zM433 400h3v1h-3zm0 4h3v1h-3zm-1-3h1v3h-1zm4 0h1v3h-1zM432 398h3v1h-3zm0 4h3v1h-3zm-1-3h1v3h-1zm4 0h1v3h-1zM431 397h3v1h-3zm0 4h3v1h-3zm-1-3h1v3h-1zm4 0h1v3h-1zM430 395h3v1h-3zm0 4h3v1h-3zm-1-3h1v3h-1zm4 0h1v3h-1zM429 394h3v1h-3zm0 4h3v1h-3zm-1-3h1v3h-1zm4 0h1v3h-1zM428 392h3v1h-3zm0 4h3v1h-3zm-1-3h1v3h-1zm4 0h1v3h-1zM427 390h3v1h-3zm0 4h3v1h-3zm-1-3h1v3h-1zm4 0h1v3h-1zM425 388h3v1h-3zm0 4h3v1h-3zm-1-3h1v3h-1zm4 0h1v3h-1zM424 386h3v1h-3zm0 4h3v1h-3zm-1-3h1v3h-1zm4 0h1v3h-1zM422 384h3v1h-3zm0 4h3v1h-3zm-1-3h1v3h-1zm4 0h1v3h-1zM421 382h3v1h-3zm0 4h3v1h-3zm-1-3h1v3h-1zm4 0h1v3h-1zM419 380h3v1h-3zm0 4h3v1h-3zm-1-3h1v3h-1zm4 0h1v3h-1zM418 379h3v1h-3zm0 4h3v1h-3zm-1-3h1v3h-1zm4 0h1v3h-1zM416 377h3v1h-3zm0 4h3v1h-3zm-1-3h1v3h-1zm4 0h1v3h-1zM414 375h3v1h-3zm0 4h3v1h-3zm-1-3h1v3h-1zm4 0h1v3h-1zM412 373h3v1h-3zm0 4h3v1h-3zm-1-3h1v3h-1zm4 0h1v3h-1zM411 372h3v1h-3zm0 4h3v1h-3zm-1-3h1v3h-1zm4 0h1v3h-1zM409 370h3v1h-3zm0 4h3v1h-3zm-1-3h1v3h-1zm4 0h1v3h-1zM408 369h3v1h-3zm0 4h3v1h-3zm-1-3h1v3h-1zm4 0h1v3h-1zM406 368h3v1h-3zm0 4h3v1h-3zm-1-3h1v3h-1zm4 0h1v3h-1zM405 367h3v1h-3zm0 4h3v1h-3zm-1-3h1v3h-1zm4 0h1v3h-1zM404 366h3v1h-3zm0 4h3v1h-3zm-1-3h1v3h-1zm4 0h1v3h-1zM403 365h3v1h-3zm0 4h3v1h-3zm-1-3h1v3h-1zm4 0h1v3h-1zM402 364h3v1h-3zm0 4h3v1h-3zm-1-3h1v3h-1zm4 0h1v3h-1zM402 363h3v1h-3zm0 4h3v1h-3zm-1-3h1v3h-1zm4 0h1v3h-1zM402 362h3v1h-3zm0 4h3v1h-3zm-1-3h1v3h-1zm4 0h1v3h-1zM403 362h3v1h-3zm0 4h3v1h-3zm-1-3h1v3h-1zm4 0h1v3h-1zM405 361h3v1h-3zm0 4h3v1h-3zm-1-3h1v3h-1zm4 0h1v3h-1zM408 361h3v1h-3zm0 4h3v1h-3zm-1-3h1v3h-1zm4 0h1v3h-1zM411 361h3v1h-3zm0 4h3v1h-3zm-1-3h1v3h-1zm4 0h1v3h-1zM417 360h3v1h-3zm0 4h3v1h-3zm-1-3h1v3h-1zm4 0h1v3h-1zM423 360h3v1h-3zm0 4h3v1h-3zm-1-3h1v3h-1zm4 0h1v3h-1zM430 360h3v1h-3zm0 4h3v1h-3zm-1-3h1v3h-1zm4 0h1v3h-1zM441 360h3v1h-3zm0 4h3v1h-3zm-1-3h1v3h-1zm4 0h1v3h-1zM450 360h3v1h-3zm0 4h3v1h-3zm-1-3h1v3h-1zm4 0h1v3h-1zM460 360h3v1h-3zm0 4h3v1h-3zm-1-3h1v3h-1zm4 0h1v3h-1zM470 360h3v1h-3zm0 4h3v1h-3zm-1-3h1v3h-1zm4 0h1v3h-1zM479 360h3v1h-3zm0 4h3v1h-3zm-1-3h1v3h-1zm4 0h1v3h-1zM486 361h3v1h-3zm0 4h3v1h-3zm-1-3h1v3h-1zm4 0h1v3h-1zM490 361h3v1h-3zm0 4h3v1h-3zm-1-3h1v3h-1zm4 0h1v3h-1zM493 362h3v1h-3zm0 4h3v1h-3zm-1-3h1v3h-1zm4 0h1v3h-1zM495 362h3v1h-3zm0 4h3v1h-3zm-1-3h1v3h-1zm4 0h1v3h-1zM495 365h3v1h-3zm0 4h3v1h-3zm-1-3h1v3h-1zm4 0h1v3h-1zM494 366h3v1h-3zm0 4h3v1h-3zm-1-3h1v3h-1zm4 0h1v3h-1z"/>
</svg>
<rect class="b" x="399.5" y="359.5" width="101.0" height="63.0"/>
<text class="l" x="564.85" y="398.00" text-anchor="middle">p1anet2.v</text>
<rect class="b" x="513.5" y="359.5" width="101.0" height="63.0"/>
<line x1="180.5" y1="57.5" x2="180.5" y2="50.0"/>
<text class="a" x="179.7" y="41.8" text-anchor="middle">0.0</text>
<line x1="202.5" y1="57.5" x2="202.5" y2="50.0"/>
<line x1="224.5" y1="57.5" x2="224.5" y2="50.0"/>
<text class="a" x="223.7" y="41.8" text-anchor="middle">1.0</text>
<line x1="246.5" y1="57.5" x2="246.5" y2="50.0"/>
<line x1="268.5" y1="57.5" x2="268.5" y2="50.0"/>
<text class="a" x="267.7" y="41.8" text-anchor="middle">2.0</text>
<line x1="413.5" y1="57.5" x2="413.5" y2="50.0"/>
<text class="a" x="412.7" y="41.8" text-anchor="middle">-0.4</text>
<line x1="431.5" y1="57.5" x2="431.5" y2="50.0"/>
<line x1="450.5" y1="57.5" x2="450.5" y2="50.0"/>
<text class="a" x="449.7" y="41.8" text-anchor="middle">0.0</text>
<line x1="468.5" y1="57.5" x2="468.5" y2="50.0"/>
<line x1="486.5" y1="57.5" x2="486.5" y2="50.0"/>
<text class="a" x="485.7" y="41.8" text-anchor="middle">0.4</text>
<line x1="60.5" y1="422.5" x2="60.5" y2="430.0"/>
<text class="a" x="59.7" y="445.8" text-anchor="middle">0</text>
<line x1="79.5" y1="422.5" x2="79.5" y2="430.0"/>
<text class="a" x="78.7" y="445.8" text-anchor="middle">2</text>
<line x1="98.5" y1="422.5" x2="98.5" y2="430.0"/>
<text class="a" x="97.7" y="445.8" text-anchor="middle">4</text>
<line x1="117.5" y1="422.5" x2="117.5" y2="430.0"/>
<text class="a" x="116.7" y="445.8" text-anchor="middle">6</text>
<line x1="136.5" y1="422.5" x2="136.5" y2="430.0"/>
<text class="a" x="135.7" y="445.8" text-anchor="middle">8</text>
<line x1="154.5" y1="422.5" x2="154.5" y2="430.0"/>
<text class="a" x="153.7" y="445.8" text-anchor="middle">10</text>
<line x1="289.5" y1="422.5" x2="289.5" y2="430.0"/>
<text class="a" x="288.7" y="445.8" text-anchor="middle">-2</text>
<line x1="312.5" y1="422.5" x2="312.5" y2="430.0"/>
<text class="a" x="311.7" y="445.8" text-anchor="middle">-1</text>
<line x1="336.5" y1="422.5" x2="336.5" y2="430.0"/>
<text class="a" x="335.7" y="445.8" text-anchor="middle">0</text>
<line x1="359.5" y1="422.5" x2="359.5" y2="430.0"/>
<text class="a" x="358.7" y="445.8" text-anchor="middle">1</text>
<line x1="382.5" y1="422.5" x2="382.5" y2="430.0"/>
<text class="a" x="381.7" y="445.8" text-anchor="middle">2</text>
<line x1="534.5" y1="422.5" x2="534.5" y2="430.0"/>
<text class="a" x="533.7" y="445.8" text-anchor="middle">-3</text>
<line x1="558.5" y1="422.5" x2="558.5" y2="430.0"/>
<text class="a" x="557.7" y="445.8" text-anchor="middle">-2</text>
<line x1="581.5" y1="422.5" x2="581.5" y2="430.0"/>
<text class="a" x="580.7" y="445.8" text-anchor="middle">-1</text>
<line x1="605.5" y1="422.5" x2="605.5" y2="430.0"/>
<text class="a" x="604.7" y="445.8" text-anchor="middle">0</text>
<line x1="57.5" y1="189.5" x2="50.0" y2="189.5"/>
<text class="a" transform="translate(41.8 190.3) rotate(-90)" text-anchor="middle">0.0</text>
<line x1="57.5" y1="176.5" x2="50.0" y2="176.5"/>
<line x1="57.5" y1="162.5" x2="50.0" y2="162.5"/>
<text class="a" transform="translate(41.8 163.3) rotate(-90)" text-anchor="middle">1.0</text>
<line x1="57.5" y1="148.5" x2="50.0" y2="148.5"/>
<line x1="57.5" y1="135.5" x2="50.0" y2="135.5"/>
<text class="a" transform="translate(41.8 136.3) rotate(-90)" text-anchor="middle">2.0</text>
<line x1="57.5" y1="338.5" x2="50.0" y2="338.5"/>
<text class="a" transform="translate(41.8 339.3) rotate(-90)" text-anchor="middle">-0.4</text>
<line x1="57.5" y1="327.5" x2="50.0" y2="327.5"/>
<line x1="57.5" y1="315.5" x2="50.0" y2="315.5"/>
<line x1="57.5" y1="304.5" x2="50.0" y2="304.5"/>
<text class="a" transform="translate(41.8 305.3) rotate(-90)" text-anchor="middle">0.2</text>
<line x1="57.5" y1="293.5" x2="50.0" y2="293.5"/>
<line x1="614.5" y1="117.5" x2="622.0" y2="117.5"/>
<text class="a" transform="translate(637.8 118.3) rotate(-90)" text-anchor="middle">0</text>
<line x1="614.5" y1="106.5" x2="622.0" y2="106.5"/>
<line x1="614.5" y1="94.5" x2="622.0" y2="94.5"/>
<text class="a" transform="translate(637.8 95.3) rotate(-90)" text-anchor="middle">4</text>
<line x1="614.5" y1="82.5" x2="622.0" y2="82.5"/>
<line x1="614.5" y1="70.5" x2="622.0" y2="70.5"/>
<text class="a" transform="translate(637.8 71.3) rotate(-90)" text-anchor="middle">8</text>
<line x1="614.5" y1="59.5" x2="622.0" y2="59.5"/>
<line x1="614.5" y1="269.5" x2="622.0" y2="269.5"/>
<text class="a" transform="translate(637.8 270.3) rotate(-90)" text-anchor="middle">-2</text>
<line x1="614.5" y1="254.5" x2="622.0" y2="254.5"/>
<line x1="614.5" y1="239.5" x2="622.0" y2="239.5"/>
<text class="a" transform="translate(637.8 240.3) rotate(-90)" text-anchor="middle">0</text>
<line x1="614.5" y1="225.5" x2="622.0" y2="225.5"/>
<text class="a" transform="translate(637.8 226.3) rotate(-90)" text-anchor="middle">1</text>
<line x1="614.5" y1="210.5" x2="622.0" y2="210.5"/>
<text class="a" transform="translate(637.8 211.3) rotate(-90)" text-anchor="middle">2</text>
<line x1="614.5" y1="409.5" x2="622.0" y2="409.5"/>
<text class="a" transform="translate(637.8 410.3) rotate(-90)" text-anchor="middle">-3</text>
<line x1="614.5" y1="395.5" x2="622.0" y2="395.5"/>
<line x1="614.5" y1="380.5" x2="622.0" y2="380.5"/>
<text class="a" transform="translate(637.8 381.3) rotate(-90)" text-anchor="middle">-1</text>
<line x1="614.5" y1="365.5" x2="622.0" y2="365.5"/>
</svg></body></html>
